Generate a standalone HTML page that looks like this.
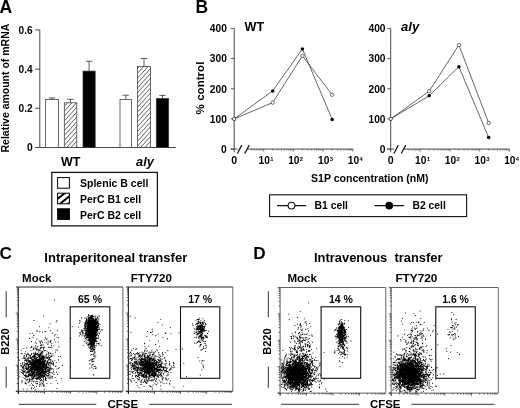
<!DOCTYPE html><html><head><meta charset="utf-8"><style>html,body{margin:0;padding:0;background:#fff}svg{display:block;will-change:transform}text{font-family:"Liberation Sans",sans-serif;font-weight:bold;fill:#000;white-space:pre}</style></head><body>
<svg width="520" height="408" viewBox="0 0 520 408">
<rect width="520" height="408" fill="#fff"/>
<defs><pattern id="h" width="1.9" height="1.9" patternUnits="userSpaceOnUse" patternTransform="rotate(33)"><rect width="1.9" height="1.9" fill="#fff"/><line x1="0.5" y1="0" x2="0.5" y2="1.9" stroke="#333" stroke-width="0.5"/></pattern><clipPath id="sw"><rect x="57.6" y="193.2" width="11.8" height="10.6"/></clipPath><pattern id="h2" width="4.2" height="4.2" patternUnits="userSpaceOnUse" patternTransform="rotate(45)"><rect width="4.2" height="4.2" fill="#fff"/><rect width="2.1" height="4.2" fill="#000"/></pattern></defs>
<text x="-0.4" y="13.3" font-size="17.5" text-anchor="start" textLength="12.7" lengthAdjust="spacingAndGlyphs">A</text>
<text transform="translate(9 88.1) rotate(-90)" font-size="10.6" text-anchor="middle" textLength="128.8" lengthAdjust="spacingAndGlyphs">Relative amount of mRNA</text>
<path d="M39.8 29.9V147.5H176" fill="none" stroke="#333" stroke-width="0.9"/>
<path d="M35.2 29.9H39.8" stroke="#333" stroke-width="0.9"/>
<text x="32.7" y="33.6" font-size="10.3" text-anchor="end" textLength="14.1" lengthAdjust="spacingAndGlyphs">0.6</text>
<path d="M35.2 69.1H39.8" stroke="#333" stroke-width="0.9"/>
<text x="32.7" y="72.8" font-size="10.3" text-anchor="end" textLength="14.1" lengthAdjust="spacingAndGlyphs">0.4</text>
<path d="M35.2 108.3H39.8" stroke="#333" stroke-width="0.9"/>
<text x="32.7" y="112.0" font-size="10.3" text-anchor="end" textLength="14.1" lengthAdjust="spacingAndGlyphs">0.2</text>
<path d="M35.2 147.5H39.8" stroke="#333" stroke-width="0.9"/>
<text x="32.7" y="151.2" font-size="10.3" text-anchor="end" textLength="5.7" lengthAdjust="spacingAndGlyphs">0</text>
<rect x="45.6" y="99.5" width="12.8" height="48.0" fill="#fff" stroke="#3a3a3a" stroke-width="0.75"/>
<path d="M52.0 99.5V97.9M48.8 97.9h6.4" stroke="#333" stroke-width="0.8" fill="none"/>
<clipPath id="cb1"><rect x="64.3" y="102.8" width="12.5" height="44.7"/></clipPath>
<rect x="64.3" y="102.8" width="12.5" height="44.7" fill="#fff"/>
<path d="M64.3 57.90l12.5 -13.75M64.3 62.75l12.5 -13.75M64.3 67.60l12.5 -13.75M64.3 72.45l12.5 -13.75M64.3 77.30l12.5 -13.75M64.3 82.15l12.5 -13.75M64.3 87.00l12.5 -13.75M64.3 91.85l12.5 -13.75M64.3 96.70l12.5 -13.75M64.3 101.55l12.5 -13.75M64.3 106.40l12.5 -13.75M64.3 111.25l12.5 -13.75M64.3 116.10l12.5 -13.75M64.3 120.95l12.5 -13.75M64.3 125.80l12.5 -13.75M64.3 130.65l12.5 -13.75M64.3 135.50l12.5 -13.75M64.3 140.35l12.5 -13.75M64.3 145.20l12.5 -13.75M64.3 150.05l12.5 -13.75M64.3 154.90l12.5 -13.75M64.3 159.75l12.5 -13.75M64.3 164.60l12.5 -13.75" clip-path="url(#cb1)" stroke="#333" stroke-width="0.8" fill="none"/>
<rect x="64.3" y="102.8" width="12.5" height="44.7" fill="none" stroke="#3a3a3a" stroke-width="0.75"/>
<path d="M70.5 102.8V99.3M67.3 99.3h6.4" stroke="#333" stroke-width="0.8" fill="none"/>
<rect x="83" y="71.1" width="12.2" height="76.4" fill="#000" stroke="#3a3a3a" stroke-width="0.75"/>
<path d="M89.1 71.1V61.3M85.9 61.3h6.4" stroke="#333" stroke-width="0.8" fill="none"/>
<rect x="120" y="99.5" width="11.5" height="48.0" fill="#fff" stroke="#3a3a3a" stroke-width="0.75"/>
<path d="M125.8 99.5V95.2M122.5 95.2h6.4" stroke="#333" stroke-width="0.8" fill="none"/>
<clipPath id="cb4"><rect x="137.4" y="66.4" width="13.2" height="81.1"/></clipPath>
<rect x="137.4" y="66.4" width="13.2" height="81.1" fill="#fff"/>
<path d="M137.4 24.90l13.2 -14.52M137.4 29.75l13.2 -14.52M137.4 34.60l13.2 -14.52M137.4 39.45l13.2 -14.52M137.4 44.30l13.2 -14.52M137.4 49.15l13.2 -14.52M137.4 54.00l13.2 -14.52M137.4 58.85l13.2 -14.52M137.4 63.70l13.2 -14.52M137.4 68.55l13.2 -14.52M137.4 73.40l13.2 -14.52M137.4 78.25l13.2 -14.52M137.4 83.10l13.2 -14.52M137.4 87.95l13.2 -14.52M137.4 92.80l13.2 -14.52M137.4 97.65l13.2 -14.52M137.4 102.50l13.2 -14.52M137.4 107.35l13.2 -14.52M137.4 112.20l13.2 -14.52M137.4 117.05l13.2 -14.52M137.4 121.90l13.2 -14.52M137.4 126.75l13.2 -14.52M137.4 131.60l13.2 -14.52M137.4 136.45l13.2 -14.52M137.4 141.30l13.2 -14.52M137.4 146.15l13.2 -14.52M137.4 151.00l13.2 -14.52M137.4 155.85l13.2 -14.52M137.4 160.70l13.2 -14.52M137.4 165.55l13.2 -14.52" clip-path="url(#cb4)" stroke="#333" stroke-width="0.8" fill="none"/>
<rect x="137.4" y="66.4" width="13.2" height="81.1" fill="none" stroke="#3a3a3a" stroke-width="0.75"/>
<path d="M144.0 66.4V58.5M140.8 58.5h6.4" stroke="#333" stroke-width="0.8" fill="none"/>
<rect x="156.3" y="98.5" width="12.4" height="49.0" fill="#000" stroke="#3a3a3a" stroke-width="0.75"/>
<path d="M162.5 98.5V95.4M159.3 95.4h6.4" stroke="#333" stroke-width="0.8" fill="none"/>
<text x="61" y="165.6" font-size="12.3" text-anchor="start" textLength="19.4" lengthAdjust="spacingAndGlyphs">WT</text>
<text x="136.1" y="165.6" font-size="12.3" text-anchor="start" textLength="17.8" lengthAdjust="spacingAndGlyphs" font-style="italic">aly</text>
<rect x="51.8" y="172.4" width="105.6" height="53.5" fill="#fff" stroke="#111" stroke-width="1.25"/>
<rect x="57.6" y="177.6" width="11.8" height="10.6" fill="#fff" stroke="#000" stroke-width="1"/>
<text x="80" y="187.3" font-size="10.5" text-anchor="start" textLength="68.4" lengthAdjust="spacingAndGlyphs">Splenic B cell</text>
<g clip-path="url(#sw)" stroke="#000" stroke-width="2"><path d="M50 198.1l30 -23.8M50 204.9l30 -23.8M50 211.7l30 -23.8M50 218.5l30 -23.8"/></g>
<rect x="57.6" y="193.2" width="11.8" height="10.6" fill="none" stroke="#000" stroke-width="1"/>
<text x="80" y="203.2" font-size="10.5" text-anchor="start" textLength="61.2" lengthAdjust="spacingAndGlyphs">PerC B1 cell</text>
<rect x="57.6" y="208.8" width="11.8" height="10.6" fill="#000" stroke="#000" stroke-width="1"/>
<text x="80" y="218.7" font-size="10.5" text-anchor="start" textLength="61.2" lengthAdjust="spacingAndGlyphs">PerC B2 cell</text>
<text x="195.5" y="12.6" font-size="17.5" text-anchor="start" textLength="12.6" lengthAdjust="spacingAndGlyphs">B</text>
<text transform="translate(203.7 88) rotate(-90)" font-size="10.5" text-anchor="middle" textLength="52.8" lengthAdjust="spacingAndGlyphs">% control</text>
<path d="M234.2 28.4V152.29999999999998M230.39999999999998 149.1H237.7M247.5 149.1H353.2" fill="none" stroke="#333" stroke-width="0.9"/>
<path d="M237.39999999999998 153.5l4.4 -8.4M244.79999999999998 153.5l4.4 -8.4" fill="none" stroke="#111" stroke-width="1.25"/>
<path d="M230.79999999999998 149.1H234.2" stroke="#444" stroke-width="0.9"/>
<text x="226.8" y="152.8" font-size="10.4" text-anchor="end" textLength="5.7" lengthAdjust="spacingAndGlyphs">0</text>
<path d="M230.79999999999998 118.9H234.2" stroke="#444" stroke-width="0.9"/>
<text x="226.8" y="122.6" font-size="10.4" text-anchor="end" textLength="17" lengthAdjust="spacingAndGlyphs">100</text>
<path d="M230.79999999999998 88.8H234.2" stroke="#444" stroke-width="0.9"/>
<text x="226.8" y="92.5" font-size="10.4" text-anchor="end" textLength="17" lengthAdjust="spacingAndGlyphs">200</text>
<path d="M230.79999999999998 58.6H234.2" stroke="#444" stroke-width="0.9"/>
<text x="226.8" y="62.3" font-size="10.4" text-anchor="end" textLength="17" lengthAdjust="spacingAndGlyphs">300</text>
<path d="M230.79999999999998 28.4H234.2" stroke="#444" stroke-width="0.9"/>
<text x="226.8" y="32.1" font-size="10.4" text-anchor="end" textLength="17" lengthAdjust="spacingAndGlyphs">400</text>
<path d="M251.9 149.1v1.4M254.7 149.1v1.4M257.1 149.1v1.4M259.1 149.1v1.4M260.8 149.1v1.4M262.3 149.1v1.4M263.7 149.1v2.6M272.7 149.1v1.4M277.9 149.1v1.4M281.6 149.1v1.4M284.5 149.1v1.4M286.8 149.1v1.4M288.8 149.1v1.4M290.6 149.1v1.4M292.1 149.1v1.4M293.4 149.1v2.6M302.4 149.1v1.4M307.6 149.1v1.4M311.4 149.1v1.4M314.2 149.1v1.4M316.6 149.1v1.4M318.6 149.1v1.4M320.3 149.1v1.4M321.8 149.1v1.4M323.2 149.1v2.6M332.2 149.1v1.4M337.4 149.1v1.4M341.1 149.1v1.4M344.0 149.1v1.4M346.3 149.1v1.4M348.3 149.1v1.4M350.1 149.1v1.4M351.6 149.1v1.4M352.9 149.1v2.6" stroke="#444" stroke-width="0.7" fill="none"/>
<text x="234.2" y="163.9" font-size="10.2" text-anchor="middle" textLength="5.9" lengthAdjust="spacingAndGlyphs">0</text>
<text x="258.5" y="163.9" font-size="10.2">10<tspan dy="-3.4" dx="0.3" font-size="5.8">1</tspan></text>
<text x="288.2" y="163.9" font-size="10.2">10<tspan dy="-3.4" dx="0.3" font-size="5.8">2</tspan></text>
<text x="318.0" y="163.9" font-size="10.2">10<tspan dy="-3.4" dx="0.3" font-size="5.8">3</tspan></text>
<text x="347.8" y="163.9" font-size="10.2">10<tspan dy="-3.4" dx="0.3" font-size="5.8">4</tspan></text>
<polyline points="234.2,118.9 272.7,102.6 302.4,55.9 332.2,94.8" fill="none" stroke="#333" stroke-width="0.75"/>
<polyline points="234.2,118.9 272.7,90.9 302.4,48.9 332.2,119.5" fill="none" stroke="#333" stroke-width="0.75"/>
<circle cx="234.2" cy="118.9" r="1.75" fill="#000"/>
<circle cx="272.7" cy="90.9" r="1.75" fill="#000"/>
<circle cx="302.4" cy="48.9" r="1.75" fill="#000"/>
<circle cx="332.2" cy="119.5" r="1.75" fill="#000"/>
<circle cx="234.2" cy="118.9" r="1.7" fill="#fff" stroke="#333" stroke-width="0.7"/>
<circle cx="272.7" cy="102.6" r="1.7" fill="#fff" stroke="#333" stroke-width="0.7"/>
<circle cx="302.4" cy="55.9" r="1.7" fill="#fff" stroke="#333" stroke-width="0.7"/>
<circle cx="332.2" cy="94.8" r="1.7" fill="#fff" stroke="#333" stroke-width="0.7"/>
<text x="244.5" y="31.2" font-size="12.3" text-anchor="start" textLength="19.6" lengthAdjust="spacingAndGlyphs">WT</text>
<path d="M390.7 28.4V152.29999999999998M386.9 149.1H394.2M404.0 149.1H509.7" fill="none" stroke="#333" stroke-width="0.9"/>
<path d="M393.9 153.5l4.4 -8.4M401.3 153.5l4.4 -8.4" fill="none" stroke="#111" stroke-width="1.25"/>
<path d="M387.3 149.1H390.7" stroke="#444" stroke-width="0.9"/>
<text x="385.5" y="152.8" font-size="10.4" text-anchor="end" textLength="5.7" lengthAdjust="spacingAndGlyphs">0</text>
<path d="M387.3 118.9H390.7" stroke="#444" stroke-width="0.9"/>
<text x="385.5" y="122.6" font-size="10.4" text-anchor="end" textLength="17" lengthAdjust="spacingAndGlyphs">100</text>
<path d="M387.3 88.8H390.7" stroke="#444" stroke-width="0.9"/>
<text x="385.5" y="92.5" font-size="10.4" text-anchor="end" textLength="17" lengthAdjust="spacingAndGlyphs">200</text>
<path d="M387.3 58.6H390.7" stroke="#444" stroke-width="0.9"/>
<text x="385.5" y="62.3" font-size="10.4" text-anchor="end" textLength="17" lengthAdjust="spacingAndGlyphs">300</text>
<path d="M387.3 28.4H390.7" stroke="#444" stroke-width="0.9"/>
<text x="385.5" y="32.1" font-size="10.4" text-anchor="end" textLength="17" lengthAdjust="spacingAndGlyphs">400</text>
<path d="M408.4 149.1v1.4M411.2 149.1v1.4M413.6 149.1v1.4M415.6 149.1v1.4M417.3 149.1v1.4M418.8 149.1v1.4M420.2 149.1v2.6M429.2 149.1v1.4M434.4 149.1v1.4M438.1 149.1v1.4M441.0 149.1v1.4M443.3 149.1v1.4M445.3 149.1v1.4M447.1 149.1v1.4M448.6 149.1v1.4M449.9 149.1v2.6M458.9 149.1v1.4M464.1 149.1v1.4M467.9 149.1v1.4M470.7 149.1v1.4M473.1 149.1v1.4M475.1 149.1v1.4M476.8 149.1v1.4M478.3 149.1v1.4M479.7 149.1v2.6M488.7 149.1v1.4M493.9 149.1v1.4M497.6 149.1v1.4M500.5 149.1v1.4M502.8 149.1v1.4M504.8 149.1v1.4M506.6 149.1v1.4M508.1 149.1v1.4M509.4 149.1v2.6" stroke="#444" stroke-width="0.7" fill="none"/>
<text x="390.7" y="163.9" font-size="10.2" text-anchor="middle" textLength="5.9" lengthAdjust="spacingAndGlyphs">0</text>
<text x="415.0" y="163.9" font-size="10.2">10<tspan dy="-3.4" dx="0.3" font-size="5.8">1</tspan></text>
<text x="444.8" y="163.9" font-size="10.2">10<tspan dy="-3.4" dx="0.3" font-size="5.8">2</tspan></text>
<text x="474.5" y="163.9" font-size="10.2">10<tspan dy="-3.4" dx="0.3" font-size="5.8">3</tspan></text>
<text x="504.2" y="163.9" font-size="10.2">10<tspan dy="-3.4" dx="0.3" font-size="5.8">4</tspan></text>
<polyline points="390.7,118.9 429.2,91.2 458.9,45.0 488.7,123.1" fill="none" stroke="#333" stroke-width="0.75"/>
<polyline points="390.7,118.9 429.2,95.7 458.9,66.7 488.7,137.6" fill="none" stroke="#333" stroke-width="0.75"/>
<circle cx="390.7" cy="118.9" r="1.75" fill="#000"/>
<circle cx="429.2" cy="95.7" r="1.75" fill="#000"/>
<circle cx="458.9" cy="66.7" r="1.75" fill="#000"/>
<circle cx="488.7" cy="137.6" r="1.75" fill="#000"/>
<circle cx="390.7" cy="118.9" r="1.7" fill="#fff" stroke="#333" stroke-width="0.7"/>
<circle cx="429.2" cy="91.2" r="1.7" fill="#fff" stroke="#333" stroke-width="0.7"/>
<circle cx="458.9" cy="45.0" r="1.7" fill="#fff" stroke="#333" stroke-width="0.7"/>
<circle cx="488.7" cy="123.1" r="1.7" fill="#fff" stroke="#333" stroke-width="0.7"/>
<text x="401" y="31.2" font-size="12.3" text-anchor="start" textLength="18.2" lengthAdjust="spacingAndGlyphs" font-style="italic">aly</text>
<text x="311" y="182.3" font-size="10.2" text-anchor="start" textLength="117.5" lengthAdjust="spacingAndGlyphs">S1P concentration (nM)</text>
<rect x="269.6" y="194.8" width="197" height="21.8" fill="#fff" stroke="#111" stroke-width="1.1"/>
<path d="M277 205.6h29.2M374.5 205.6h29.5" stroke="#111" stroke-width="1.1"/>
<circle cx="291.5" cy="205.6" r="3.4" fill="#fff" stroke="#111" stroke-width="1.1"/>
<circle cx="389.2" cy="205.6" r="3.9" fill="#000"/>
<text x="314.5" y="209" font-size="10.4" text-anchor="start" textLength="33.5" lengthAdjust="spacingAndGlyphs">B1 cell</text>
<text x="412.6" y="209" font-size="10.4" text-anchor="start" textLength="33.2" lengthAdjust="spacingAndGlyphs">B2 cell</text>
<text x="-0.6" y="258.8" font-size="17.3" text-anchor="start" textLength="12.4" lengthAdjust="spacingAndGlyphs">C</text>
<text x="253.2" y="258.8" font-size="17.3" text-anchor="start" textLength="12.4" lengthAdjust="spacingAndGlyphs">D</text>
<text x="44.3" y="262.3" font-size="12.4" text-anchor="start" textLength="143" lengthAdjust="spacingAndGlyphs">Intraperitoneal transfer</text>
<text x="314" y="262.3" font-size="12.4" text-anchor="start" textLength="128.5" lengthAdjust="spacingAndGlyphs">Intravenous  transfer</text>
<text x="22.1" y="281.7" font-size="10.9" text-anchor="start" textLength="29.4" lengthAdjust="spacingAndGlyphs">Mock</text>
<path d="M36.4 361.3h0M39.6 356.7h0M38.1 377.5h0M37.4 366.3h0M34.2 363.8h0M33.4 368.9h0M36.1 361.5h0M40.2 373.6h0M47.4 357.4h0M43.3 358.6h0M46.3 364.7h0M41.0 361.4h0M38.7 372.7h0M33.8 357.1h0M39.1 361.6h0M30.5 366.6h0M37.9 368.3h0M45.6 370.6h0M40.4 367.1h0M43.6 376.8h0M37.5 362.9h0M33.6 366.3h0M37.2 369.8h0M37.5 363.7h0M43.9 363.8h0M47.0 362.9h0M36.1 362.0h0M37.7 359.5h0M38.5 362.4h0M37.7 357.3h0M34.1 367.3h0M39.5 357.1h0M40.5 376.0h0M40.6 374.1h0M34.3 371.0h0M38.6 364.2h0M32.1 362.2h0M42.8 371.6h0M35.0 366.2h0M38.0 368.2h0M37.3 361.5h0M36.8 370.8h0M34.9 361.1h0M32.0 365.8h0M46.0 356.3h0M40.1 361.9h0M40.2 367.9h0M47.5 362.9h0M38.7 362.9h0M41.3 369.3h0M39.2 364.9h0M43.9 371.7h0M41.1 352.7h0M40.4 368.2h0M38.1 367.9h0M40.2 357.2h0M43.8 358.5h0M30.8 369.8h0M38.6 359.7h0M37.5 361.9h0M37.9 368.3h0M31.2 363.5h0M42.1 367.7h0M35.7 360.7h0M38.2 366.8h0M37.1 370.8h0M32.5 366.9h0M37.3 353.9h0M31.8 368.6h0M35.4 365.5h0M37.9 360.5h0M39.1 372.4h0M39.4 356.2h0M38.6 374.9h0M47.7 361.9h0M40.9 373.4h0M34.2 365.0h0M36.7 358.3h0M36.5 365.7h0M38.4 366.9h0M36.7 368.0h0M35.7 370.7h0M45.7 360.6h0M39.3 367.8h0M37.8 369.0h0M38.1 363.8h0M38.3 360.4h0M44.7 360.3h0M41.0 369.1h0M43.6 369.4h0M26.7 360.9h0M40.4 358.3h0M43.4 371.6h0M47.0 357.2h0M39.3 366.0h0M32.3 361.0h0M41.5 356.1h0M36.7 365.9h0M32.0 364.2h0M36.7 372.7h0M43.4 377.0h0M43.9 364.2h0M42.0 370.5h0M35.0 370.6h0M49.2 362.5h0M34.5 360.7h0M38.8 373.5h0M33.4 363.3h0M44.4 365.1h0M40.9 363.7h0M42.7 364.5h0M39.5 362.1h0M38.9 369.1h0M39.9 371.7h0M31.6 363.3h0M43.1 358.1h0M42.8 365.5h0M37.6 357.5h0M39.1 361.9h0M40.4 371.6h0M45.4 377.2h0M40.9 367.2h0M39.3 359.7h0M37.1 369.2h0M33.2 353.6h0M36.8 361.6h0M39.5 373.1h0M38.2 369.1h0M39.5 358.1h0M42.2 356.6h0M40.9 369.6h0M40.3 365.0h0M41.8 362.1h0M39.9 367.3h0M39.1 362.2h0M41.1 355.3h0M32.3 369.4h0M44.2 361.9h0M34.0 360.0h0M42.5 358.3h0M39.2 366.5h0M43.6 361.0h0M39.3 368.4h0M35.4 363.8h0M43.5 370.8h0M39.9 363.2h0M39.7 361.8h0M39.5 355.0h0M43.2 359.5h0M42.5 368.9h0M40.1 381.0h0M33.0 358.7h0M37.6 359.8h0M39.6 367.0h0M46.4 367.7h0M40.7 361.7h0M38.8 365.6h0M44.0 356.9h0M38.8 363.7h0M39.1 369.9h0M39.8 373.7h0M33.2 364.3h0M43.0 363.9h0M40.9 367.6h0M38.1 370.9h0M34.6 367.7h0M40.1 361.3h0M44.8 367.1h0M36.7 370.2h0M35.0 361.5h0M40.9 358.3h0M32.8 367.9h0M30.3 367.1h0M37.4 370.2h0M36.5 365.7h0M38.1 361.9h0M37.0 363.0h0M40.6 359.9h0M38.3 360.3h0M36.8 362.3h0M37.4 362.7h0M41.8 371.0h0M43.1 358.9h0M42.8 365.0h0M42.0 362.2h0M26.0 372.9h0M35.2 366.6h0M38.0 363.3h0M40.1 369.5h0M32.8 365.6h0M44.9 362.8h0M40.4 373.2h0M36.8 368.9h0M39.9 374.2h0M37.9 371.2h0M36.2 369.3h0M41.3 365.9h0M37.4 359.6h0M33.6 368.9h0M36.7 365.6h0M38.8 368.8h0M34.9 365.2h0M44.3 361.7h0M34.9 360.1h0M46.3 368.9h0M42.8 371.9h0M35.5 363.8h0M39.8 367.6h0M44.0 372.4h0M38.5 361.0h0M34.5 363.5h0M39.7 359.5h0M47.2 371.4h0M33.3 366.6h0M41.5 362.9h0M39.3 356.7h0M38.8 364.4h0M37.7 370.4h0M38.0 363.8h0M43.4 363.1h0M41.7 368.6h0M35.3 358.9h0M45.5 365.6h0M34.1 368.4h0M41.9 361.3h0M40.0 361.0h0M44.1 366.6h0M40.7 364.8h0M43.5 364.1h0M39.2 366.4h0M43.2 366.4h0M40.7 360.5h0M47.9 361.9h0M36.5 367.6h0M44.1 371.1h0M41.1 372.3h0M40.0 360.9h0M37.0 371.0h0M41.1 369.2h0M33.4 365.2h0M33.8 367.8h0M42.1 369.6h0M33.1 374.5h0M45.0 359.9h0M38.2 368.4h0M40.3 364.6h0M39.6 364.3h0M41.0 371.2h0M38.2 369.5h0M37.8 360.1h0M38.8 363.9h0M43.5 366.5h0M43.8 358.0h0M44.4 369.8h0M40.8 364.9h0M38.5 366.2h0M32.6 367.1h0M41.9 374.6h0M42.7 365.5h0M37.7 363.5h0M42.5 374.3h0M44.5 362.8h0M39.7 362.6h0M43.5 358.2h0M40.5 370.9h0M32.4 366.7h0M37.4 367.8h0M37.7 366.2h0M41.4 364.6h0M35.9 361.3h0M37.6 361.3h0M35.5 367.6h0M39.2 366.0h0M39.6 373.7h0M43.2 361.4h0M42.5 362.8h0M40.0 360.1h0M40.3 372.4h0M39.7 359.0h0M39.8 369.3h0M45.5 372.8h0M29.4 364.6h0M38.6 369.1h0M40.6 354.4h0M43.8 363.4h0M34.9 356.8h0M40.7 366.2h0M42.8 365.4h0M37.5 361.4h0M31.7 370.2h0M37.9 367.2h0M34.5 362.7h0M41.9 362.7h0M35.9 357.8h0M46.4 364.4h0M39.9 376.3h0M36.1 361.7h0M37.3 367.5h0M34.9 362.5h0M40.9 369.5h0M45.3 367.6h0M38.4 364.2h0M43.0 356.2h0M35.5 362.7h0M40.5 371.5h0M48.5 364.1h0M33.7 368.6h0M44.2 362.9h0M44.0 355.8h0M31.8 367.6h0M33.6 367.0h0M35.4 362.4h0M43.2 363.5h0M37.6 366.9h0M38.6 362.3h0M42.1 367.2h0M39.8 364.3h0M40.2 353.3h0M38.0 364.6h0M43.8 362.3h0M36.2 361.1h0M46.0 367.4h0M38.0 362.9h0M36.1 368.2h0M41.9 371.0h0M41.1 366.1h0M31.4 357.4h0M40.2 361.6h0M33.9 370.1h0M36.0 364.1h0M42.4 361.2h0M35.8 364.9h0M40.7 368.0h0M37.8 366.7h0M47.0 368.7h0M38.9 361.1h0M34.6 364.0h0M34.9 364.1h0M35.7 365.3h0M39.8 354.6h0M39.3 364.2h0M43.2 358.5h0M39.9 372.5h0M39.8 373.4h0M40.6 374.0h0M38.8 369.6h0M40.4 362.9h0M42.4 370.3h0M42.4 364.4h0M37.1 368.5h0M32.2 360.8h0M36.0 362.4h0M40.4 367.8h0M29.3 374.5h0M37.4 365.3h0M41.1 377.0h0M37.0 379.6h0M34.8 358.8h0M46.3 365.3h0M44.8 360.5h0M38.2 364.7h0M44.5 362.7h0M44.4 365.1h0M34.7 370.4h0M50.0 370.2h0M35.5 366.8h0M38.2 365.4h0M34.9 366.0h0M39.5 366.1h0M34.0 368.4h0M39.2 365.4h0M43.6 368.0h0M40.1 358.7h0M38.2 369.5h0M45.4 374.4h0M35.6 366.4h0M43.1 358.2h0M38.0 372.4h0M40.1 363.7h0M39.3 350.1h0M39.7 364.3h0M39.0 368.5h0M36.1 367.4h0M36.9 371.8h0M41.0 368.6h0M38.8 366.1h0M34.5 355.3h0M36.4 359.7h0M36.4 366.4h0M39.0 368.9h0M39.9 360.1h0M39.5 362.3h0M36.6 367.8h0M39.2 355.6h0M33.7 355.4h0M27.6 364.2h0M38.9 366.7h0M32.5 363.0h0M35.4 353.6h0M34.3 365.6h0M41.7 358.6h0M34.3 368.8h0M40.2 364.9h0M37.2 366.8h0M34.2 368.7h0M32.8 362.7h0M41.0 369.7h0M40.7 371.8h0M42.2 367.5h0M46.4 372.3h0M40.2 362.2h0M40.2 370.2h0M38.6 366.8h0M39.5 360.4h0M37.7 365.0h0M35.5 362.7h0M47.1 362.6h0M31.6 365.9h0M40.1 370.9h0M40.8 363.8h0M39.7 366.1h0M35.2 357.9h0M38.3 366.0h0M37.2 371.4h0M34.8 369.6h0M38.9 367.9h0M37.4 362.7h0M36.8 360.4h0M41.8 365.0h0M34.8 358.6h0M40.8 359.1h0M36.6 370.3h0M40.7 360.7h0M39.3 374.7h0M40.0 358.1h0M35.1 367.7h0M35.9 359.4h0M35.6 366.3h0M39.7 360.1h0M42.0 365.7h0M43.3 364.6h0M37.0 363.1h0M39.3 368.1h0M32.5 373.2h0M30.1 362.4h0M35.5 370.0h0M36.3 365.9h0M32.8 365.3h0M31.9 376.7h0M41.1 354.3h0M31.5 362.6h0M21.6 365.5h0M34.7 357.9h0M35.4 366.3h0M70.6 366.9h0M40.4 364.2h0M53.0 361.7h0M48.7 355.0h0M33.6 356.9h0M41.6 359.8h0M51.9 372.6h0M38.9 363.5h0M39.2 360.8h0M41.8 372.7h0M24.3 371.9h0M30.3 361.6h0M40.3 362.6h0M42.2 372.7h0M29.4 370.4h0M34.6 360.9h0M36.3 369.4h0M36.1 367.3h0M43.4 376.3h0M38.3 360.6h0M38.8 374.5h0M25.0 370.9h0M28.2 359.5h0M40.2 375.8h0M23.5 374.7h0M39.7 357.1h0M31.6 383.2h0M30.3 358.4h0M43.0 360.2h0M31.5 364.9h0M29.9 373.6h0M31.5 372.1h0M37.9 366.7h0M61.3 378.3h0M37.2 378.6h0M35.2 389.9h0M45.7 369.0h0M34.1 347.1h0M48.9 358.9h0M27.8 368.2h0M36.8 368.3h0M25.4 357.7h0M27.8 358.3h0M33.0 365.4h0M44.8 365.9h0M44.7 346.7h0M32.1 375.3h0M41.7 367.7h0M34.0 367.4h0M38.3 369.9h0M38.6 359.3h0M42.7 367.1h0M31.9 375.8h0M36.1 376.1h0M39.2 371.2h0M38.1 365.3h0M30.3 360.9h0M52.3 378.1h0M33.2 371.7h0M43.9 364.1h0M39.0 350.1h0M47.9 360.5h0M55.2 377.5h0M35.4 369.0h0M26.5 361.5h0M38.4 365.3h0M57.0 388.5h0M41.7 377.3h0M26.5 356.6h0M33.2 366.4h0M48.9 357.5h0M25.0 353.5h0M35.7 368.9h0M34.7 387.1h0M56.2 380.2h0M34.7 367.9h0M48.7 364.4h0M31.3 369.1h0M30.2 375.9h0M46.0 355.6h0M42.7 352.3h0M22.1 382.8h0M42.8 369.8h0M42.9 380.6h0M31.9 369.4h0M39.2 379.5h0M39.6 362.5h0M33.0 371.6h0M32.1 380.2h0M31.4 375.8h0M34.8 363.7h0M25.6 374.8h0M36.8 362.1h0M24.2 355.8h0M37.9 371.8h0M36.5 379.0h0M28.2 374.5h0M44.7 357.2h0M54.1 374.6h0M48.8 373.1h0M25.3 363.7h0M48.3 347.1h0M39.1 375.8h0M36.7 374.8h0M32.0 371.6h0M37.1 353.3h0M49.3 355.3h0M42.0 375.8h0M33.6 374.1h0M31.4 371.6h0M33.6 365.5h0M42.3 370.7h0M53.5 363.0h0M28.0 364.9h0M37.2 360.4h0M33.8 369.6h0M30.6 364.1h0M40.7 375.4h0M42.0 373.4h0M24.8 360.8h0M28.2 382.7h0M47.6 358.2h0M40.0 371.2h0M41.8 376.4h0M32.8 378.1h0M33.9 349.3h0M41.2 375.8h0M32.9 377.6h0M27.5 379.4h0M37.2 349.1h0M45.1 361.9h0M28.2 366.7h0M46.4 363.8h0M43.3 378.6h0M29.7 361.9h0M37.3 377.7h0M36.8 372.1h0M42.7 355.5h0M43.0 359.3h0M25.8 363.6h0M25.4 368.3h0M46.2 375.7h0M38.2 366.0h0M40.8 375.0h0M40.1 354.4h0M50.5 342.2h0M26.7 364.7h0M46.7 371.3h0M30.1 364.5h0M43.5 359.1h0M48.9 371.0h0M25.2 383.5h0M40.7 366.6h0M34.8 361.5h0M34.7 360.5h0M37.6 383.8h0M28.0 367.2h0M28.8 372.6h0M42.9 377.6h0M44.6 376.4h0M32.3 359.8h0M24.5 375.4h0M57.4 374.5h0M46.8 371.6h0M40.3 375.9h0M28.2 362.8h0M32.1 366.9h0M39.3 363.1h0M28.8 373.8h0M51.1 362.1h0M38.4 370.8h0M40.6 358.4h0M28.3 366.5h0M29.3 364.5h0M30.3 366.6h0M39.6 368.6h0M34.9 366.0h0M34.7 365.7h0M39.9 350.3h0M39.2 376.7h0M50.1 362.3h0M35.5 365.5h0M28.4 360.6h0M37.1 375.8h0M49.9 360.0h0M32.4 371.7h0M37.6 377.3h0M34.1 381.2h0M40.7 377.4h0M39.4 372.6h0M30.2 357.6h0M35.2 378.2h0M45.4 377.4h0M46.7 374.5h0M45.2 374.2h0M44.7 368.2h0M34.3 363.3h0M34.1 376.5h0M45.3 378.1h0M27.1 358.9h0M36.7 375.1h0M21.1 369.6h0M33.9 374.9h0M31.1 369.8h0M26.8 376.8h0M42.2 376.1h0M30.8 374.9h0M34.0 356.2h0M35.0 374.4h0M30.8 368.0h0M49.5 358.3h0M32.9 373.5h0M38.9 356.3h0M25.9 375.0h0M33.1 381.6h0M34.4 363.5h0M34.6 375.2h0M32.2 371.4h0M38.5 373.0h0M50.7 356.5h0M36.1 372.7h0M36.0 368.8h0M33.8 373.8h0M59.1 367.7h0M51.2 376.7h0M42.0 369.9h0M43.3 373.3h0M31.1 379.0h0M35.9 369.2h0M39.0 375.9h0M38.3 369.6h0M29.8 372.0h0M30.5 363.4h0M41.7 374.1h0M39.9 377.8h0M38.0 374.3h0M48.2 371.3h0M31.7 358.7h0M39.3 370.6h0M24.7 378.6h0M44.4 363.8h0M27.6 353.2h0M26.4 369.4h0M34.5 362.5h0M57.7 383.3h0M32.0 367.4h0M26.3 367.7h0M41.2 362.6h0M39.2 369.8h0M51.5 363.2h0M26.3 360.4h0M23.5 367.3h0M34.5 361.2h0M40.5 378.6h0M40.3 358.3h0M46.6 367.2h0M24.3 362.2h0M30.1 356.5h0M36.1 381.4h0M44.5 350.6h0M41.3 379.6h0M33.6 356.3h0M28.4 368.5h0M44.8 386.2h0M45.4 350.5h0M60.6 356.6h0M35.7 378.5h0M51.2 369.2h0M26.8 363.3h0M32.5 367.5h0M31.4 359.9h0M33.2 368.8h0M29.7 380.0h0M32.6 364.7h0M36.8 368.9h0M33.4 377.6h0M42.9 384.0h0M36.5 363.0h0M37.2 370.2h0M49.9 363.2h0M40.0 362.5h0M38.6 364.5h0M37.1 362.6h0M37.8 353.7h0M42.2 351.6h0M30.3 361.9h0M47.1 368.9h0M50.8 377.7h0M47.2 363.5h0M33.0 366.4h0M23.5 373.2h0M33.5 373.8h0M38.6 366.9h0M44.4 367.4h0M35.7 383.0h0M34.6 365.1h0M50.4 363.8h0M31.5 354.6h0M46.4 371.3h0M45.0 365.6h0M25.8 383.3h0M39.6 365.1h0M32.4 374.4h0M29.1 375.4h0M21.3 381.2h0M23.7 357.1h0M40.8 380.5h0M33.9 367.9h0M39.6 366.9h0M28.1 365.3h0M34.5 364.6h0M34.9 365.0h0M23.9 348.8h0M22.9 371.9h0M41.0 368.3h0M38.5 360.1h0M29.2 367.3h0M36.4 386.5h0M43.0 370.9h0M53.0 364.6h0M29.6 381.7h0M42.6 361.3h0M55.5 366.5h0M37.8 363.3h0M49.9 365.9h0M49.7 372.5h0M37.2 361.9h0M21.1 366.7h0M44.0 368.5h0M46.3 364.5h0M47.7 367.5h0M47.6 361.9h0M37.0 361.8h0M30.8 368.1h0M33.3 359.4h0M36.9 371.2h0M40.7 366.2h0M33.1 360.3h0M37.7 362.8h0M44.8 363.9h0M40.0 366.5h0M57.0 368.7h0M55.9 366.1h0M27.3 360.7h0M32.3 379.3h0M25.9 375.1h0M27.2 368.7h0M42.0 375.4h0M28.7 370.4h0M28.2 365.7h0M34.9 368.4h0M44.2 389.3h0M34.2 375.8h0M34.2 376.2h0M45.2 364.6h0M41.3 372.6h0M41.2 386.0h0M45.4 371.2h0M28.5 376.4h0M39.1 377.9h0M31.8 372.9h0M46.1 380.4h0M44.3 369.6h0M28.2 371.7h0M48.8 362.7h0M27.1 389.0h0M47.4 370.2h0M39.0 368.6h0M29.7 378.9h0M27.6 363.8h0M34.6 367.7h0M37.0 361.4h0M31.1 367.9h0M42.1 364.6h0M25.1 372.1h0M37.2 366.7h0M37.2 362.9h0M21.0 365.4h0M39.9 366.8h0M26.3 363.6h0M31.9 373.1h0M35.3 368.9h0M45.1 358.2h0M33.0 371.9h0M50.0 357.5h0M49.7 369.2h0M46.7 368.1h0M48.7 363.0h0M40.3 361.1h0M32.4 362.1h0M42.9 384.2h0M45.6 365.6h0M39.3 366.1h0M35.1 375.4h0M23.6 371.1h0M43.1 376.2h0M40.3 357.9h0M25.9 359.0h0M43.5 367.4h0M36.3 365.4h0M44.0 369.0h0M43.8 375.7h0M24.4 358.2h0M34.6 370.0h0M41.4 367.5h0M45.2 373.1h0M49.5 369.1h0M20.6 363.5h0M36.7 360.8h0M43.4 348.2h0M47.9 375.6h0M51.9 356.0h0M29.1 364.5h0M34.0 381.0h0M28.1 364.4h0M44.3 372.6h0M25.7 366.0h0M47.5 373.3h0M45.4 368.0h0M41.5 363.6h0M31.3 365.6h0M43.7 357.0h0M24.9 365.1h0M35.1 372.0h0M36.3 358.8h0M45.0 374.0h0M39.7 373.8h0M39.6 384.7h0M33.4 362.6h0M37.3 373.0h0M36.1 354.4h0M43.6 364.4h0M35.7 368.6h0M46.2 371.0h0M22.5 367.3h0M47.7 367.0h0M35.7 362.8h0M47.0 364.2h0M38.0 370.2h0M44.7 372.2h0M50.2 372.8h0M32.4 375.6h0M37.9 377.2h0M35.7 353.3h0M39.0 363.6h0M23.1 366.4h0M35.7 362.6h0M35.1 376.1h0M30.4 373.7h0M35.5 366.9h0M23.8 368.7h0M49.4 377.8h0M41.1 364.9h0M53.6 365.2h0M29.6 374.9h0M27.1 371.5h0M39.7 379.0h0M22.7 370.7h0M39.2 373.7h0M31.1 363.4h0M34.3 360.2h0M39.4 367.6h0M37.6 346.6h0M53.4 371.0h0M42.7 375.4h0M26.0 368.3h0M45.7 366.0h0M25.6 376.4h0M37.9 367.4h0M26.4 375.5h0M30.0 385.2h0M48.6 373.5h0M32.3 375.2h0M31.6 371.6h0M32.3 369.7h0M34.5 369.9h0M49.7 368.3h0M26.9 376.3h0M26.4 354.9h0M42.2 365.6h0M23.3 372.9h0M34.0 361.0h0M47.0 366.9h0M37.2 362.2h0M33.0 371.2h0M31.0 374.6h0M29.2 379.3h0M32.0 371.7h0M38.3 362.0h0M48.0 369.7h0M45.5 372.2h0M32.2 378.9h0M30.8 350.7h0M43.2 370.7h0M21.3 353.2h0M33.3 373.4h0M34.3 371.3h0M27.4 371.7h0M28.4 374.7h0M40.1 370.8h0M22.7 362.6h0M29.1 370.5h0M31.4 377.2h0M37.8 366.8h0M25.1 367.9h0M46.5 358.1h0M34.4 376.9h0M34.8 363.7h0M33.9 361.8h0M31.2 364.2h0M28.5 360.9h0M47.0 365.7h0M38.7 377.8h0M36.0 374.0h0M45.6 379.0h0M30.8 379.5h0M42.4 360.6h0M37.1 371.5h0M29.2 379.6h0M43.5 385.9h0M24.0 356.5h0M42.6 356.4h0M29.2 371.4h0M40.5 365.1h0M48.9 359.8h0M41.8 370.7h0M31.7 361.5h0M36.6 349.7h0M33.7 367.5h0M26.7 368.7h0M27.3 372.8h0M37.2 375.2h0M41.5 369.1h0M21.5 365.8h0M36.2 362.4h0M41.2 354.6h0M37.8 364.2h0M28.1 375.6h0M45.8 372.9h0M26.3 383.9h0M42.4 366.5h0M50.6 353.6h0M39.0 375.9h0M39.5 358.4h0M38.7 354.9h0M30.1 368.9h0M34.0 373.3h0M24.7 358.8h0M37.9 365.0h0M41.4 361.5h0M31.0 358.3h0M28.7 357.2h0M32.6 368.8h0M36.6 364.7h0M37.2 362.3h0M35.8 347.0h0M37.3 381.5h0M25.4 360.2h0M42.0 358.6h0M49.0 370.6h0M24.4 355.7h0M30.9 368.4h0M39.3 366.1h0M44.9 374.9h0M42.3 358.9h0M47.7 362.5h0M36.2 365.8h0M40.2 384.2h0M40.2 355.9h0M32.9 369.9h0M47.0 362.4h0M42.0 370.1h0M45.1 372.8h0M33.3 368.7h0M45.5 369.7h0M27.6 369.8h0M40.0 362.9h0M27.9 354.5h0M43.0 364.8h0M32.8 361.5h0M38.1 365.6h0M22.7 373.4h0M50.0 370.6h0M41.8 371.3h0M36.4 376.3h0M40.2 348.7h0M39.5 371.0h0M48.8 367.4h0M38.5 366.8h0M23.9 357.2h0M34.4 371.9h0M47.7 376.7h0M41.5 375.7h0M33.0 366.9h0M41.9 372.6h0M37.6 374.9h0M41.9 382.0h0M23.0 377.3h0M28.9 368.7h0M42.4 368.3h0M34.7 368.9h0M39.6 369.3h0M53.5 363.6h0M33.9 373.7h0M38.7 362.1h0M31.8 361.2h0M31.2 370.4h0M36.0 363.0h0M24.1 365.6h0M48.4 373.8h0M35.7 367.5h0M46.3 366.5h0M37.7 371.2h0M37.9 369.2h0M42.4 362.0h0M42.8 383.4h0M26.3 364.0h0M47.0 375.2h0M28.3 382.0h0M38.4 362.6h0M58.6 368.3h0M37.3 361.0h0M51.0 375.8h0M33.6 364.9h0M41.9 358.8h0M37.1 378.0h0M40.2 374.8h0M29.3 360.5h0M28.7 376.9h0M39.5 369.1h0M23.2 389.0h0M29.4 381.1h0M42.1 363.1h0M31.3 365.4h0M29.0 360.6h0M27.1 368.6h0M37.9 367.9h0M33.5 373.3h0M37.9 368.2h0M35.0 355.9h0M52.5 361.1h0M32.9 378.7h0M19.8 376.7h0M37.6 366.2h0M36.7 366.4h0M38.0 366.2h0M22.8 367.7h0M46.4 354.2h0M36.4 374.6h0M36.3 362.3h0M23.1 368.7h0M40.7 347.5h0M36.1 369.4h0M48.2 378.1h0M33.1 349.8h0M26.0 379.5h0M37.7 371.2h0M28.8 361.7h0M40.2 354.9h0M27.4 376.7h0M35.5 369.6h0M34.7 372.2h0M36.3 365.3h0M32.2 361.2h0M29.7 374.4h0M36.1 359.9h0M31.7 374.6h0M37.9 354.3h0M34.3 360.2h0M36.1 377.9h0M48.5 353.6h0M39.2 358.5h0M41.8 372.7h0M40.5 369.3h0M32.6 384.9h0M25.2 382.1h0M43.6 372.4h0M45.6 373.0h0M41.5 353.0h0M40.3 360.5h0M40.0 364.9h0M36.4 366.1h0M39.0 356.6h0M36.7 360.1h0M39.4 360.8h0M28.6 375.9h0M31.3 370.9h0M41.5 364.9h0M33.8 365.3h0M37.7 362.0h0M52.9 353.8h0M42.8 372.8h0M42.4 375.1h0M31.0 370.4h0M27.1 371.3h0M34.9 370.4h0M36.8 383.7h0M30.1 369.1h0M38.0 357.0h0M42.5 359.2h0M41.8 373.1h0M27.9 376.0h0M36.7 374.2h0M31.1 369.0h0M40.5 355.7h0M50.6 361.9h0M50.6 353.1h0M39.1 364.4h0M46.1 356.7h0M50.6 368.2h0M37.1 366.1h0M39.0 352.0h0M43.9 373.3h0M36.4 373.5h0M32.5 356.4h0M30.4 368.6h0M36.8 373.2h0M31.5 365.2h0M43.5 374.3h0M33.9 369.0h0M49.1 376.0h0M47.0 368.9h0M26.3 366.1h0M45.9 371.5h0M33.4 373.7h0M48.3 369.4h0M41.1 363.9h0M36.4 361.1h0M42.5 364.4h0M32.1 362.9h0M39.6 369.1h0M40.1 368.8h0M35.6 366.7h0M40.1 367.4h0M28.4 368.8h0M41.5 379.9h0M26.7 377.0h0M42.1 362.8h0M40.8 370.8h0M42.8 364.8h0M32.2 366.6h0M62.3 365.4h0M35.0 362.4h0M38.2 356.5h0M30.6 347.7h0M48.9 369.0h0M33.0 376.8h0M45.3 360.1h0M29.0 371.4h0M39.5 364.3h0M33.8 369.6h0M44.8 360.9h0M34.5 365.5h0M29.8 366.5h0M40.8 348.3h0M27.0 369.1h0M29.0 366.2h0M43.4 347.5h0M21.4 372.5h0M43.4 367.1h0M33.7 369.0h0M29.4 370.2h0M39.1 364.0h0M42.3 358.7h0M32.2 363.8h0M35.6 363.9h0M43.7 385.1h0M43.4 382.1h0M36.7 363.4h0M30.7 364.0h0M29.2 369.9h0M32.1 371.8h0M42.8 361.8h0M41.9 359.3h0M39.7 382.8h0M48.7 375.8h0M34.6 354.8h0M34.0 353.1h0M33.9 360.7h0M53.1 369.1h0M20.1 371.7h0M39.6 364.5h0M40.9 354.3h0M37.7 369.0h0M56.6 372.1h0M46.9 367.3h0M43.6 363.3h0M29.8 371.9h0M41.4 366.8h0M34.1 358.2h0M37.6 368.0h0M38.9 356.8h0M33.3 375.0h0M42.5 371.0h0M50.8 359.2h0M45.9 369.0h0M39.1 377.3h0M21.3 350.0h0M46.3 366.1h0M46.2 380.5h0M35.7 354.7h0M33.4 365.9h0M42.8 355.7h0M30.6 366.7h0M43.9 347.8h0M28.4 354.1h0M29.7 362.9h0M37.5 368.4h0M25.3 370.3h0M37.4 370.7h0M41.8 376.5h0M26.5 372.9h0M45.0 373.2h0M32.7 359.3h0M41.9 366.0h0M33.6 385.6h0M33.1 374.0h0M23.3 373.3h0M31.7 375.3h0M31.0 364.0h0M51.0 383.2h0M45.8 364.2h0M26.1 366.6h0M44.0 384.9h0M39.3 350.3h0M34.3 370.2h0M41.2 353.2h0M44.0 361.9h0M32.7 366.5h0M35.2 364.4h0M38.8 368.7h0M29.3 361.0h0M39.0 366.4h0M36.8 357.6h0M31.8 364.1h0M30.5 355.9h0M40.0 372.6h0M44.7 356.7h0M40.2 372.9h0M30.4 363.9h0M43.6 364.8h0M38.9 376.9h0M42.3 368.1h0M47.1 351.8h0M30.0 371.3h0M36.3 343.5h0M32.5 369.4h0M30.3 364.0h0M54.0 355.8h0M45.2 367.9h0M22.9 364.7h0M41.0 383.7h0M32.9 363.7h0M46.9 383.2h0M38.2 378.6h0M36.0 362.2h0M38.7 360.6h0M40.6 378.1h0M37.7 366.1h0M35.7 368.6h0M36.3 365.2h0M41.7 357.3h0M28.2 364.2h0M37.5 359.4h0M36.5 354.7h0M33.5 364.8h0M43.5 381.9h0M26.9 380.6h0M34.5 366.7h0M30.5 368.4h0M42.0 371.5h0M33.6 378.5h0M37.9 369.9h0M40.7 363.3h0M24.4 364.0h0M41.2 376.6h0M31.3 388.7h0M35.4 362.1h0M36.6 350.3h0M44.1 373.9h0M43.6 366.6h0M52.0 368.4h0M38.9 377.5h0M33.6 367.8h0M33.4 356.3h0M42.9 351.0h0M50.7 366.9h0M40.3 357.7h0M32.8 369.7h0M39.8 356.7h0M39.6 364.3h0M37.8 355.1h0M31.4 364.3h0M33.1 372.2h0M46.2 378.4h0M39.2 365.7h0M19.3 360.1h0M37.5 383.4h0M22.3 370.3h0M53.9 372.3h0M39.1 372.3h0M27.6 379.3h0M44.1 375.6h0M31.1 372.9h0M42.1 373.6h0M37.7 360.2h0M27.8 362.2h0M43.0 366.4h0M26.5 368.1h0M48.5 367.4h0M38.0 369.8h0M29.0 367.5h0M22.6 363.7h0M50.8 353.8h0M49.4 374.2h0M27.2 372.2h0M51.0 360.0h0M38.9 371.4h0M35.7 370.6h0M36.8 367.9h0M35.3 352.1h0M49.3 357.3h0M38.7 362.3h0M22.4 380.7h0M54.7 360.2h0M44.7 364.4h0M28.6 358.1h0M34.6 363.2h0M30.1 370.1h0M37.9 350.1h0M40.7 343.8h0M39.5 372.8h0M32.6 367.6h0M30.9 362.3h0M44.5 375.3h0M36.7 375.3h0M56.0 349.9h0M30.9 365.9h0M44.0 376.5h0M37.9 361.7h0M31.3 364.7h0M48.7 375.2h0M38.5 365.1h0M30.2 357.4h0M34.9 361.6h0M45.9 356.3h0M27.4 371.9h0M48.8 353.0h0M43.1 375.6h0M35.2 353.6h0M48.7 367.7h0M51.9 355.1h0M42.4 364.7h0M38.9 375.8h0M52.7 376.6h0M49.8 378.1h0M29.9 366.5h0M35.8 368.2h0M35.7 369.2h0M34.1 372.4h0M25.2 364.0h0M44.9 376.4h0M38.2 370.0h0M38.3 376.8h0M49.1 371.2h0M32.8 372.9h0M37.0 361.2h0M39.8 363.8h0M33.9 356.6h0M36.6 364.8h0M43.8 365.8h0M37.4 374.2h0M48.5 356.8h0M39.2 366.3h0M25.7 377.7h0M36.5 375.9h0M31.7 346.4h0M48.8 365.1h0M43.7 379.5h0M41.7 347.2h0M52.8 373.7h0M49.4 359.7h0M43.4 363.4h0M31.8 369.1h0M25.5 351.8h0M37.3 368.9h0M34.6 361.9h0M32.1 361.1h0M35.1 373.1h0M49.8 370.1h0M28.1 371.9h0M31.9 366.9h0M42.2 361.3h0M24.0 369.4h0M45.1 379.9h0M45.3 368.8h0M34.9 374.7h0M28.6 365.4h0M33.6 388.2h0M22.1 353.6h0M49.0 372.1h0M38.0 371.8h0M31.4 369.5h0M30.0 358.0h0M42.3 357.8h0M50.0 365.3h0M26.9 368.1h0M32.7 357.2h0M22.9 358.4h0M43.1 371.9h0M38.8 375.8h0M56.3 362.6h0M36.5 361.4h0M33.9 361.2h0M31.6 387.8h0M44.6 371.3h0M23.9 366.7h0M43.7 375.6h0M39.6 386.3h0M33.3 376.9h0M30.0 355.4h0M46.3 366.5h0M53.0 363.8h0M33.8 364.4h0M41.9 357.1h0M52.0 363.9h0M32.8 337.3h0M47.0 338.9h0M44.1 362.0h0M29.5 362.8h0M26.5 356.1h0M38.8 349.6h0M50.1 323.6h0M48.6 352.5h0M42.9 352.2h0M38.7 351.9h0M36.2 348.4h0M40.2 342.4h0M31.4 341.4h0M39.3 341.0h0M36.9 339.1h0M70.8 338.2h0M50.7 347.5h0M41.7 351.7h0M43.1 344.9h0M42.4 342.6h0M45.5 370.2h0M39.5 326.8h0M43.4 361.2h0M53.9 345.7h0M51.9 343.3h0M46.7 339.2h0M57.0 337.3h0M45.8 331.5h0M33.8 335.4h0M26.1 354.6h0M36.6 330.7h0M43.0 357.2h0M47.6 358.1h0M54.4 300.2h0M37.8 331.3h0M35.5 354.3h0M51.3 345.4h0M55.4 342.0h0M38.8 354.4h0M47.0 354.0h0M57.4 350.0h0M46.8 366.5h0M43.0 347.5h0M22.8 368.0h0M56.9 320.6h0M50.1 342.0h0M44.9 331.7h0M38.9 365.9h0M31.1 381.2h0M42.6 353.9h0M42.5 332.0h0M54.6 339.8h0M31.4 353.6h0M58.1 341.8h0M44.0 359.7h0M55.5 352.1h0M33.9 320.4h0M47.1 361.4h0M55.8 334.6h0M44.7 339.7h0M28.9 371.5h0M40.3 345.5h0M49.0 327.8h0M29.6 338.4h0M29.1 355.1h0M46.0 356.5h0M34.1 369.8h0M50.4 341.3h0M31.8 347.5h0M25.2 375.8h0M35.8 345.5h0M58.6 356.5h0M34.9 354.2h0M43.5 349.8h0M46.1 342.8h0M34.1 355.4h0M54.5 335.7h0M45.4 337.9h0M48.1 343.0h0M26.8 347.9h0M26.1 359.7h0M41.7 344.8h0M41.3 345.7h0M50.9 340.4h0M58.5 359.9h0M41.1 348.1h0M40.9 341.3h0M48.1 341.1h0M58.9 346.9h0M35.4 348.8h0M49.9 341.9h0M41.2 345.2h0M40.3 350.6h0M51.8 347.3h0M35.7 356.3h0M32.9 333.0h0M50.3 330.7h0M43.4 315.7h0M41.0 357.8h0M42.3 360.8h0M48.6 359.8h0M39.9 350.5h0M51.3 356.6h0M47.8 344.3h0M58.5 337.7h0M56.3 322.0h0M52.2 333.1h0M41.6 340.9h0M44.8 357.2h0M37.7 369.7h0M72.2 326.5h0M41.4 352.5h0M49.2 347.3h0M57.3 330.6h0M30.0 333.5h0M35.4 342.2h0M39.7 331.8h0M33.7 348.3h0M92.0 329.0h0M92.8 329.6h0M91.2 325.3h0M89.5 328.3h0M90.7 338.2h0M89.2 318.3h0M92.2 330.1h0M95.8 323.1h0M90.6 329.6h0M90.3 333.5h0M93.4 328.2h0M93.0 333.1h0M92.3 319.0h0M89.4 335.1h0M91.9 324.9h0M93.9 332.2h0M88.2 329.6h0M86.7 324.0h0M88.4 329.8h0M86.8 337.8h0M91.3 330.2h0M88.5 330.0h0M92.8 320.0h0M92.4 337.1h0M91.5 339.3h0M85.0 328.7h0M90.5 327.2h0M91.9 318.8h0M92.3 333.8h0M87.7 344.7h0M90.7 332.8h0M89.3 336.1h0M89.7 331.8h0M95.0 322.6h0M89.7 336.5h0M91.9 321.1h0M94.5 327.2h0M90.4 330.2h0M91.7 333.8h0M92.3 331.0h0M92.2 330.8h0M88.6 323.9h0M92.2 320.8h0M95.8 328.9h0M87.7 324.2h0M94.4 320.7h0M92.3 320.9h0M90.2 325.6h0M97.6 317.4h0M94.1 320.4h0M88.6 318.7h0M92.2 329.6h0M93.6 330.9h0M91.5 340.5h0M93.9 319.5h0M91.8 324.4h0M93.9 334.0h0M96.0 327.2h0M90.1 326.5h0M92.6 338.8h0M90.7 326.5h0M92.4 321.6h0M88.7 320.6h0M90.4 330.5h0M91.5 330.3h0M94.5 320.3h0M95.2 322.6h0M88.3 331.7h0M89.8 332.0h0M93.8 324.6h0M86.4 332.2h0M90.7 331.9h0M91.7 317.8h0M95.5 326.6h0M93.9 331.0h0M91.1 325.1h0M91.0 315.7h0M91.3 326.8h0M96.3 333.0h0M90.8 338.0h0M91.1 315.4h0M93.0 344.2h0M91.7 321.7h0M91.4 334.2h0M88.9 335.9h0M92.0 334.4h0M90.8 329.4h0M95.3 321.5h0M93.8 332.3h0M91.9 324.2h0M91.0 345.5h0M94.9 332.7h0M92.0 339.4h0M93.6 323.0h0M88.4 337.3h0M93.0 338.0h0M87.3 337.8h0M86.3 328.4h0M91.1 321.3h0M89.5 327.4h0M92.5 315.3h0M98.3 318.3h0M89.7 329.1h0M90.3 322.6h0M92.6 327.5h0M93.4 327.8h0M91.5 340.1h0M91.4 336.3h0M94.0 328.2h0M93.5 335.8h0M89.1 323.8h0M91.8 326.5h0M92.1 334.0h0M89.0 321.1h0M92.7 326.8h0M89.6 320.6h0M94.7 329.2h0M92.5 338.3h0M92.3 324.0h0M90.3 329.9h0M91.7 323.1h0M86.4 321.6h0M88.8 321.1h0M93.0 337.2h0M86.0 342.7h0M94.4 331.4h0M87.1 324.2h0M94.1 332.7h0M89.6 326.5h0M94.2 333.3h0M92.4 330.2h0M87.7 330.2h0M95.5 332.1h0M96.0 325.0h0M91.8 326.1h0M91.2 318.2h0M91.6 325.8h0M89.3 320.0h0M95.1 327.6h0M90.5 322.8h0M91.9 329.1h0M89.8 331.2h0M90.2 320.0h0M88.4 323.6h0M95.5 322.8h0M91.6 333.0h0M94.7 338.7h0M92.0 333.6h0M90.1 326.4h0M91.1 337.3h0M90.4 319.4h0M92.0 337.5h0M90.9 324.6h0M88.1 344.4h0M89.7 338.0h0M96.6 322.3h0M90.1 329.5h0M89.0 327.2h0M92.9 329.1h0M95.9 319.6h0M87.9 324.4h0M91.4 331.3h0M90.2 329.8h0M87.1 335.7h0M94.1 329.0h0M91.9 342.6h0M92.2 324.2h0M89.9 330.1h0M93.3 317.0h0M90.5 321.0h0M91.6 336.5h0M88.9 322.8h0M88.6 331.7h0M95.7 328.1h0M90.6 322.2h0M92.8 326.4h0M91.9 325.4h0M90.8 325.6h0M90.6 333.0h0M93.8 332.4h0M91.2 325.0h0M91.6 323.1h0M92.1 330.2h0M95.3 327.9h0M93.9 334.7h0M93.1 344.4h0M90.4 333.6h0M88.1 328.3h0M94.7 327.5h0M94.7 323.4h0M91.6 323.1h0M93.5 322.5h0M94.2 326.1h0M94.3 325.9h0M94.6 333.0h0M90.7 326.1h0M96.2 327.3h0M88.5 321.2h0M94.4 338.4h0M93.4 331.5h0M94.4 339.2h0M97.3 333.3h0M96.2 337.4h0M88.8 327.0h0M87.3 332.8h0M94.3 344.7h0M89.2 321.2h0M92.0 335.6h0M94.4 338.7h0M87.4 331.0h0M86.1 333.1h0M92.7 336.2h0M92.1 324.5h0M91.3 331.0h0M92.1 323.2h0M89.6 324.4h0M87.8 324.7h0M91.5 327.6h0M89.3 329.4h0M87.4 331.3h0M93.4 319.8h0M91.8 340.7h0M93.1 335.6h0M89.2 333.0h0M90.2 326.3h0M89.2 328.0h0M89.5 331.9h0M92.5 331.0h0M89.8 318.2h0M93.0 333.1h0M93.0 346.4h0M97.7 317.1h0M88.1 334.6h0M94.5 330.8h0M91.7 327.8h0M92.0 336.9h0M87.9 321.2h0M90.7 329.5h0M94.1 337.5h0M91.8 327.3h0M92.2 325.9h0M91.2 329.2h0M95.2 325.8h0M91.9 338.0h0M85.8 322.9h0M90.1 333.9h0M86.5 320.8h0M82.9 332.6h0M90.5 327.9h0M92.1 328.5h0M88.7 321.9h0M89.4 325.8h0M95.2 338.0h0M92.4 321.6h0M92.1 322.0h0M91.9 337.4h0M92.1 329.2h0M94.3 338.0h0M93.5 330.5h0M92.6 323.1h0M89.1 328.1h0M93.4 336.1h0M90.1 334.3h0M95.1 328.5h0M88.4 328.8h0M91.6 327.8h0M92.0 324.9h0M88.3 340.4h0M96.8 328.5h0M96.1 321.5h0M90.7 325.6h0M94.2 333.0h0M93.1 332.5h0M84.7 327.7h0M92.7 324.4h0M91.8 328.6h0M92.2 318.2h0M89.0 320.5h0M91.2 333.4h0M91.5 325.5h0M95.3 330.8h0M92.9 336.0h0M92.0 332.5h0M96.3 328.6h0M90.4 341.6h0M90.9 332.6h0M86.9 326.3h0M96.4 333.0h0M94.7 331.0h0M94.6 323.2h0M93.9 329.0h0M92.3 327.5h0M92.6 316.4h0M91.3 327.4h0M91.4 326.8h0M92.2 325.8h0M96.2 318.4h0M93.6 326.3h0M91.8 328.3h0M90.4 329.1h0M90.2 321.5h0M96.5 332.4h0M93.4 321.0h0M92.2 327.1h0M91.0 336.5h0M88.9 324.2h0M91.8 325.3h0M94.4 335.1h0M90.9 326.1h0M91.4 326.7h0M91.4 329.9h0M92.3 335.0h0M91.3 323.4h0M89.6 322.3h0M94.5 321.8h0M89.8 323.2h0M93.6 323.3h0M96.3 330.4h0M91.1 323.0h0M90.3 329.3h0M92.5 331.0h0M92.0 324.0h0M89.2 329.3h0M93.3 338.6h0M97.6 330.5h0M91.3 324.6h0M91.4 328.1h0M89.1 322.9h0M92.9 330.2h0M88.5 333.8h0M88.9 323.5h0M95.6 327.2h0M89.5 335.3h0M95.0 325.4h0M96.3 329.7h0M92.7 322.2h0M93.5 323.5h0M97.5 325.4h0M91.4 341.6h0M90.3 326.0h0M88.2 325.3h0M92.1 325.1h0M96.1 327.5h0M94.7 332.4h0M89.4 329.6h0M89.6 340.8h0M90.6 329.8h0M92.8 337.2h0M91.4 330.2h0M92.6 332.1h0M92.8 319.8h0M91.2 327.7h0M91.9 328.1h0M92.6 327.0h0M91.8 315.6h0M93.4 333.8h0M97.2 326.2h0M93.7 325.9h0M92.2 327.0h0M87.3 327.1h0M93.1 330.9h0M86.5 320.9h0M88.1 322.9h0M94.4 330.2h0M94.0 329.4h0M91.6 326.2h0M87.2 325.1h0M91.0 323.5h0M90.1 328.1h0M93.8 335.6h0M98.3 322.2h0M92.6 337.6h0M89.8 333.6h0M88.7 325.8h0M91.8 333.2h0M91.5 319.7h0M88.8 318.1h0M92.3 320.8h0M88.8 326.0h0M95.1 326.5h0M95.0 325.4h0M95.0 329.1h0M90.7 315.7h0M93.4 331.5h0M91.6 320.0h0M90.9 324.5h0M91.1 326.0h0M88.4 321.6h0M88.0 320.3h0M94.2 322.5h0M91.5 328.4h0M92.6 332.0h0M94.8 331.9h0M87.1 322.5h0M89.8 323.8h0M92.5 323.0h0M93.1 331.2h0M90.9 316.3h0M94.9 335.9h0M92.6 325.6h0M88.6 323.8h0M89.4 330.5h0M94.3 334.7h0M93.3 330.6h0M86.7 334.8h0M95.8 329.3h0M93.7 335.9h0M95.8 336.0h0M90.9 327.9h0M91.2 337.1h0M88.8 329.5h0M99.1 329.0h0M91.5 323.0h0M96.4 326.8h0M90.2 333.2h0M92.5 320.6h0M87.3 332.4h0M90.9 330.6h0M94.8 330.2h0M88.5 315.3h0M95.0 327.9h0M92.9 332.4h0M89.1 323.9h0M90.6 329.0h0M91.9 332.5h0M90.5 324.5h0M89.7 333.7h0M91.1 317.4h0M89.1 332.7h0M88.4 327.1h0M91.9 333.3h0M94.5 322.9h0M87.7 324.8h0M92.0 342.0h0M90.2 323.5h0M89.3 324.3h0M94.4 326.8h0M90.5 322.4h0M96.2 335.6h0M89.8 338.9h0M93.1 324.3h0M91.4 318.1h0M89.9 335.5h0M93.6 335.2h0M91.6 333.4h0M93.7 335.4h0M91.9 323.3h0M89.0 327.5h0M91.7 320.2h0M92.1 320.0h0M94.7 334.4h0M89.5 324.5h0M91.9 342.2h0M87.2 328.9h0M93.8 324.7h0M89.0 333.3h0M86.9 339.3h0M91.8 331.4h0M95.1 321.2h0M87.7 330.7h0M89.0 336.8h0M89.9 325.5h0M88.8 323.9h0M93.1 334.6h0M89.7 329.3h0M90.0 321.9h0M93.6 326.2h0M89.9 324.0h0M93.2 330.3h0M89.3 329.2h0M88.6 335.4h0M86.9 332.8h0M97.2 319.1h0M91.1 330.9h0M92.7 333.9h0M91.9 331.2h0M92.4 334.7h0M92.1 325.2h0M97.3 322.8h0M89.1 334.1h0M87.6 322.1h0M89.2 315.5h0M88.3 334.7h0M94.1 324.2h0M94.3 326.7h0M89.3 320.1h0M88.1 320.5h0M91.0 321.6h0M95.9 326.3h0M84.1 330.7h0M89.0 333.0h0M94.9 321.4h0M89.0 322.1h0M91.2 332.6h0M87.8 328.1h0M89.3 319.3h0M95.9 339.6h0M94.3 323.3h0M90.9 330.0h0M89.6 329.7h0M86.7 337.0h0M90.9 325.8h0M91.9 334.5h0M91.8 324.0h0M91.7 335.2h0M88.9 323.9h0M91.8 326.3h0M91.9 339.9h0M95.6 330.4h0M97.2 329.2h0M91.6 342.0h0M89.9 330.7h0M91.8 323.6h0M90.3 332.9h0M89.9 321.4h0M91.8 335.3h0M89.1 335.7h0M93.7 325.1h0M91.7 324.7h0M92.7 329.6h0M91.5 328.6h0M90.0 322.6h0M89.3 331.9h0M91.3 316.2h0M90.5 325.9h0M92.7 326.1h0M92.0 326.9h0M88.2 330.3h0M92.2 321.1h0M88.2 332.0h0M90.3 327.4h0M91.2 324.6h0M86.2 320.3h0M92.3 321.4h0M92.4 330.7h0M91.6 322.7h0M90.8 328.9h0M91.0 334.9h0M89.3 334.7h0M91.2 337.9h0M90.5 326.7h0M92.3 322.0h0M88.6 334.6h0M92.7 330.4h0M92.4 335.2h0M91.6 328.6h0M90.8 335.7h0M93.5 333.6h0M87.3 332.8h0M93.3 331.5h0M92.7 330.9h0M92.8 329.9h0M93.1 329.9h0M90.2 334.4h0M91.3 325.4h0M93.8 338.9h0M93.2 327.9h0M92.6 334.4h0M87.8 328.0h0M93.5 327.0h0M95.3 340.7h0M94.8 326.6h0M92.7 320.8h0M87.6 324.2h0M94.6 326.6h0M91.6 341.4h0M84.9 329.7h0M93.1 334.1h0M87.8 322.5h0M88.4 330.6h0M90.2 332.5h0M95.6 339.3h0M91.0 324.3h0M92.8 332.1h0M96.9 330.3h0M96.5 322.4h0M91.7 328.4h0M91.3 326.9h0M88.5 314.5h0M90.1 332.1h0M93.2 331.7h0M93.1 325.9h0M92.3 320.5h0M94.8 337.4h0M89.8 330.1h0M91.8 334.6h0M94.0 337.0h0M93.6 325.4h0M95.0 333.4h0M93.1 327.1h0M91.1 328.1h0M93.0 328.0h0M89.2 328.5h0M87.4 335.2h0M93.6 329.2h0M91.8 327.6h0M92.9 326.8h0M87.2 330.5h0M91.0 323.1h0M90.3 325.5h0M89.6 328.2h0M85.7 325.1h0M91.1 327.8h0M94.5 324.8h0M93.1 340.5h0M90.3 336.5h0M92.0 331.2h0M94.1 328.2h0M84.3 341.6h0M91.7 330.4h0M93.5 328.0h0M93.9 330.3h0M96.8 330.3h0M95.2 337.0h0M92.9 328.4h0M92.8 341.1h0M94.2 323.2h0M90.5 332.7h0M91.9 322.5h0M94.5 339.4h0M97.5 326.5h0M91.6 328.2h0M91.9 334.0h0M92.6 336.0h0M95.8 321.8h0M91.9 326.4h0M96.1 320.1h0M89.3 329.3h0M91.5 327.9h0M91.4 326.4h0M94.2 324.4h0M94.9 326.2h0M87.8 324.0h0M89.4 331.7h0M92.9 337.6h0M90.2 316.9h0M87.7 327.8h0M94.9 326.0h0M93.4 331.5h0M93.4 322.8h0M90.7 327.6h0M94.9 322.3h0M91.3 332.7h0M95.1 329.1h0M89.4 327.5h0M89.6 330.7h0M92.6 327.0h0M90.0 319.2h0M93.9 332.1h0M92.7 330.2h0M89.4 327.6h0M92.2 334.4h0M91.0 335.8h0M94.6 321.9h0M90.2 323.8h0M90.8 337.8h0M95.4 337.0h0M98.3 324.1h0M97.6 321.4h0M92.2 324.7h0M92.6 325.5h0M96.3 319.0h0M91.7 328.7h0M89.3 320.8h0M92.3 321.2h0M93.3 334.0h0M89.7 324.4h0M87.4 328.1h0M88.0 332.3h0M93.9 333.4h0M89.9 326.5h0M91.6 328.8h0M92.6 323.5h0M93.7 339.0h0M91.1 332.4h0M93.4 321.9h0M89.5 328.5h0M91.0 332.8h0M89.1 331.4h0M95.2 339.5h0M91.9 336.7h0M89.9 325.3h0M91.0 328.0h0M91.4 320.8h0M94.0 330.0h0M87.5 329.4h0M89.1 344.7h0M90.9 329.1h0M99.1 315.9h0M94.7 324.5h0M91.7 329.2h0M94.0 321.0h0M97.8 323.3h0M91.3 326.3h0M91.0 330.6h0M95.4 327.5h0M93.4 323.2h0M93.9 333.2h0M90.6 325.3h0M97.4 325.5h0M96.8 320.2h0M93.6 323.8h0M93.9 332.4h0M86.3 318.8h0M93.8 328.1h0M91.5 332.8h0M93.2 326.2h0M93.9 329.9h0M91.0 321.8h0M87.3 336.4h0M93.0 335.1h0M89.9 329.9h0M91.1 318.0h0M90.3 322.2h0M91.0 334.4h0M85.5 338.8h0M95.4 330.3h0M92.7 336.0h0M95.1 324.9h0M97.5 327.4h0M92.1 328.5h0M87.0 331.0h0M89.5 319.3h0M88.6 334.1h0M90.6 336.4h0M92.2 321.6h0M86.4 320.4h0M93.0 330.6h0M87.8 324.6h0M91.7 333.4h0M91.1 329.4h0M91.8 325.6h0M90.5 341.2h0M90.3 329.3h0M87.3 324.0h0M91.9 329.1h0M97.2 322.3h0M97.5 323.9h0M95.7 330.8h0M94.0 325.2h0M90.1 325.8h0M96.0 338.5h0M91.8 333.7h0M91.8 333.3h0M91.2 331.7h0M92.3 331.4h0M90.8 337.2h0M91.8 328.4h0M89.0 339.6h0M91.0 322.8h0M98.4 327.0h0M91.8 320.2h0M91.3 326.4h0M93.5 331.6h0M94.0 337.2h0M88.9 324.5h0M91.4 328.5h0M94.6 326.3h0M92.8 324.1h0M92.3 321.4h0M96.4 328.9h0M90.1 318.1h0M92.2 329.2h0M90.5 328.6h0M96.2 324.6h0M86.5 322.4h0M90.1 320.2h0M90.5 339.7h0M93.9 320.4h0M93.7 337.8h0M95.9 332.1h0M87.6 326.3h0M94.1 321.6h0M91.2 334.8h0M90.1 338.9h0M93.5 322.9h0M89.4 326.7h0M86.2 334.8h0M91.0 330.5h0M87.8 340.5h0M90.2 325.1h0M93.0 331.8h0M92.9 321.0h0M96.4 341.1h0M91.4 324.1h0M89.9 327.7h0M89.4 327.7h0M88.6 340.0h0M93.2 326.5h0M90.2 328.4h0M86.5 332.1h0M94.0 338.0h0M91.7 328.1h0M93.0 334.7h0M92.3 331.6h0M93.8 326.7h0M92.1 329.0h0M95.5 328.7h0M93.2 323.0h0M93.1 335.8h0M93.1 320.2h0M87.9 335.5h0M91.5 334.2h0M91.3 327.9h0M92.6 323.9h0M88.2 327.1h0M96.6 331.3h0M92.3 333.0h0M88.6 330.2h0M87.2 334.5h0M91.2 325.2h0M91.7 329.9h0M90.0 319.1h0M92.3 333.1h0M90.2 329.4h0M93.5 326.0h0M90.0 335.5h0M91.9 332.6h0M99.2 328.7h0M89.2 319.8h0M90.7 334.9h0M89.6 343.4h0M94.2 325.4h0M88.8 328.9h0M90.6 327.0h0M91.9 330.6h0M89.3 332.4h0M89.3 336.2h0M90.7 322.6h0M86.1 337.9h0M88.0 322.9h0M90.8 330.2h0M92.4 335.5h0M91.5 332.8h0M87.0 322.9h0M90.7 324.3h0M94.2 325.7h0M93.6 328.2h0M91.8 335.4h0M89.5 320.7h0M93.8 331.3h0M90.4 332.2h0M88.7 331.8h0M89.8 331.3h0M96.1 337.6h0M92.6 331.4h0M95.2 333.6h0M90.7 331.9h0M94.6 339.3h0M90.3 317.1h0M91.6 336.2h0M99.0 326.9h0M94.1 326.8h0M90.6 322.7h0M91.8 317.3h0M92.9 326.2h0M95.4 324.4h0M90.6 331.5h0M87.1 319.7h0M91.2 337.1h0M92.0 330.1h0M92.3 327.0h0M95.7 324.2h0M92.9 323.8h0M94.3 321.7h0M88.9 325.2h0M94.4 328.5h0M97.9 327.4h0M94.2 320.0h0M92.7 326.9h0M92.4 323.1h0M97.0 329.5h0M89.4 339.7h0M91.7 332.3h0M93.3 326.6h0M94.1 318.8h0M90.8 320.0h0M92.9 318.4h0M91.2 332.9h0M92.3 323.9h0M91.6 328.9h0M88.8 324.8h0M91.9 329.0h0M94.5 336.9h0M89.3 324.4h0M91.3 326.5h0M93.9 323.7h0M89.0 333.7h0M92.5 322.3h0M89.0 321.7h0M95.2 320.2h0M98.5 320.0h0M97.7 331.3h0M91.4 343.9h0M94.1 322.5h0M92.3 334.2h0M92.3 330.0h0M96.3 321.9h0M88.3 326.8h0M95.0 327.1h0M91.9 324.4h0M95.9 340.1h0M92.5 317.1h0M90.1 330.8h0M92.8 330.5h0M94.1 325.0h0M92.1 329.4h0M93.4 333.8h0M90.5 329.4h0M86.0 331.0h0M94.5 332.7h0M94.0 316.3h0M92.4 337.4h0M92.2 342.2h0M94.9 334.4h0M90.7 334.6h0M90.0 320.1h0M91.5 327.8h0M95.3 323.6h0M88.1 325.0h0M95.3 334.3h0M90.2 323.7h0M88.9 327.7h0M95.5 317.0h0M91.7 327.5h0M88.4 329.0h0M91.0 324.3h0M94.6 324.2h0M95.3 339.8h0M90.8 321.2h0M93.1 322.2h0M94.0 323.6h0M90.2 335.7h0M93.0 341.1h0M91.9 330.5h0M90.5 324.2h0M90.6 325.9h0M92.2 334.9h0M92.1 323.0h0M90.4 337.2h0M90.8 337.0h0M95.1 328.9h0M92.6 332.4h0M94.5 333.0h0M95.4 337.8h0M93.6 322.2h0M98.4 335.6h0M89.7 326.2h0M94.3 323.9h0M91.1 329.1h0M97.2 327.2h0M96.8 322.6h0M86.5 318.9h0M89.3 322.8h0M93.9 337.2h0M94.2 340.3h0M94.1 332.4h0M91.8 335.6h0M93.3 325.4h0M93.8 328.0h0M91.8 330.2h0M94.9 322.0h0M85.7 322.6h0M93.8 329.1h0M89.1 326.6h0M94.7 322.1h0M91.4 330.8h0M89.5 326.9h0M93.0 334.6h0M89.4 328.5h0M89.4 326.7h0M87.6 329.3h0M91.9 327.5h0M93.4 324.5h0M94.9 326.1h0M91.6 333.0h0M94.9 332.4h0M92.1 336.2h0M91.7 318.3h0M93.6 326.1h0M95.0 326.0h0M91.0 329.5h0M91.3 325.8h0M91.5 325.4h0M92.2 333.2h0M89.5 329.6h0M94.9 321.5h0M90.9 336.5h0M93.3 334.5h0M89.7 325.1h0M93.0 333.5h0M93.1 324.1h0M90.8 335.3h0M97.7 327.2h0M93.0 323.7h0M97.0 326.3h0M94.7 323.9h0M90.1 329.7h0M90.9 329.6h0M93.2 328.7h0M92.2 325.2h0M91.2 329.1h0M86.9 317.1h0M91.4 330.0h0M85.8 335.3h0M93.0 330.1h0M90.0 326.2h0M90.0 327.4h0M91.4 327.7h0M92.8 325.2h0M88.0 325.0h0M87.1 323.0h0M89.0 335.6h0M86.3 328.4h0M89.3 334.2h0M96.5 327.0h0M89.0 328.9h0M93.8 327.5h0M88.2 331.3h0M92.8 333.5h0M91.1 329.9h0M91.8 324.5h0M93.6 323.8h0M96.9 338.5h0M92.5 326.8h0M92.3 326.8h0M89.3 337.3h0M93.6 335.0h0M91.3 331.7h0M94.3 326.1h0M91.9 342.6h0M96.9 330.9h0M86.4 331.8h0M91.2 327.5h0M94.5 320.0h0M91.0 320.5h0M89.8 330.9h0M91.3 330.9h0M88.1 327.1h0M92.3 321.5h0M98.8 319.9h0M95.2 326.5h0M88.9 319.8h0M89.6 333.9h0M90.9 335.4h0M94.8 345.5h0M89.7 333.8h0M90.1 324.9h0M94.5 323.3h0M91.0 324.9h0M88.9 327.4h0M87.7 334.3h0M90.0 332.2h0M85.8 332.0h0M94.1 329.8h0M90.2 332.5h0M93.3 337.2h0M97.2 322.1h0M95.3 325.8h0M88.8 320.2h0M94.4 338.2h0M95.2 336.3h0M89.9 333.0h0M89.3 321.3h0M91.7 329.5h0M87.5 327.1h0M96.1 329.0h0M85.3 327.4h0M88.9 331.6h0M91.2 326.1h0M91.4 333.6h0M92.5 329.9h0M92.8 326.7h0M91.4 327.8h0M95.2 325.9h0M86.0 333.4h0M92.0 326.9h0M90.0 330.3h0M92.4 326.1h0M92.6 319.6h0M89.4 333.9h0M90.2 322.2h0M94.2 332.6h0M93.0 331.0h0M90.1 318.6h0M97.7 322.8h0M98.5 325.4h0M87.9 323.6h0M92.8 321.4h0M99.0 332.9h0M94.2 327.1h0M92.6 330.8h0M91.4 325.9h0M90.5 330.3h0M91.4 324.0h0M90.5 328.3h0M94.1 332.0h0M90.9 328.8h0M90.8 325.8h0M88.6 322.0h0M91.9 329.5h0M89.5 330.6h0M91.5 326.9h0M94.9 323.9h0M93.0 331.8h0M93.4 343.4h0M93.0 326.7h0M92.2 330.5h0M91.6 330.8h0M94.1 329.2h0M89.0 324.3h0M95.8 336.8h0M92.1 327.0h0M89.9 323.8h0M90.6 327.2h0M90.1 329.5h0M92.4 325.1h0M90.0 328.2h0M95.2 320.4h0M89.8 327.1h0M85.6 333.2h0M90.0 340.3h0M86.4 332.7h0M91.9 330.1h0M95.0 335.6h0M93.8 334.6h0M88.3 338.5h0M89.9 335.0h0M97.0 327.8h0M92.9 330.1h0M92.0 329.6h0M95.0 330.3h0M98.9 329.7h0M95.6 323.8h0M92.4 315.9h0M93.0 324.5h0M93.7 316.3h0M90.3 328.9h0M89.0 328.5h0M92.1 318.4h0M89.3 332.6h0M91.8 333.7h0M92.3 329.1h0M98.6 338.5h0M89.6 339.7h0M91.7 321.3h0M91.5 334.7h0M93.2 331.1h0M94.9 331.0h0M90.6 334.1h0M89.7 324.2h0M87.4 324.9h0M89.4 323.5h0M93.5 324.0h0M92.1 327.9h0M89.2 319.8h0M91.0 322.2h0M92.1 332.0h0M93.4 328.1h0M90.3 330.8h0M91.3 317.2h0M86.9 323.8h0M88.8 325.2h0M96.5 328.7h0M85.9 325.0h0M91.1 334.1h0M92.6 328.2h0M91.0 328.6h0M89.7 328.6h0M91.8 332.7h0M92.0 325.7h0M91.8 335.2h0M86.7 331.3h0M91.6 329.4h0M89.6 328.8h0M90.5 331.6h0M92.6 334.6h0M93.8 334.2h0M94.5 330.8h0M90.6 333.8h0M94.6 329.2h0M95.3 336.0h0M95.2 328.3h0M95.9 316.0h0M91.6 336.5h0M91.5 329.1h0M94.3 321.5h0M88.2 327.3h0M92.6 323.2h0M90.5 341.1h0M91.0 331.5h0M87.1 319.1h0M89.5 331.8h0M91.9 326.1h0M94.5 340.0h0M94.8 322.2h0M91.5 328.9h0M89.7 326.4h0M93.1 326.0h0M91.3 315.7h0M93.7 331.1h0M96.9 338.5h0M91.9 317.0h0M87.8 335.5h0M89.6 325.1h0M87.9 342.6h0M88.6 331.1h0M95.7 327.4h0M92.6 335.1h0M87.7 331.7h0M93.8 324.9h0M95.5 332.8h0M91.0 325.4h0M90.1 317.8h0M91.1 340.7h0M92.8 326.4h0M93.8 324.8h0M95.3 330.5h0M95.4 319.1h0M95.3 320.4h0M95.8 325.5h0M93.9 325.4h0M87.7 328.9h0M91.6 335.2h0M92.9 325.7h0M90.9 331.5h0M94.6 332.1h0M91.0 322.0h0M89.4 329.9h0M96.0 322.8h0M93.9 334.9h0M92.6 331.2h0M94.6 328.6h0M95.0 320.5h0M93.0 329.2h0M85.1 323.9h0M90.1 332.7h0M90.7 327.8h0M89.2 323.6h0M92.6 334.1h0M95.3 332.8h0M90.6 324.9h0M88.8 335.5h0M97.7 326.7h0M90.7 326.6h0M88.5 329.2h0M92.7 324.0h0M93.2 325.9h0M90.0 327.5h0M94.2 337.7h0M90.6 337.5h0M89.4 326.9h0M92.5 338.2h0M94.2 328.2h0M90.2 330.8h0M92.9 333.8h0M91.7 330.3h0M99.9 343.0h0M90.0 330.0h0M95.9 321.3h0M91.9 336.3h0M91.6 326.0h0M94.0 326.7h0M95.5 334.5h0M92.9 333.4h0M90.3 333.3h0M90.5 334.4h0M93.4 338.6h0M93.6 328.2h0M95.9 334.1h0M93.2 324.0h0M95.0 326.4h0M96.2 334.8h0M92.5 330.8h0M87.8 320.5h0M88.7 330.7h0M88.0 327.4h0M96.5 323.6h0M89.6 331.1h0M95.4 326.1h0M93.6 319.1h0M96.8 321.8h0M94.8 339.1h0M91.7 319.4h0M91.4 329.8h0M93.6 336.2h0M93.7 335.3h0M90.5 342.6h0M92.1 338.7h0M92.8 339.1h0M94.0 330.6h0M91.5 338.6h0M90.6 331.6h0M94.3 340.5h0M94.5 340.8h0M93.2 338.9h0M91.6 349.2h0M93.3 341.6h0M92.8 342.0h0M94.0 339.7h0M90.5 338.0h0M92.8 343.8h0M92.3 344.5h0M90.7 332.5h0M93.0 344.3h0M92.7 341.6h0M91.9 343.8h0M93.3 341.3h0M90.2 332.8h0M92.5 333.1h0M93.3 348.1h0M93.1 340.3h0M94.4 331.9h0M90.6 340.7h0M90.0 337.2h0M93.0 329.8h0M93.4 327.5h0M96.2 331.0h0M93.6 340.4h0M91.1 338.8h0M94.0 337.8h0M91.2 340.4h0M90.1 342.0h0M97.0 328.5h0M93.2 337.5h0M93.8 334.9h0M93.6 332.8h0M95.7 336.3h0M93.1 338.4h0M94.7 337.7h0M90.9 331.7h0M90.2 336.6h0M95.0 349.1h0M95.1 333.7h0M93.5 330.6h0M93.0 340.4h0M92.9 342.0h0M91.4 341.3h0M95.2 333.4h0M93.7 344.0h0M93.5 335.1h0M93.2 333.3h0M94.4 336.0h0M93.5 338.5h0M93.9 342.6h0M90.6 342.1h0M93.5 338.9h0M96.3 343.7h0M91.7 339.4h0M92.4 343.5h0M94.1 332.0h0M94.2 331.1h0M93.7 342.9h0M89.9 332.0h0M93.5 337.5h0M90.6 338.5h0M91.2 336.6h0M93.5 336.7h0M92.1 346.0h0M94.0 326.4h0M98.0 343.4h0M93.9 350.5h0M93.8 339.1h0M91.1 338.9h0M91.5 342.6h0M90.8 348.1h0M91.7 333.1h0M90.7 339.4h0M91.5 338.1h0M92.2 341.8h0M90.9 339.8h0M90.2 342.3h0M90.3 336.9h0M93.4 339.2h0M92.7 335.6h0M94.3 335.7h0M94.4 338.3h0M92.0 338.3h0M93.7 333.1h0M90.2 346.9h0M96.5 338.3h0M94.6 332.1h0M92.2 344.5h0M90.6 335.3h0M93.2 341.5h0M89.4 338.9h0M91.3 340.3h0M93.9 339.9h0M92.7 336.1h0M91.8 339.2h0M94.2 349.2h0M90.8 327.8h0M93.1 339.3h0M91.8 341.2h0M91.2 333.7h0M93.4 332.1h0M90.9 349.8h0M95.8 337.1h0M91.6 349.4h0M96.0 341.7h0M90.7 339.4h0M93.6 341.4h0M90.6 342.2h0M90.3 344.9h0M92.9 341.2h0M93.8 339.7h0M90.4 339.9h0M94.6 345.8h0M91.2 343.1h0M92.8 334.0h0M93.2 335.8h0M93.6 340.7h0M89.5 335.9h0M95.4 337.1h0M93.6 334.2h0M91.9 337.7h0M90.9 341.1h0M89.7 344.0h0M90.3 339.0h0M93.5 349.4h0M92.0 338.6h0M90.7 355.0h0M91.7 344.0h0M95.3 341.5h0M92.0 336.5h0M91.6 324.9h0M94.9 338.2h0M93.4 339.9h0M92.7 348.6h0M91.6 332.1h0M90.0 348.5h0M90.6 337.7h0M91.8 342.6h0M92.2 326.3h0M93.2 339.7h0M93.5 337.3h0M93.0 342.4h0M93.0 339.5h0M90.9 333.3h0M88.9 343.7h0M91.7 342.5h0M91.0 342.0h0M91.5 344.0h0M92.1 344.5h0M90.5 338.9h0M90.7 332.2h0M92.4 332.1h0M92.8 345.7h0M91.5 342.6h0M93.4 339.5h0M92.2 336.8h0M90.9 339.2h0M92.7 339.1h0M95.8 337.3h0M91.5 335.5h0M94.6 349.8h0M94.9 340.1h0M95.1 336.0h0M91.2 332.5h0M96.0 335.4h0M92.8 342.6h0M92.2 342.8h0M92.2 337.9h0M93.6 339.3h0M92.7 337.5h0M92.3 333.5h0M94.8 345.5h0M91.4 340.9h0M90.8 351.4h0M93.9 335.2h0M93.8 338.3h0M94.5 343.4h0M90.8 337.8h0M94.4 332.1h0M93.4 334.3h0M95.6 339.5h0M90.5 340.7h0M93.0 338.5h0M92.1 344.0h0M89.9 344.0h0M91.4 340.6h0M94.5 339.1h0M91.8 337.7h0M91.4 341.8h0M94.1 343.6h0M94.3 339.3h0M94.3 341.2h0M91.3 337.4h0M92.5 331.9h0M94.4 334.0h0M91.5 342.8h0M91.3 341.2h0M94.0 347.0h0M95.3 339.3h0M90.6 343.3h0M88.2 345.6h0M90.1 344.0h0M90.9 336.0h0M92.4 338.1h0M93.6 339.6h0M92.4 334.1h0M91.4 341.4h0M92.9 344.1h0M91.0 336.6h0M92.5 348.9h0M91.5 337.5h0M97.2 338.0h0M94.0 337.8h0M91.2 335.5h0M90.9 341.1h0M91.9 339.1h0M89.8 347.3h0M91.4 342.0h0M91.3 341.7h0M94.1 337.9h0M91.9 331.9h0M91.3 338.6h0M90.3 334.7h0M90.6 343.8h0M92.5 338.8h0M92.2 347.3h0M94.5 342.7h0M91.5 343.2h0M94.4 340.2h0M93.0 340.0h0M92.6 342.3h0M89.2 343.6h0M90.4 335.4h0M93.9 341.5h0M95.0 352.1h0M93.0 338.6h0M93.9 337.7h0M91.9 335.5h0M92.0 331.8h0M91.5 344.9h0M94.3 339.3h0M93.2 340.5h0M92.2 348.2h0M92.0 351.5h0M93.5 334.6h0M93.1 344.3h0M91.2 342.1h0M95.5 341.0h0M93.0 341.4h0M92.6 338.9h0M95.1 347.0h0M94.3 342.1h0M92.5 340.7h0M93.5 345.2h0M90.8 343.5h0M91.5 341.3h0M88.8 340.6h0M94.7 347.8h0M89.4 341.6h0M93.8 338.6h0M91.2 334.7h0M90.9 337.3h0M92.3 333.8h0M93.1 339.6h0M93.6 340.3h0M95.6 328.8h0M93.2 339.1h0M94.1 342.3h0M91.6 339.8h0M93.8 334.2h0M92.9 345.4h0M91.8 335.5h0M92.4 332.9h0M92.5 333.6h0M92.9 338.9h0M93.3 343.9h0M91.7 344.8h0M91.3 340.1h0M93.9 333.0h0M89.7 335.7h0M91.5 334.5h0M95.2 338.1h0M88.0 330.1h0M91.4 339.6h0M93.8 342.2h0M89.8 338.3h0M97.0 341.3h0M88.2 334.3h0M95.0 331.7h0M95.2 335.8h0M94.2 344.8h0M92.2 344.2h0M93.2 336.7h0M91.1 345.0h0M94.0 337.4h0M90.7 346.6h0M92.1 341.4h0M94.3 336.7h0M90.7 343.0h0M92.0 335.1h0M92.9 334.3h0M90.3 331.7h0M94.6 340.3h0M93.2 338.7h0M90.0 338.6h0M92.5 337.0h0M91.3 346.2h0M91.5 336.9h0M92.7 335.4h0M91.4 345.2h0M94.2 346.1h0M91.4 340.7h0M94.3 330.3h0M92.5 336.0h0M94.1 342.1h0M91.7 339.1h0M91.7 346.8h0M90.6 332.2h0M93.6 342.4h0M94.2 335.9h0M96.2 345.6h0M94.8 338.6h0M93.0 344.2h0M92.2 335.8h0M93.3 332.0h0M92.6 333.4h0M95.1 336.0h0M94.2 333.9h0M91.2 345.0h0M91.4 345.7h0M94.9 340.4h0M93.1 333.8h0M92.2 338.4h0M94.6 335.6h0M91.9 346.3h0M92.1 340.6h0M91.8 341.4h0M89.3 337.0h0M94.1 328.9h0M90.5 335.1h0M84.9 323.0h0M92.4 330.0h0M91.0 333.5h0M86.5 330.6h0M88.6 321.7h0M85.7 327.2h0M85.9 330.2h0M89.4 327.2h0M87.0 326.0h0M88.4 324.2h0M93.2 334.0h0M99.2 328.6h0M81.6 329.9h0M90.4 322.2h0M90.7 324.7h0M90.1 330.1h0M89.6 322.0h0M88.8 320.2h0M95.5 326.7h0M88.2 337.4h0M89.9 330.3h0M90.5 339.2h0M91.0 328.1h0M89.6 326.8h0M95.5 319.3h0M90.5 325.0h0M91.4 339.0h0M90.2 331.3h0M85.5 334.1h0M86.4 333.9h0M85.2 328.9h0M91.5 327.6h0M86.9 329.8h0M85.2 333.7h0M91.7 332.2h0M93.1 332.4h0M81.7 330.1h0M98.9 323.6h0M90.7 327.2h0M90.0 322.4h0M95.8 336.0h0M87.5 327.5h0M101.5 345.7h0M85.1 326.6h0M90.0 321.1h0M94.7 328.9h0M85.2 338.0h0M90.0 327.9h0M92.4 333.3h0M102.5 329.7h0M86.0 326.4h0M90.3 351.1h0M93.8 329.5h0M90.9 325.2h0M84.5 325.6h0M92.5 331.7h0M91.0 331.9h0M92.7 334.4h0M96.2 330.0h0M95.6 319.0h0M92.5 332.7h0M92.1 326.8h0M85.0 327.0h0M89.8 318.6h0M91.6 325.0h0M88.5 323.9h0M91.0 328.7h0M86.4 318.8h0M98.2 329.4h0M101.3 329.9h0M88.6 321.2h0M92.5 324.6h0M89.3 323.0h0M96.8 335.4h0M90.9 326.6h0M89.4 317.4h0M91.1 326.0h0M85.5 334.9h0M93.9 324.6h0M86.9 330.0h0M93.2 323.1h0M91.1 342.6h0M96.0 335.4h0M90.4 336.9h0M95.6 319.7h0M85.9 321.3h0M93.5 336.6h0M89.4 327.6h0M91.5 327.2h0M90.9 331.3h0M95.2 320.2h0M80.4 334.4h0M92.1 329.1h0M83.0 332.4h0M96.5 324.3h0M80.6 332.6h0M85.5 324.1h0M82.1 335.7h0M98.7 336.9h0M84.1 335.4h0M91.1 332.6h0M87.8 333.4h0M88.8 334.8h0M93.8 327.1h0M89.6 329.7h0M95.2 327.0h0M88.7 319.3h0M90.5 325.2h0M88.6 333.6h0M92.2 338.9h0M100.0 324.6h0M92.3 322.7h0M91.5 339.2h0M87.4 322.8h0M86.7 343.5h0M97.8 329.4h0M84.9 322.8h0M85.9 335.9h0M90.0 340.9h0M88.4 319.0h0M100.3 339.9h0M78.7 327.0h0M92.3 339.4h0M94.1 326.3h0M84.9 318.0h0M87.3 332.5h0M92.7 335.5h0M98.6 343.7h0M85.9 341.1h0M82.6 333.9h0M95.4 327.3h0M98.1 325.4h0M88.8 326.9h0M79.4 323.2h0M97.8 327.1h0M96.1 330.3h0M90.3 328.8h0M88.6 347.0h0M88.2 334.3h0M97.9 325.6h0M97.7 333.0h0M79.8 320.4h0M85.8 324.8h0M99.4 315.9h0M88.7 339.1h0M83.7 333.2h0M90.5 320.8h0M90.0 328.6h0M90.0 335.6h0M88.1 332.5h0M88.9 331.7h0M88.2 323.0h0M92.2 324.5h0M86.4 329.7h0M89.1 335.4h0M89.8 323.2h0M97.0 321.2h0M92.4 337.0h0M90.0 322.5h0M93.2 336.5h0M92.5 330.7h0M95.9 335.2h0M93.0 341.2h0M99.5 333.8h0M97.2 334.4h0M90.3 322.6h0M88.4 324.1h0M94.9 333.5h0M93.1 339.7h0M90.0 338.7h0M83.1 345.2h0M81.3 331.2h0M92.2 330.4h0M94.4 336.0h0M94.5 329.1h0M84.1 328.6h0M95.7 321.7h0M87.8 335.9h0M92.4 321.5h0M92.6 332.6h0M86.5 319.1h0M87.5 336.7h0M80.1 321.8h0M85.9 334.9h0M81.5 317.9h0M92.7 325.9h0M90.8 337.2h0M95.1 323.4h0M92.3 329.5h0M87.3 325.7h0M88.5 331.2h0M93.5 332.0h0M92.1 321.2h0M85.6 333.0h0M90.5 323.4h0M90.8 322.0h0M89.0 329.0h0M95.0 324.2h0M99.1 345.0h0M88.7 318.1h0M88.7 334.2h0M79.3 335.9h0M88.3 316.9h0M79.7 332.9h0M91.9 325.6h0M93.5 331.7h0M86.8 337.0h0M88.6 326.4h0M85.7 321.6h0M82.9 330.4h0M88.9 322.5h0M100.3 331.2h0M90.8 330.6h0M92.8 319.3h0M89.8 341.1h0M84.6 336.6h0M90.3 334.9h0M92.5 320.7h0M85.4 326.1h0M92.2 325.2h0M96.7 326.1h0M95.8 321.1h0M82.6 332.0h0M85.6 330.6h0M82.4 331.6h0M95.9 325.5h0M93.6 338.0h0M94.0 330.3h0M84.7 324.5h0M90.9 328.6h0M91.0 335.8h0M92.5 359.4h0M92.5 351.3h0M91.8 354.5h0M94.2 351.2h0M92.2 361.5h0M91.9 365.7h0M91.7 367.2h0M94.0 354.9h0M92.0 361.6h0M90.0 363.9h0M94.1 356.4h0M91.7 359.0h0M93.6 374.9h0M93.7 361.4h0M95.2 366.2h0M94.9 357.0h0M92.0 360.3h0M92.7 348.0h0M90.7 359.8h0M96.0 368.3h0M93.8 374.7h0M95.5 368.4h0M92.4 364.8h0M89.3 360.4h0M95.8 355.8h0M93.2 358.9h0M93.2 364.3h0M93.1 354.5h0M94.2 366.5h0M94.0 353.1h0M90.1 347.5h0M95.0 352.9h0M92.0 348.3h0M92.2 350.4h0M96.1 367.9h0M94.7 358.6h0M92.4 361.5h0M89.7 368.1h0M93.3 368.8h0M94.0 356.5h0" stroke="#000" stroke-width="1.12" stroke-linecap="round" fill="none"/>
<path d="M122.9 287V391.3" fill="none" stroke="#555" stroke-width="0.9"/>
<path d="M122.9 287H15.9M122.9 391.3H15.9M18.3 287V393.90000000000003" fill="none" stroke="#2a2a2a" stroke-width="1.1"/>
<path d="M18.3 391.3v2.6M18.3 391.3h-2.6M26.2 391.3v1.5M18.3 383.5h-1.5M30.8 391.3v1.5M18.3 378.9h-1.5M34.0 391.3v1.5M18.3 375.6h-1.5M36.6 391.3v1.5M18.3 373.1h-1.5M38.6 391.3v1.5M18.3 371.0h-1.5M40.4 391.3v1.5M18.3 369.3h-1.5M41.9 391.3v1.5M18.3 367.8h-1.5M43.3 391.3v1.5M18.3 366.4h-1.5M44.5 391.3v2.6M18.3 365.2h-2.6M52.3 391.3v1.5M18.3 357.4h-1.5M56.9 391.3v1.5M18.3 352.8h-1.5M60.2 391.3v1.5M18.3 349.5h-1.5M62.7 391.3v1.5M18.3 347.0h-1.5M64.8 391.3v1.5M18.3 344.9h-1.5M66.5 391.3v1.5M18.3 343.2h-1.5M68.1 391.3v1.5M18.3 341.7h-1.5M69.4 391.3v1.5M18.3 340.3h-1.5M70.6 391.3v2.6M18.3 339.1h-2.6M78.5 391.3v1.5M18.3 331.3h-1.5M83.1 391.3v1.5M18.3 326.7h-1.5M86.3 391.3v1.5M18.3 323.5h-1.5M88.9 391.3v1.5M18.3 320.9h-1.5M90.9 391.3v1.5M18.3 318.9h-1.5M92.7 391.3v1.5M18.3 317.1h-1.5M94.2 391.3v1.5M18.3 315.6h-1.5M95.6 391.3v1.5M18.3 314.3h-1.5M96.8 391.3v2.6M18.3 313.1h-2.6M104.6 391.3v1.5M18.3 305.2h-1.5M109.2 391.3v1.5M18.3 300.6h-1.5M112.5 391.3v1.5M18.3 297.4h-1.5M115.0 391.3v1.5M18.3 294.8h-1.5M117.1 391.3v1.5M18.3 292.8h-1.5M118.8 391.3v1.5M18.3 291.0h-1.5M120.4 391.3v1.5M18.3 289.5h-1.5M121.7 391.3v1.5M18.3 288.2h-1.5" stroke="#222" stroke-width="0.7" fill="none"/>
<rect x="70.2" y="306.8" width="39.6" height="71.5" fill="none" stroke="#111" stroke-width="1.1"/>
<text x="90.0" y="303.1" font-size="10.4" text-anchor="middle" textLength="24" lengthAdjust="spacingAndGlyphs">65 %</text>
<text x="130.8" y="281.7" font-size="10.9" text-anchor="start" textLength="41.1" lengthAdjust="spacingAndGlyphs">FTY720</text>
<path d="M147.8 369.6h0M147.6 366.1h0M147.7 360.9h0M150.4 365.6h0M144.5 365.5h0M152.1 363.8h0M141.4 370.6h0M148.7 368.3h0M150.0 370.4h0M145.1 362.9h0M141.7 363.7h0M151.1 371.3h0M145.6 360.3h0M151.7 368.8h0M151.6 367.7h0M148.4 364.6h0M148.4 367.0h0M152.5 363.1h0M150.0 367.9h0M144.5 361.0h0M149.1 361.7h0M150.7 372.8h0M149.2 364.0h0M149.2 358.3h0M147.8 370.5h0M147.9 363.4h0M144.5 351.7h0M142.4 365.2h0M153.1 371.4h0M145.7 367.6h0M149.3 373.8h0M142.1 364.9h0M149.0 369.2h0M144.9 361.9h0M160.8 369.8h0M144.1 372.0h0M144.3 367.9h0M152.3 368.1h0M153.1 359.6h0M139.6 363.4h0M149.4 361.7h0M152.1 370.5h0M143.3 362.7h0M151.2 368.7h0M146.2 362.2h0M144.2 373.5h0M146.9 361.6h0M146.5 366.8h0M142.6 376.1h0M157.7 369.4h0M146.5 362.8h0M145.3 368.5h0M151.9 371.4h0M148.1 370.1h0M153.9 359.8h0M147.3 367.3h0M149.8 358.3h0M148.8 374.4h0M149.1 367.1h0M147.5 364.6h0M147.9 369.3h0M155.4 370.0h0M145.5 361.3h0M146.1 372.8h0M146.9 365.4h0M150.8 360.0h0M150.1 372.7h0M152.3 373.7h0M142.8 370.7h0M149.5 369.1h0M147.6 362.9h0M147.2 370.2h0M149.1 374.4h0M140.2 368.3h0M149.5 373.4h0M149.0 363.6h0M142.4 369.6h0M148.0 370.4h0M154.8 361.9h0M146.8 359.7h0M150.8 364.2h0M147.4 366.8h0M145.0 367.9h0M144.5 365.0h0M146.7 366.1h0M153.8 367.3h0M151.8 367.7h0M145.4 368.5h0M152.5 369.5h0M147.8 366.4h0M145.5 367.2h0M150.2 365.2h0M144.6 369.2h0M141.8 363.3h0M153.8 374.5h0M140.8 365.1h0M150.6 368.3h0M142.0 362.3h0M148.3 365.3h0M147.6 367.2h0M146.6 366.4h0M139.3 362.3h0M147.9 361.9h0M148.2 366.8h0M144.7 366.6h0M148.1 368.9h0M152.5 372.6h0M145.4 364.8h0M149.5 358.8h0M143.6 365.2h0M150.0 359.5h0M151.0 362.0h0M158.7 373.0h0M152.1 369.8h0M150.2 364.4h0M154.2 365.3h0M144.3 365.5h0M152.8 360.4h0M146.1 368.2h0M145.8 364.8h0M152.9 375.1h0M149.4 362.6h0M153.9 371.9h0M142.4 362.7h0M149.5 371.1h0M146.2 362.3h0M147.3 369.5h0M140.5 363.3h0M152.3 364.1h0M149.3 366.3h0M144.3 367.8h0M142.8 367.3h0M144.8 372.5h0M154.2 371.2h0M148.0 355.8h0M147.0 364.8h0M150.5 359.0h0M148.5 365.2h0M149.4 369.5h0M151.5 361.9h0M149.8 362.2h0M152.1 368.0h0M143.5 364.6h0M148.7 373.3h0M147.0 367.7h0M148.9 369.0h0M148.3 373.9h0M145.8 364.1h0M147.0 366.4h0M152.4 363.4h0M146.2 367.3h0M143.3 369.9h0M150.9 372.8h0M152.5 367.4h0M147.3 363.6h0M149.0 363.7h0M145.0 360.3h0M147.6 367.1h0M153.0 373.2h0M151.8 357.7h0M149.1 357.9h0M147.3 372.3h0M141.8 358.8h0M149.8 368.4h0M150.4 362.0h0M152.8 370.8h0M156.8 371.6h0M150.0 367.8h0M152.4 370.9h0M143.9 366.0h0M153.4 370.1h0M152.1 375.0h0M154.1 372.4h0M151.3 364.6h0M150.4 363.8h0M154.6 367.0h0M145.8 365.3h0M151.2 367.6h0M153.0 365.2h0M145.3 368.8h0M143.8 366.0h0M150.3 368.6h0M149.0 366.9h0M151.0 369.8h0M151.2 362.4h0M145.4 372.7h0M149.9 368.5h0M153.2 369.6h0M147.1 369.0h0M147.4 371.0h0M143.9 368.9h0M151.9 368.4h0M156.5 367.7h0M142.9 358.9h0M151.7 368.3h0M152.2 366.3h0M146.3 365.1h0M147.0 376.4h0M144.3 358.3h0M145.3 366.4h0M149.2 371.9h0M151.2 371.3h0M149.0 372.0h0M152.1 362.3h0M149.4 363.0h0M143.8 368.4h0M154.5 366.8h0M153.4 374.8h0M145.7 367.2h0M155.8 369.1h0M150.5 369.0h0M149.1 365.8h0M156.4 368.9h0M138.4 362.0h0M142.0 365.4h0M151.5 365.4h0M147.6 367.7h0M144.7 360.2h0M154.8 362.0h0M150.6 369.1h0M143.4 366.7h0M145.9 362.4h0M152.1 366.6h0M155.9 364.0h0M140.4 373.6h0M149.6 360.6h0M147.0 373.6h0M141.5 362.1h0M147.9 368.5h0M142.0 364.5h0M146.4 364.9h0M155.2 372.1h0M150.7 370.7h0M151.8 366.3h0M151.1 363.6h0M150.1 375.7h0M152.6 373.5h0M143.9 366.5h0M147.2 365.4h0M152.1 368.8h0M145.6 366.6h0M146.8 371.5h0M153.6 363.9h0M154.9 368.2h0M146.2 363.2h0M145.3 371.6h0M151.0 374.8h0M149.8 366.7h0M145.9 368.6h0M151.1 373.2h0M150.9 366.1h0M149.0 363.1h0M160.7 373.6h0M154.2 370.1h0M152.0 366.7h0M152.9 373.8h0M160.8 370.3h0M153.2 360.5h0M145.7 367.7h0M150.0 366.9h0M149.0 374.7h0M146.3 366.4h0M149.7 366.3h0M149.7 368.9h0M148.4 367.9h0M146.7 360.7h0M152.1 368.1h0M142.1 364.3h0M152.1 373.4h0M148.7 376.8h0M149.8 362.5h0M138.9 361.0h0M155.6 364.8h0M141.6 362.8h0M145.1 363.4h0M151.3 367.7h0M146.2 370.9h0M147.0 361.2h0M139.5 358.8h0M146.9 359.0h0M149.6 371.6h0M151.5 372.9h0M147.5 360.4h0M149.6 360.4h0M150.5 367.8h0M145.9 370.9h0M145.6 370.5h0M156.7 369.3h0M145.2 369.0h0M153.8 369.3h0M149.0 364.7h0M154.7 376.0h0M146.1 366.4h0M150.8 362.8h0M150.0 365.3h0M147.8 360.4h0M150.0 367.2h0M145.5 370.8h0M148.4 361.7h0M147.0 371.2h0M169.4 361.6h0M152.2 368.7h0M136.9 353.5h0M139.9 352.3h0M145.1 361.4h0M135.6 355.0h0M135.9 370.3h0M145.8 375.0h0M146.6 365.4h0M154.5 367.5h0M136.4 364.8h0M167.2 368.0h0M159.1 370.1h0M157.4 371.5h0M141.9 363.7h0M165.9 364.0h0M145.0 363.6h0M166.6 375.8h0M159.2 366.0h0M139.5 377.6h0M143.9 365.6h0M167.2 380.1h0M158.5 360.2h0M146.9 362.6h0M150.5 371.6h0M150.4 371.7h0M140.7 365.8h0M146.4 382.7h0M141.8 367.7h0M144.2 369.5h0M153.1 364.2h0M138.9 379.0h0M155.7 375.0h0M149.6 371.0h0M156.1 356.6h0M157.4 371.5h0M160.9 365.8h0M154.7 371.5h0M155.5 375.4h0M146.7 362.1h0M154.2 370.1h0M139.4 373.3h0M146.0 368.8h0M156.0 366.3h0M147.9 360.0h0M152.9 363.4h0M137.9 357.3h0M162.2 376.6h0M142.7 368.0h0M152.4 359.4h0M148.2 367.8h0M157.8 359.4h0M144.6 343.3h0M138.4 375.6h0M129.4 374.3h0M145.4 356.7h0M136.5 361.2h0M153.8 369.9h0M162.9 366.6h0M135.5 362.6h0M151.5 366.4h0M160.8 365.1h0M151.5 369.7h0M151.7 366.5h0M153.5 362.8h0M154.2 368.6h0M164.9 357.5h0M154.6 379.1h0M136.0 353.7h0M143.7 366.7h0M150.6 370.6h0M140.3 370.0h0M145.8 369.4h0M143.2 376.5h0M141.4 358.8h0M155.4 368.1h0M144.5 368.5h0M137.5 363.0h0M141.3 362.7h0M148.8 377.3h0M169.7 364.9h0M151.0 364.6h0M163.4 367.4h0M153.4 366.8h0M152.3 366.7h0M139.9 369.6h0M134.8 367.3h0M137.6 370.1h0M166.4 379.8h0M132.6 359.9h0M142.2 379.2h0M160.1 365.8h0M155.1 373.4h0M131.2 367.1h0M147.3 365.5h0M143.2 352.9h0M146.5 379.3h0M156.0 363.1h0M142.6 361.4h0M145.2 375.2h0M163.1 370.0h0M129.9 379.6h0M144.7 379.6h0M153.2 373.5h0M135.9 368.2h0M142.1 372.6h0M135.2 356.7h0M150.0 369.2h0M142.1 368.2h0M156.3 365.2h0M158.7 370.8h0M148.9 357.2h0M144.6 373.9h0M151.0 377.4h0M149.0 358.4h0M136.2 367.5h0M159.2 380.2h0M150.7 371.1h0M156.4 361.1h0M134.7 359.0h0M157.2 375.0h0M169.6 383.5h0M154.6 360.5h0M133.8 366.4h0M148.8 362.1h0M147.8 365.6h0M150.6 370.2h0M146.0 367.2h0M153.4 363.3h0M143.7 382.5h0M150.7 366.9h0M141.4 365.7h0M149.4 375.9h0M158.4 369.0h0M143.4 365.7h0M155.1 375.4h0M139.4 359.2h0M144.6 372.8h0M146.0 375.0h0M161.0 374.0h0M140.6 365.6h0M160.7 369.0h0M133.6 353.6h0M146.8 366.6h0M157.6 370.9h0M155.4 374.8h0M138.2 367.6h0M136.0 363.5h0M157.2 362.6h0M135.6 366.0h0M154.2 369.4h0M143.1 375.9h0M148.2 367.8h0M171.7 366.7h0M164.0 368.7h0M156.8 365.2h0M134.4 364.5h0M151.6 352.1h0M148.9 356.3h0M147.3 359.0h0M161.9 372.6h0M131.0 365.2h0M151.6 369.2h0M149.6 376.3h0M140.7 359.3h0M165.8 377.9h0M135.5 369.1h0M148.6 362.6h0M149.1 378.6h0M133.9 358.0h0M138.5 365.1h0M156.3 371.5h0M157.9 367.4h0M154.3 352.9h0M150.7 365.8h0M150.5 386.4h0M143.1 377.1h0M160.2 369.9h0M161.9 361.3h0M170.9 372.7h0M155.5 360.1h0M156.6 370.1h0M137.9 369.2h0M149.1 364.9h0M135.8 368.1h0M157.4 366.3h0M136.2 362.2h0M146.1 378.6h0M140.0 371.0h0M143.5 365.0h0M152.9 362.7h0M142.6 368.4h0M150.5 372.0h0M138.1 372.7h0M162.4 379.9h0M141.7 370.3h0M158.5 360.8h0M169.9 384.8h0M138.2 372.6h0M146.2 377.1h0M160.1 358.3h0M143.3 364.5h0M152.1 364.4h0M140.9 375.5h0M154.0 359.8h0M135.9 364.0h0M156.7 379.6h0M166.7 383.3h0M150.0 358.3h0M139.1 369.9h0M170.6 368.5h0M158.9 372.6h0M159.7 367.0h0M143.9 361.2h0M154.6 369.9h0M153.4 358.7h0M131.4 369.6h0M154.3 366.0h0M146.3 374.1h0M161.3 365.9h0M161.5 364.3h0M141.7 369.8h0M142.1 375.9h0M150.2 352.9h0M154.9 369.3h0M144.0 371.7h0M147.0 357.3h0M154.4 362.0h0M152.5 372.8h0M160.1 363.0h0M150.6 363.3h0M139.2 379.0h0M130.2 358.9h0M156.5 362.4h0M144.8 350.6h0M144.6 359.4h0M145.2 358.5h0M132.1 378.2h0M144.2 376.0h0M144.1 381.4h0M139.0 372.2h0M167.0 368.4h0M152.8 374.0h0M146.0 370.2h0M149.8 362.3h0M155.6 355.8h0M140.4 360.2h0M145.8 367.3h0M144.5 364.7h0M173.6 365.1h0M148.9 374.8h0M156.3 375.0h0M174.7 367.1h0M138.4 367.3h0M183.8 363.5h0M147.5 367.5h0M158.4 363.1h0M142.4 354.4h0M145.4 367.2h0M135.5 365.9h0M137.3 372.4h0M159.9 361.6h0M136.3 361.9h0M151.9 350.1h0M151.5 359.9h0M141.5 376.2h0M148.6 378.6h0M147.2 373.0h0M143.0 369.2h0M148.6 371.9h0M148.7 371.2h0M137.6 353.9h0M134.8 359.8h0M139.4 375.2h0M149.4 376.3h0M162.4 370.9h0M163.3 367.1h0M151.3 365.2h0M157.9 364.8h0M149.4 361.1h0M159.5 355.0h0M149.4 368.8h0M152.2 364.8h0M145.2 365.7h0M148.0 380.0h0M167.7 374.1h0M135.7 361.2h0M148.1 371.8h0M142.0 356.1h0M158.0 376.3h0M166.8 371.6h0M144.9 365.8h0M154.4 378.8h0M154.4 365.0h0M130.7 358.5h0M145.6 382.6h0M147.4 367.6h0M155.0 363.5h0M152.6 370.8h0M150.5 363.2h0M137.1 371.0h0M140.7 364.8h0M141.5 362.0h0M153.0 379.4h0M137.9 368.9h0M163.2 354.6h0M152.0 366.3h0M165.5 360.7h0M149.7 363.5h0M142.3 363.5h0M149.1 367.9h0M150.0 354.3h0M137.4 372.8h0M162.1 359.2h0M161.1 373.5h0M144.5 370.5h0M138.0 363.2h0M157.7 370.9h0M147.5 362.1h0M150.2 364.9h0M154.5 360.9h0M136.8 369.7h0M156.2 378.4h0M163.2 377.9h0M131.6 350.3h0M141.4 360.4h0M141.0 359.4h0M155.5 380.9h0M155.7 364.1h0M151.7 373.6h0M153.6 353.3h0M152.8 368.9h0M147.2 371.6h0M147.4 373.4h0M145.5 376.9h0M146.5 370.3h0M150.2 355.5h0M145.5 365.8h0M137.5 373.0h0M132.2 359.9h0M160.6 365.5h0M157.3 369.3h0M133.8 371.5h0M145.0 362.1h0M152.5 388.9h0M164.5 370.5h0M141.6 369.3h0M149.7 362.3h0M159.9 369.3h0M129.7 363.6h0M140.2 356.0h0M147.4 356.3h0M140.3 368.8h0M169.9 369.3h0M156.9 349.3h0M149.9 352.1h0M137.8 364.2h0M156.9 368.0h0M154.4 372.7h0M142.4 357.9h0M143.3 371.4h0M132.5 363.6h0M147.0 363.7h0M156.9 367.5h0M158.3 375.9h0M153.9 372.3h0M156.4 375.0h0M141.7 361.8h0M142.9 364.9h0M160.4 360.4h0M152.5 364.0h0M139.5 363.7h0M153.0 364.7h0M156.5 373.7h0M155.2 371.5h0M148.9 373.2h0M142.4 367.9h0M152.0 375.8h0M165.5 370.3h0M149.3 374.8h0M140.8 370.4h0M151.3 373.3h0M134.9 365.6h0M150.2 358.7h0M144.6 356.6h0M157.8 383.0h0M148.8 370.5h0M158.7 372.0h0M171.7 369.0h0M145.5 363.9h0M139.1 387.6h0M152.5 359.9h0M146.8 367.0h0M149.2 367.3h0M141.5 358.6h0M153.5 358.9h0M148.5 362.5h0M145.3 363.7h0M151.2 373.9h0M160.0 360.3h0M141.7 369.8h0M139.4 377.3h0M159.7 375.4h0M141.4 358.5h0M148.8 346.0h0M152.6 374.3h0M155.4 372.0h0M147.8 363.2h0M136.2 375.6h0M158.2 365.7h0M143.2 367.8h0M142.3 359.3h0M168.6 372.2h0M156.9 365.4h0M136.7 362.6h0M142.7 374.9h0M145.2 368.8h0M139.9 355.7h0M156.0 374.6h0M155.8 362.3h0M150.2 364.9h0M143.5 367.5h0M149.9 365.9h0M154.3 369.2h0M136.9 371.1h0M144.3 363.5h0M141.9 382.1h0M154.9 363.1h0M150.4 363.9h0M134.2 380.4h0M141.3 384.3h0M166.0 369.8h0M137.6 365.0h0M149.3 359.8h0M141.2 375.2h0M160.6 370.2h0M147.0 361.3h0M143.2 370.0h0M135.5 376.2h0M145.1 372.3h0M156.3 384.6h0M154.6 376.8h0M134.0 369.2h0M163.8 369.1h0M145.1 371.3h0M136.7 375.2h0M149.0 373.9h0M141.2 374.5h0M141.7 368.5h0M141.1 372.4h0M146.7 376.3h0M142.5 365.7h0M129.9 356.1h0M153.0 380.7h0M142.2 371.2h0M160.0 365.7h0M153.2 369.8h0M154.0 366.4h0M149.5 355.2h0M161.0 367.7h0M144.2 356.7h0M137.3 367.9h0M151.2 367.1h0M143.8 366.2h0M149.8 370.5h0M143.3 364.8h0M160.6 366.2h0M154.9 358.1h0M148.8 374.9h0M143.5 368.3h0M158.9 364.5h0M140.6 368.3h0M143.3 364.0h0M155.3 363.1h0M153.8 370.0h0M168.6 378.7h0M145.4 365.3h0M154.4 363.8h0M160.6 382.1h0M145.9 361.4h0M163.7 378.0h0M166.0 367.8h0M140.7 372.2h0M142.6 366.2h0M134.6 354.5h0M153.2 365.1h0M155.0 383.8h0M153.8 367.2h0M134.8 370.2h0M139.7 364.2h0M132.8 364.9h0M130.9 368.0h0M133.7 369.4h0M131.2 381.9h0M145.7 367.2h0M151.9 366.7h0M154.0 363.4h0M147.3 357.9h0M140.6 355.0h0M147.4 372.4h0M153.4 354.5h0M144.5 377.5h0M148.1 373.9h0M144.4 365.0h0M142.1 358.5h0M147.9 367.8h0M136.0 366.4h0M158.4 377.0h0M131.4 360.3h0M152.3 365.3h0M133.5 365.6h0M163.1 367.2h0M156.5 363.9h0M139.1 354.0h0M142.9 355.0h0M135.9 361.3h0M146.9 365.8h0M151.7 375.3h0M173.8 387.3h0M133.4 378.5h0M160.3 371.8h0M141.5 380.6h0M150.3 367.0h0M156.6 364.7h0M153.1 385.1h0M151.9 360.2h0M145.5 364.3h0M147.4 365.6h0M149.1 378.4h0M159.8 364.5h0M132.4 371.6h0M142.4 364.0h0M134.7 357.2h0M137.6 368.2h0M139.3 367.8h0M158.8 360.3h0M169.6 363.6h0M161.4 363.3h0M135.3 373.2h0M148.3 371.0h0M135.8 368.0h0M152.1 371.6h0M160.6 365.5h0M153.5 371.7h0M156.5 364.1h0M146.0 357.6h0M146.5 368.1h0M153.4 375.9h0M160.6 356.6h0M143.9 365.5h0M148.3 370.5h0M150.1 360.8h0M158.4 370.6h0M146.8 364.5h0M136.2 358.0h0M158.6 377.0h0M151.7 357.9h0M151.4 375.3h0M134.4 363.1h0M147.4 360.7h0M129.8 359.1h0M145.1 361.1h0M143.0 369.0h0M153.3 354.5h0M162.3 378.3h0M147.1 373.6h0M165.9 379.7h0M141.5 359.7h0M155.3 351.5h0M134.5 361.5h0M148.8 366.5h0M144.2 369.4h0M145.3 363.5h0M153.5 367.6h0M148.7 356.4h0M139.2 379.8h0M148.7 359.5h0M151.5 369.9h0M143.7 375.0h0M143.7 361.4h0M135.7 366.3h0M153.1 380.1h0M140.6 364.7h0M152.1 375.7h0M132.9 368.1h0M161.5 370.8h0M137.0 371.7h0M159.4 367.2h0M142.9 365.5h0M153.1 375.2h0M146.0 369.3h0M154.5 372.0h0M147.5 358.8h0M160.5 369.2h0M154.4 377.2h0M154.5 374.9h0M164.6 372.0h0M140.3 363.0h0M160.8 364.6h0M148.2 370.9h0M132.3 376.3h0M152.4 368.5h0M145.4 376.9h0M164.8 367.3h0M142.5 375.8h0M148.0 360.4h0M149.9 369.2h0M152.7 373.0h0M137.3 370.7h0M161.9 362.3h0M164.6 364.1h0M147.4 364.4h0M131.2 354.9h0M149.4 361.0h0M149.3 361.5h0M154.9 374.1h0M144.5 377.4h0M135.3 363.0h0M146.0 365.3h0M138.0 368.1h0M165.7 365.8h0M140.2 364.8h0M140.8 373.0h0M147.0 369.2h0M134.8 365.6h0M142.9 362.9h0M146.1 378.2h0M142.5 362.6h0M144.9 368.2h0M160.2 361.5h0M151.9 363.8h0M133.8 366.8h0M143.1 364.2h0M155.2 372.4h0M140.8 367.4h0M148.3 357.6h0M147.2 350.7h0M152.9 375.5h0M145.7 363.1h0M146.1 378.3h0M138.7 366.7h0M151.2 362.4h0M138.0 370.6h0M165.3 367.6h0M147.3 367.7h0M145.2 360.6h0M155.6 373.2h0M146.6 375.5h0M148.4 363.9h0M147.0 380.6h0M140.1 362.6h0M138.1 368.4h0M140.3 354.9h0M159.1 354.8h0M141.1 382.2h0M143.3 377.5h0M142.9 375.5h0M154.6 356.0h0M167.8 371.5h0M138.0 369.6h0M153.1 368.8h0M148.7 369.9h0M144.4 360.5h0M152.7 367.0h0M134.5 357.8h0M156.0 366.0h0M149.8 370.6h0M137.3 360.7h0M163.8 367.4h0M156.2 365.4h0M159.4 369.0h0M132.6 372.7h0M144.7 369.0h0M142.1 369.9h0M153.9 357.8h0M161.4 366.5h0M147.7 361.3h0M146.2 364.3h0M157.7 361.6h0M147.1 377.3h0M134.5 362.8h0M145.5 362.0h0M136.9 370.9h0M139.5 374.7h0M147.9 371.2h0M142.6 374.2h0M150.4 369.4h0M132.0 364.9h0M171.2 367.0h0M160.4 365.3h0M154.8 364.0h0M134.3 368.8h0M138.7 367.2h0M145.1 371.7h0M170.3 369.7h0M160.9 359.0h0M142.1 361.2h0M159.9 360.8h0M160.0 355.0h0M147.7 368.3h0M159.9 360.2h0M150.9 358.6h0M140.8 358.9h0M135.5 372.6h0M146.2 365.1h0M157.7 376.0h0M133.6 365.4h0M131.0 362.5h0M153.1 372.3h0M166.1 370.5h0M143.0 359.5h0M155.0 365.0h0M166.5 361.0h0M132.7 364.0h0M136.8 367.0h0M170.4 380.9h0M144.6 377.5h0M146.2 372.3h0M149.8 374.8h0M158.3 370.4h0M161.1 389.3h0M148.6 378.8h0M144.1 386.5h0M147.1 370.3h0M150.6 370.9h0M160.9 376.7h0M148.9 369.1h0M166.1 371.9h0M138.7 359.3h0M152.9 375.0h0M165.5 370.5h0M160.7 374.9h0M150.9 366.3h0M138.5 353.5h0M140.2 370.4h0M145.9 375.9h0M150.7 358.5h0M145.0 360.1h0M132.6 363.7h0M140.0 364.9h0M152.8 355.7h0M156.0 381.3h0M133.2 373.3h0M143.8 362.6h0M130.4 352.4h0M141.7 369.5h0M183.7 386.0h0M148.2 373.6h0M144.0 375.6h0M141.5 359.9h0M135.1 367.8h0M147.1 381.9h0M144.7 371.4h0M162.6 353.8h0M130.8 352.1h0M152.0 371.5h0M161.2 370.0h0M154.2 372.7h0M131.0 380.4h0M152.8 370.8h0M162.6 356.0h0M147.5 366.3h0M150.4 358.2h0M140.4 360.8h0M150.5 370.2h0M159.1 367.5h0M145.6 359.5h0M146.1 367.1h0M151.5 361.9h0M155.9 372.3h0M130.8 363.8h0M148.1 370.4h0M140.5 364.7h0M152.6 373.5h0M158.1 367.6h0M150.7 367.7h0M160.7 364.8h0M137.4 367.4h0M143.3 354.0h0M137.4 385.8h0M148.1 362.5h0M148.5 368.3h0M145.5 363.7h0M135.1 362.5h0M146.7 370.3h0M143.0 363.2h0M153.7 365.0h0M144.7 357.0h0M159.4 362.0h0M149.9 359.1h0M145.7 357.5h0M132.9 357.9h0M157.4 369.9h0M162.2 379.5h0M147.2 355.0h0M152.0 356.6h0M132.7 366.7h0M141.8 356.4h0M144.9 353.9h0M132.0 358.6h0M148.4 373.0h0M150.7 367.4h0M154.1 373.6h0M163.4 368.4h0M155.8 368.1h0M143.8 371.5h0M148.6 366.6h0M153.7 369.8h0M136.8 359.5h0M161.1 364.5h0M156.7 371.8h0M145.2 365.4h0M141.0 361.2h0M186.5 376.5h0M156.1 372.3h0M157.1 368.4h0M165.9 363.8h0M157.6 375.0h0M149.7 385.9h0M154.7 362.1h0M138.2 355.0h0M154.9 362.5h0M131.8 358.8h0M151.9 358.6h0M153.3 359.3h0M131.6 371.8h0M167.2 375.8h0M135.8 376.9h0M158.3 374.0h0M142.2 363.2h0M150.8 375.6h0M140.8 362.1h0M173.1 367.6h0M158.2 359.9h0M166.1 378.4h0M155.6 375.6h0M154.8 364.7h0M149.2 365.2h0M145.2 367.3h0M153.9 369.5h0M149.3 373.7h0M146.1 367.6h0M133.6 368.7h0M144.5 356.0h0M153.9 365.8h0M142.9 353.7h0M151.3 380.8h0M146.2 377.4h0M137.1 371.4h0M138.4 374.4h0M140.1 381.1h0M144.7 373.9h0M145.0 355.4h0M159.2 367.1h0M136.6 348.9h0M154.8 359.0h0M143.1 366.7h0M146.5 370.0h0M173.9 363.4h0M162.8 366.9h0M153.8 370.0h0M157.5 367.2h0M149.0 366.1h0M157.6 350.8h0M141.5 363.4h0M140.5 372.3h0M143.0 368.6h0M164.0 358.2h0M163.7 367.1h0M141.6 368.5h0M159.7 361.5h0M146.2 372.0h0M158.8 362.6h0M144.5 364.5h0M157.6 367.6h0M146.7 383.4h0M144.9 364.6h0M147.6 363.1h0M149.4 372.7h0M141.9 363.2h0M133.8 367.1h0M165.2 352.7h0M143.8 369.0h0M141.6 364.8h0M161.8 367.4h0M131.1 355.8h0M144.6 355.0h0M159.2 357.4h0M151.6 371.3h0M151.2 374.0h0M161.7 364.2h0M164.8 357.4h0M158.5 365.6h0M141.9 358.8h0M134.3 367.0h0M137.2 367.4h0M129.9 362.1h0M166.4 369.9h0M145.9 374.7h0M149.2 379.9h0M149.9 363.7h0M168.7 374.8h0M142.1 364.9h0M160.1 360.9h0M151.0 377.0h0M146.3 369.9h0M157.4 370.9h0M140.3 365.2h0M143.2 359.0h0M150.2 380.5h0M148.9 373.9h0M159.5 370.5h0M141.0 373.5h0M149.6 376.8h0M150.8 366.1h0M148.2 371.6h0M154.9 365.6h0M145.3 371.7h0M160.3 366.8h0M140.6 384.2h0M133.1 363.0h0M147.5 371.0h0M160.1 372.0h0M142.6 364.2h0M141.5 373.4h0M144.4 366.2h0M149.6 364.4h0M146.1 367.1h0M151.1 362.1h0M130.2 374.0h0M163.4 373.5h0M153.9 375.1h0M139.1 356.4h0M162.1 370.8h0M152.6 362.1h0M163.1 369.6h0M135.8 375.2h0M165.0 371.0h0M148.4 366.0h0M155.7 375.5h0M144.8 380.4h0M137.5 352.5h0M145.7 369.4h0M153.9 361.5h0M145.7 367.8h0M145.1 358.4h0M162.5 352.5h0M148.3 360.7h0M141.1 364.6h0M138.1 379.8h0M147.3 361.9h0M158.9 359.9h0M141.9 352.1h0M137.2 363.5h0M157.4 366.5h0M148.5 368.4h0M147.7 356.6h0M169.4 364.1h0M135.4 349.3h0M150.0 368.7h0M129.6 353.7h0M144.8 346.8h0M154.0 376.4h0M159.5 372.2h0M134.8 368.4h0M156.5 370.8h0M156.0 360.6h0M146.7 375.0h0M173.3 362.4h0M147.9 381.2h0M138.9 367.9h0M152.3 354.2h0M164.0 383.5h0M158.1 366.5h0M143.8 374.6h0M154.2 366.4h0M153.4 363.3h0M167.8 350.6h0M141.6 375.6h0M134.6 362.5h0M144.9 358.6h0M131.8 358.8h0M146.1 375.2h0M152.1 364.9h0M143.4 363.8h0M138.2 357.0h0M160.2 370.2h0M145.9 372.7h0M150.3 364.2h0M157.7 367.0h0M134.5 356.8h0M138.4 376.5h0M173.6 365.6h0M146.3 365.9h0M137.2 378.4h0M145.3 365.3h0M142.0 355.2h0M135.3 359.1h0M143.7 364.2h0M147.7 380.3h0M147.8 368.9h0M153.5 366.3h0M130.1 371.4h0M132.5 375.2h0M156.0 362.6h0M143.4 377.3h0M160.4 375.0h0M151.0 370.9h0M133.4 348.3h0M153.4 369.4h0M137.5 376.4h0M150.6 365.6h0M160.6 385.7h0M169.7 370.3h0M147.2 359.8h0M155.1 372.5h0M151.0 369.8h0M156.1 374.4h0M143.9 376.5h0M150.9 363.6h0M152.7 368.8h0M140.2 357.3h0M156.4 362.4h0M159.3 370.1h0M148.6 362.6h0M145.6 363.8h0M144.2 365.4h0M149.3 369.4h0M160.0 374.4h0M163.3 374.7h0M143.1 374.4h0M138.4 367.8h0M139.8 362.4h0M158.0 356.8h0M150.2 365.1h0M151.0 361.8h0M152.9 354.5h0M151.8 380.0h0M146.7 353.6h0M137.2 368.8h0M141.6 370.8h0M149.2 365.8h0M151.9 386.9h0M144.1 367.1h0M143.7 361.2h0M162.0 382.0h0M143.1 360.9h0M150.2 357.0h0M144.7 359.6h0M139.1 361.7h0M132.4 366.0h0M142.4 369.3h0M139.5 355.2h0M156.6 370.9h0M136.1 382.6h0M143.7 361.6h0M154.6 367.2h0M146.8 372.4h0M153.0 376.9h0M156.5 363.4h0M130.9 358.4h0M143.7 359.4h0M138.1 374.4h0M161.7 375.6h0M146.7 351.2h0M153.0 352.1h0M165.3 360.1h0M144.3 355.8h0M148.7 370.5h0M152.1 369.5h0M145.2 381.6h0M160.7 374.7h0M156.3 369.2h0M158.1 377.3h0M148.4 360.8h0M144.4 356.6h0M144.3 367.2h0M144.2 373.9h0M131.2 353.5h0M151.6 374.4h0M156.2 374.7h0M147.8 363.7h0M142.9 368.1h0M148.3 365.4h0M150.2 368.2h0M151.2 373.8h0M166.2 363.4h0M139.2 374.1h0M151.6 374.3h0M154.9 374.9h0M148.7 352.8h0M145.5 353.3h0M137.5 371.4h0M141.9 362.4h0M155.1 363.0h0M162.7 363.3h0M141.2 356.7h0M152.7 365.8h0M153.2 362.6h0M158.1 363.6h0M150.4 371.2h0M152.4 359.1h0M157.0 376.7h0M182.3 348.9h0M135.1 318.0h0M158.8 352.6h0M162.9 337.5h0M151.7 332.3h0M160.8 319.2h0M150.4 332.4h0M130.2 316.1h0M155.9 335.6h0M165.7 333.5h0M145.0 349.8h0M131.0 332.2h0M144.4 343.7h0M155.7 344.4h0M155.4 351.8h0M165.2 332.9h0M158.5 341.1h0M157.9 322.5h0M178.9 332.7h0M152.3 334.7h0M162.3 325.0h0M147.5 331.5h0M149.9 340.7h0M152.5 331.2h0M171.0 333.7h0M170.3 327.6h0M159.3 346.2h0M176.0 349.5h0M146.9 336.6h0M158.1 334.0h0M146.2 348.6h0M167.6 338.9h0M152.2 329.4h0M196.7 331.2h0M198.8 327.7h0M206.6 336.9h0M198.8 331.0h0M208.5 331.3h0M200.5 322.2h0M199.9 331.7h0M204.1 326.2h0M199.8 327.2h0M201.5 335.8h0M197.6 323.9h0M197.0 328.9h0M198.4 333.5h0M201.1 336.5h0M198.6 327.1h0M195.0 331.8h0M201.8 331.6h0M200.0 323.7h0M199.7 318.0h0M198.8 319.2h0M194.3 333.4h0M204.9 330.6h0M199.2 322.5h0M202.0 326.4h0M204.3 327.7h0M203.6 328.0h0M201.1 329.8h0M200.5 342.4h0M201.3 325.6h0M203.0 330.8h0M202.1 325.7h0M199.3 326.5h0M201.7 325.0h0M201.5 328.7h0M202.4 326.9h0M201.1 332.0h0M204.3 331.2h0M201.1 325.0h0M203.0 340.8h0M200.6 323.4h0M198.9 332.0h0M197.9 342.2h0M200.1 326.0h0M202.0 337.4h0M204.0 338.0h0M200.2 331.9h0M199.1 319.6h0M199.1 338.0h0M204.1 330.5h0M200.8 326.9h0M199.1 337.2h0M202.5 325.9h0M196.8 336.0h0M200.8 326.9h0M200.4 333.0h0M200.1 323.9h0M197.3 327.8h0M203.2 324.8h0M205.2 326.0h0M196.8 331.0h0M200.8 329.0h0M202.3 331.1h0M206.8 337.2h0M199.3 329.4h0M197.9 319.5h0M200.5 328.4h0M206.1 330.4h0M200.7 335.7h0M201.2 335.8h0M205.4 335.3h0M194.6 328.7h0M194.5 333.6h0M203.0 321.9h0M202.6 337.3h0M196.7 332.5h0M201.9 332.8h0M200.6 327.9h0M201.1 330.3h0M198.3 326.2h0M199.2 333.2h0M198.1 322.5h0M200.6 335.5h0M199.9 333.1h0M205.2 341.4h0M202.2 329.8h0M196.1 329.5h0M201.7 331.1h0M204.5 330.2h0M201.3 329.4h0M203.5 323.8h0M200.4 323.8h0M202.5 326.8h0M197.9 328.4h0M202.7 323.3h0M196.7 323.5h0M204.1 328.4h0M196.3 334.2h0M194.6 328.9h0M202.0 333.8h0M200.0 335.5h0M200.8 334.3h0M201.7 327.6h0M200.4 327.7h0M198.0 319.5h0M201.1 326.2h0M201.5 332.6h0M201.9 323.9h0M206.0 337.6h0M198.5 338.1h0M200.7 327.9h0M202.0 335.2h0M199.3 322.0h0M197.2 324.1h0M198.9 327.9h0M203.4 330.0h0M199.8 329.0h0M202.2 325.2h0M198.5 341.0h0M201.7 331.6h0M198.6 331.6h0M198.2 333.8h0M200.8 331.0h0M200.6 328.7h0M204.6 326.9h0M196.0 320.8h0M201.9 338.4h0M205.0 324.8h0M204.3 320.7h0M199.4 325.5h0M198.6 321.0h0M199.1 341.2h0M201.3 332.1h0M201.0 337.9h0M201.5 338.2h0M202.2 333.2h0M197.5 333.2h0M197.4 325.9h0M197.1 329.5h0M196.8 326.6h0M200.2 330.2h0M201.4 326.1h0M207.5 337.1h0M202.0 334.3h0M200.5 329.4h0M204.4 320.6h0M198.5 333.8h0M201.4 335.0h0M203.2 329.6h0M202.7 322.9h0M201.6 332.4h0M199.5 335.9h0M197.1 319.2h0M200.1 333.2h0M198.9 319.8h0M202.4 330.4h0M200.1 339.8h0M202.1 330.5h0M196.0 332.7h0M203.2 328.2h0M198.1 330.0h0M196.2 343.2h0M196.7 337.5h0M198.8 328.2h0M203.6 327.9h0M202.5 330.1h0M197.3 342.3h0M200.7 331.2h0M200.2 336.2h0M196.2 328.0h0M197.8 322.9h0M194.9 337.4h0M198.1 329.6h0M193.2 325.6h0M198.3 326.1h0M197.9 326.2h0M198.3 326.6h0M198.2 321.4h0M203.7 336.7h0M199.5 332.1h0M201.2 335.5h0M202.6 328.1h0M203.0 331.9h0M202.4 330.9h0M199.0 336.6h0M197.5 334.6h0M198.3 332.0h0M199.2 326.4h0M200.5 323.3h0M200.3 325.5h0M203.5 326.5h0M200.2 327.0h0M205.5 323.1h0M203.3 339.3h0M199.2 331.5h0M202.9 318.7h0M192.6 323.9h0M204.3 322.5h0M201.6 331.3h0M201.6 336.0h0M195.8 324.5h0M207.5 333.5h0M199.8 328.5h0M200.1 336.4h0M203.6 337.6h0M200.0 331.7h0M198.1 334.0h0M202.3 330.0h0M197.7 327.9h0M202.6 323.5h0M200.9 331.8h0M203.6 329.6h0M197.2 327.9h0M203.9 329.6h0M201.3 329.0h0M206.0 324.2h0M198.7 327.1h0M205.6 336.4h0M202.4 328.7h0M202.7 337.8h0M198.5 323.6h0M202.0 322.4h0M202.3 330.7h0M198.2 334.3h0M197.3 326.3h0M198.4 333.5h0M204.5 335.2h0M200.9 336.0h0M203.1 329.4h0M201.3 329.7h0M200.8 320.8h0M201.6 350.0h0M202.2 340.2h0M205.2 348.5h0M198.2 341.3h0M199.3 331.6h0M198.9 337.1h0M203.9 341.5h0M194.8 343.1h0M198.7 329.5h0M206.9 335.8h0M203.2 338.6h0M198.0 341.7h0M201.3 344.3h0M203.7 338.0h0M202.9 333.8h0M200.9 344.8h0M199.4 341.0h0M203.7 348.4h0M201.5 339.8h0M203.6 346.9h0M202.5 337.6h0M200.3 344.6h0M205.3 343.5h0M200.2 345.7h0M202.6 337.4h0M199.8 342.3h0M200.9 337.9h0M200.8 342.0h0M199.8 346.8h0M202.1 361.0h0M204.9 343.2h0M206.4 347.3h0M205.3 343.7h0M201.0 349.9h0M205.3 345.8h0M202.6 349.3h0M206.2 345.2h0M198.2 357.5h0M205.4 351.3h0M199.9 332.7h0M203.5 367.7h0M203.1 365.1h0M199.7 361.0h0M201.7 363.1h0M202.3 360.2h0M201.9 369.9h0M203.2 366.1h0M200.3 375.0h0M204.1 360.8h0" stroke="#000" stroke-width="1.12" stroke-linecap="round" fill="none"/>
<path d="M232.8 287V391.3" fill="none" stroke="#555" stroke-width="0.9"/>
<path d="M232.8 287H126.0M232.8 391.3H126.0M128.4 287V393.90000000000003" fill="none" stroke="#2a2a2a" stroke-width="1.1"/>
<path d="M128.4 391.3v2.6M128.4 391.3h-2.6M136.3 391.3v1.5M128.4 383.5h-1.5M140.9 391.3v1.5M128.4 378.9h-1.5M144.1 391.3v1.5M128.4 375.6h-1.5M146.6 391.3v1.5M128.4 373.1h-1.5M148.7 391.3v1.5M128.4 371.0h-1.5M150.5 391.3v1.5M128.4 369.3h-1.5M152.0 391.3v1.5M128.4 367.8h-1.5M153.3 391.3v1.5M128.4 366.4h-1.5M154.5 391.3v2.6M128.4 365.2h-2.6M162.4 391.3v1.5M128.4 357.4h-1.5M167.0 391.3v1.5M128.4 352.8h-1.5M170.2 391.3v1.5M128.4 349.5h-1.5M172.7 391.3v1.5M128.4 347.0h-1.5M174.8 391.3v1.5M128.4 344.9h-1.5M176.6 391.3v1.5M128.4 343.2h-1.5M178.1 391.3v1.5M128.4 341.7h-1.5M179.4 391.3v1.5M128.4 340.3h-1.5M180.6 391.3v2.6M128.4 339.1h-2.6M188.5 391.3v1.5M128.4 331.3h-1.5M193.1 391.3v1.5M128.4 326.7h-1.5M196.3 391.3v1.5M128.4 323.5h-1.5M198.8 391.3v1.5M128.4 320.9h-1.5M200.9 391.3v1.5M128.4 318.9h-1.5M202.7 391.3v1.5M128.4 317.1h-1.5M204.2 391.3v1.5M128.4 315.6h-1.5M205.5 391.3v1.5M128.4 314.3h-1.5M206.7 391.3v2.6M128.4 313.1h-2.6M214.6 391.3v1.5M128.4 305.2h-1.5M219.2 391.3v1.5M128.4 300.6h-1.5M222.4 391.3v1.5M128.4 297.4h-1.5M224.9 391.3v1.5M128.4 294.8h-1.5M227.0 391.3v1.5M128.4 292.8h-1.5M228.8 391.3v1.5M128.4 291.0h-1.5M230.3 391.3v1.5M128.4 289.5h-1.5M231.6 391.3v1.5M128.4 288.2h-1.5" stroke="#222" stroke-width="0.7" fill="none"/>
<rect x="180.5" y="306.8" width="39.3" height="71.5" fill="none" stroke="#111" stroke-width="1.1"/>
<text x="200.2" y="303.1" font-size="10.4" text-anchor="middle" textLength="24" lengthAdjust="spacingAndGlyphs">17 %</text>
<text x="287.4" y="281.7" font-size="10.9" text-anchor="start" textLength="29.6" lengthAdjust="spacingAndGlyphs">Mock</text>
<path d="M303.8 372.2h0M293.6 379.8h0M295.7 371.3h0M291.3 375.8h0M299.2 365.2h0M296.2 371.0h0M299.6 374.8h0M304.0 373.0h0M296.2 363.5h0M298.4 376.3h0M301.0 368.4h0M296.2 384.0h0M293.8 372.6h0M298.3 385.8h0M299.1 377.2h0M300.4 376.1h0M300.7 371.0h0M293.2 373.0h0M298.8 376.0h0M302.7 363.1h0M294.2 379.0h0M298.4 367.3h0M293.4 372.2h0M297.4 358.9h0M305.2 376.1h0M297.4 377.6h0M291.7 375.1h0M298.3 375.3h0M297.6 371.6h0M302.1 374.4h0M289.7 380.1h0M291.9 371.3h0M296.1 376.3h0M288.7 377.5h0M302.2 372.3h0M286.4 374.9h0M292.4 374.8h0M289.1 370.9h0M293.2 386.8h0M300.6 371.3h0M299.6 382.9h0M301.2 379.4h0M299.6 362.6h0M286.3 375.0h0M298.0 379.2h0M287.3 378.0h0M294.0 368.7h0M294.6 375.0h0M293.8 367.1h0M299.0 368.0h0M292.5 372.3h0M305.2 374.6h0M299.5 382.3h0M302.5 375.5h0M300.3 379.3h0M301.0 367.1h0M296.3 367.3h0M306.4 371.0h0M291.3 383.1h0M298.9 366.3h0M296.6 365.0h0M295.4 373.2h0M298.1 380.1h0M292.8 364.7h0M300.9 372.2h0M300.5 366.2h0M297.0 381.5h0M300.2 377.3h0M291.3 375.1h0M287.5 373.3h0M293.6 372.3h0M295.4 374.3h0M309.0 370.1h0M295.4 368.8h0M301.7 367.5h0M300.8 373.6h0M307.1 369.3h0M297.1 378.3h0M299.8 362.1h0M295.6 376.7h0M292.2 376.5h0M291.5 380.2h0M292.6 372.2h0M303.7 365.4h0M298.0 368.5h0M295.8 379.7h0M296.6 371.9h0M293.7 371.3h0M296.4 370.4h0M296.3 373.2h0M299.8 372.3h0M301.1 365.1h0M288.4 370.3h0M297.7 379.1h0M303.4 381.5h0M291.4 372.9h0M295.3 370.7h0M297.4 381.0h0M302.1 372.6h0M299.5 367.1h0M295.5 372.9h0M299.1 377.3h0M301.7 382.1h0M298.5 370.9h0M305.9 376.5h0M298.7 371.8h0M291.3 379.8h0M292.6 375.0h0M295.9 375.0h0M295.5 368.2h0M299.7 371.8h0M298.3 371.8h0M305.1 353.9h0M300.6 378.2h0M304.0 373.5h0M292.7 372.4h0M294.4 371.6h0M300.0 373.7h0M297.0 374.9h0M299.7 366.4h0M297.8 374.2h0M293.5 374.2h0M305.1 373.7h0M302.3 365.5h0M288.8 372.8h0M293.5 366.6h0M296.7 375.4h0M300.0 380.7h0M296.2 378.3h0M289.8 371.7h0M300.7 370.6h0M295.5 370.5h0M302.6 375.4h0M298.1 369.9h0M301.6 370.6h0M300.8 359.9h0M301.0 368.9h0M294.0 369.3h0M301.7 370.6h0M297.6 380.2h0M290.4 366.2h0M294.6 366.3h0M294.9 376.8h0M298.9 368.2h0M300.0 372.6h0M291.0 374.5h0M300.2 373.6h0M296.3 369.3h0M291.3 378.5h0M300.8 381.7h0M292.8 368.1h0M290.6 372.1h0M300.4 378.7h0M301.1 372.4h0M293.3 368.1h0M301.9 371.2h0M301.6 378.1h0M294.0 368.1h0M306.6 374.9h0M296.3 375.6h0M297.7 370.0h0M284.7 376.6h0M299.8 377.2h0M293.5 379.0h0M298.8 378.6h0M288.1 365.4h0M302.4 378.4h0M303.9 376.7h0M306.1 378.9h0M281.9 368.9h0M299.6 378.5h0M298.4 375.6h0M281.6 367.2h0M293.0 380.5h0M296.2 369.3h0M303.8 368.0h0M292.5 375.7h0M297.7 370.3h0M296.4 375.5h0M298.5 372.2h0M294.7 375.1h0M301.1 378.0h0M301.5 373.4h0M289.9 378.3h0M302.3 378.1h0M293.0 369.0h0M295.3 378.2h0M302.3 376.9h0M297.2 374.3h0M299.6 379.6h0M300.6 382.5h0M299.7 377.7h0M294.0 365.6h0M292.0 376.0h0M300.1 372.8h0M300.5 372.1h0M298.5 375.4h0M295.8 371.8h0M301.0 382.4h0M296.6 375.1h0M289.9 373.7h0M298.1 377.8h0M299.3 377.9h0M300.6 380.0h0M292.3 377.0h0M293.0 373.4h0M298.4 374.3h0M294.5 361.9h0M296.4 365.6h0M301.4 379.2h0M298.7 371.8h0M305.9 383.4h0M298.2 383.4h0M305.3 366.8h0M302.1 375.3h0M309.5 389.3h0M296.9 369.3h0M296.4 375.7h0M303.3 372.3h0M294.3 372.3h0M294.5 372.1h0M298.1 373.5h0M298.7 377.7h0M289.9 369.2h0M298.1 376.3h0M295.3 369.8h0M296.7 376.4h0M297.8 375.3h0M295.9 369.4h0M302.2 374.4h0M299.3 369.6h0M296.0 369.0h0M297.3 379.9h0M302.1 363.7h0M300.8 376.6h0M303.2 377.4h0M296.3 370.4h0M297.6 379.5h0M307.0 378.5h0M296.8 366.6h0M305.3 376.4h0M301.2 376.1h0M294.8 369.6h0M290.0 376.7h0M300.1 377.7h0M293.5 369.7h0M293.5 362.8h0M288.4 375.8h0M302.9 369.6h0M297.5 364.3h0M297.1 371.5h0M299.0 360.7h0M298.2 371.8h0M297.5 381.8h0M299.6 358.1h0M295.6 376.1h0M284.2 368.6h0M300.7 371.4h0M299.1 368.6h0M297.1 377.1h0M304.9 373.5h0M290.1 369.3h0M282.6 366.5h0M304.4 371.3h0M299.1 379.9h0M288.9 367.0h0M295.0 375.9h0M300.1 375.4h0M291.0 362.7h0M299.8 379.6h0M307.5 373.4h0M303.9 385.7h0M296.9 383.1h0M298.6 372.2h0M292.3 372.8h0M297.7 368.1h0M295.4 366.1h0M292.1 377.9h0M290.4 372.2h0M306.6 371.4h0M297.5 372.7h0M291.9 377.3h0M294.9 378.7h0M304.4 373.6h0M305.1 372.5h0M294.0 374.2h0M298.0 384.9h0M301.4 362.3h0M295.3 367.3h0M291.2 376.2h0M292.2 374.4h0M297.1 380.3h0M293.2 380.8h0M290.6 384.4h0M295.8 369.2h0M301.6 377.0h0M300.4 372.3h0M295.9 378.9h0M306.5 374.6h0M293.1 378.5h0M296.6 369.6h0M290.2 374.5h0M300.9 370.8h0M296.4 372.2h0M288.7 371.1h0M292.9 368.0h0M305.9 379.7h0M300.6 375.2h0M297.6 379.6h0M301.3 368.2h0M289.1 362.9h0M292.9 370.1h0M290.4 372.8h0M292.9 378.0h0M295.1 379.4h0M299.6 380.3h0M302.0 382.1h0M301.8 377.6h0M310.3 374.2h0M294.5 369.4h0M296.9 377.4h0M299.5 370.9h0M292.9 369.2h0M295.6 376.9h0M299.0 374.8h0M292.6 378.3h0M299.3 369.7h0M303.1 380.1h0M291.4 375.6h0M285.6 372.7h0M297.4 369.5h0M291.8 367.7h0M297.8 366.1h0M294.7 381.3h0M298.5 365.8h0M302.6 377.1h0M301.0 372.3h0M295.2 370.5h0M291.1 371.0h0M284.6 373.1h0M286.2 378.6h0M293.0 376.7h0M297.4 373.6h0M293.6 366.1h0M293.9 363.9h0M289.0 383.9h0M288.7 368.1h0M288.3 365.0h0M299.9 379.8h0M287.0 365.4h0M300.2 377.7h0M292.3 378.8h0M299.4 375.0h0M297.9 378.9h0M300.5 366.0h0M302.6 366.9h0M292.8 372.6h0M291.9 373.6h0M294.5 373.2h0M292.8 376.2h0M299.9 369.6h0M296.1 361.9h0M296.6 375.9h0M298.7 372.4h0M294.2 378.1h0M302.0 385.1h0M287.4 374.1h0M297.7 376.8h0M299.0 368.7h0M292.7 378.6h0M293.1 375.5h0M301.0 375.0h0M295.0 378.7h0M287.0 367.4h0M289.8 376.7h0M301.5 376.1h0M292.1 382.4h0M303.0 363.7h0M303.3 373.1h0M295.5 385.7h0M299.2 371.4h0M292.4 371.2h0M294.5 383.4h0M293.0 387.4h0M299.4 374.3h0M290.1 369.7h0M295.8 370.4h0M296.7 371.4h0M299.1 369.0h0M285.9 369.2h0M287.6 374.6h0M292.1 373.8h0M295.4 376.2h0M297.2 373.8h0M297.4 367.0h0M306.5 377.7h0M299.7 375.0h0M299.4 370.4h0M294.0 372.1h0M300.4 375.4h0M299.9 374.0h0M299.8 372.9h0M295.9 377.8h0M299.5 379.5h0M304.0 371.9h0M292.5 373.5h0M285.7 367.5h0M300.5 372.7h0M300.1 376.2h0M295.3 378.4h0M294.2 374.5h0M310.1 373.1h0M294.1 369.7h0M290.4 374.8h0M294.1 367.6h0M298.9 374.3h0M293.4 373.7h0M294.5 368.6h0M297.9 375.4h0M294.3 372.4h0M297.1 376.9h0M296.2 370.9h0M291.1 376.3h0M296.8 382.2h0M290.7 374.6h0M301.0 377.9h0M291.8 370.1h0M295.2 371.7h0M287.4 363.2h0M294.2 372.8h0M290.2 367.4h0M303.8 374.2h0M295.8 362.3h0M299.0 368.9h0M287.7 374.0h0M290.3 375.7h0M295.6 364.5h0M289.7 371.3h0M302.1 387.7h0M294.4 377.9h0M297.1 374.5h0M297.9 358.5h0M295.6 368.5h0M300.2 376.4h0M293.1 374.9h0M298.2 376.1h0M302.3 378.8h0M297.4 374.1h0M297.0 378.3h0M294.7 363.8h0M296.7 387.3h0M299.7 371.9h0M295.2 370.0h0M288.1 381.8h0M297.2 376.9h0M295.6 378.9h0M298.7 370.2h0M296.6 375.1h0M304.1 377.5h0M290.4 367.3h0M291.6 372.4h0M299.6 372.2h0M291.3 372.0h0M298.0 369.7h0M296.3 366.7h0M286.7 375.9h0M299.7 374.9h0M303.1 379.9h0M297.4 373.2h0M289.5 369.9h0M300.2 365.6h0M291.2 374.0h0M295.8 371.9h0M298.4 384.6h0M292.5 386.1h0M288.0 382.2h0M295.7 368.6h0M296.1 365.9h0M292.2 372.3h0M292.5 368.7h0M300.0 381.3h0M295.9 374.2h0M294.0 371.3h0M293.4 373.5h0M297.2 380.4h0M296.8 368.4h0M295.5 376.2h0M289.5 366.3h0M294.5 372.4h0M293.3 369.9h0M296.7 375.3h0M302.0 374.4h0M301.0 380.1h0M299.5 377.3h0M296.9 370.2h0M294.8 366.3h0M298.0 369.1h0M294.0 371.2h0M294.7 372.3h0M292.2 369.4h0M296.1 379.5h0M296.0 378.7h0M305.3 372.1h0M299.0 370.8h0M294.5 372.2h0M300.1 373.3h0M294.0 373.4h0M301.2 364.7h0M300.1 371.2h0M310.4 363.3h0M291.1 373.7h0M296.0 377.2h0M295.8 367.7h0M297.8 374.4h0M299.8 370.2h0M291.6 369.7h0M292.8 384.3h0M297.8 378.4h0M301.0 376.2h0M290.9 371.2h0M288.8 375.8h0M301.9 372.5h0M300.4 376.0h0M301.6 368.6h0M291.6 373.1h0M295.4 371.4h0M297.4 365.8h0M298.5 382.8h0M295.8 378.0h0M296.1 369.2h0M301.2 365.5h0M294.2 369.5h0M293.7 368.9h0M294.2 370.2h0M293.9 365.2h0M297.0 369.0h0M295.3 373.9h0M294.2 375.8h0M303.2 362.7h0M297.8 373.5h0M294.7 368.1h0M302.4 367.8h0M293.7 371.8h0M296.3 369.8h0M295.9 377.4h0M293.6 377.4h0M294.5 371.8h0M296.7 370.0h0M289.4 383.4h0M294.5 383.8h0M297.5 375.6h0M297.7 372.7h0M297.8 379.1h0M307.6 381.5h0M299.5 370.6h0M295.6 383.5h0M295.7 372.6h0M296.3 379.5h0M298.4 370.7h0M294.9 373.9h0M303.5 371.0h0M291.0 373.7h0M299.3 379.1h0M298.7 368.6h0M290.9 371.9h0M299.3 376.5h0M299.0 370.9h0M293.3 384.7h0M307.4 365.4h0M299.7 387.5h0M294.8 369.9h0M294.0 378.9h0M292.8 382.4h0M297.6 376.5h0M296.6 365.7h0M289.6 371.7h0M291.4 373.9h0M292.9 376.6h0M294.4 379.0h0M294.6 379.7h0M293.1 381.7h0M299.4 368.2h0M300.8 379.0h0M296.7 363.9h0M285.9 374.3h0M295.6 367.6h0M299.0 363.6h0M295.9 378.6h0M297.6 373.3h0M296.8 379.0h0M289.2 364.7h0M284.3 366.8h0M299.3 373.0h0M293.8 369.8h0M298.3 373.9h0M294.9 370.1h0M295.5 371.6h0M302.8 367.2h0M290.6 380.6h0M296.3 371.7h0M291.1 367.0h0M296.6 377.3h0M298.6 376.2h0M299.4 374.7h0M297.0 374.7h0M289.8 371.3h0M297.5 372.8h0M300.5 361.2h0M301.0 364.9h0M306.5 366.7h0M299.0 375.1h0M291.5 380.3h0M293.8 372.6h0M296.7 372.0h0M301.3 379.8h0M290.9 371.5h0M300.6 377.2h0M299.4 375.9h0M292.2 366.1h0M299.2 375.3h0M292.7 374.6h0M296.3 367.1h0M294.9 367.8h0M297.4 366.4h0M290.7 381.1h0M298.8 385.3h0M286.0 377.4h0M294.4 382.2h0M293.6 366.0h0M303.8 381.3h0M298.9 384.5h0M294.0 382.5h0M292.1 368.3h0M296.5 379.6h0M293.3 372.9h0M306.9 379.5h0M283.1 369.9h0M296.6 373.6h0M284.6 370.3h0M301.2 376.2h0M292.5 372.9h0M303.9 379.7h0M293.7 378.1h0M301.4 375.8h0M297.3 373.3h0M301.9 371.8h0M296.4 373.5h0M282.2 377.7h0M292.9 374.2h0M288.9 375.1h0M300.8 373.3h0M298.9 373.1h0M296.3 369.8h0M298.5 363.0h0M297.2 376.7h0M293.6 376.6h0M305.6 368.1h0M297.4 384.2h0M295.4 367.0h0M289.4 379.1h0M293.4 374.9h0M296.4 375.3h0M295.5 379.9h0M294.0 378.7h0M296.1 373.7h0M291.0 367.6h0M296.4 366.7h0M289.0 374.6h0M292.2 382.3h0M292.8 378.4h0M300.4 373.3h0M298.6 375.4h0M296.7 377.3h0M290.9 383.1h0M294.4 369.3h0M300.1 377.6h0M302.3 375.1h0M289.3 369.3h0M294.3 367.8h0M296.8 380.6h0M298.0 375.4h0M296.4 372.4h0M299.5 374.1h0M289.5 379.0h0M303.7 374.1h0M290.9 382.5h0M296.6 372.1h0M298.8 369.1h0M301.9 372.9h0M300.6 368.3h0M300.5 371.6h0M302.4 380.4h0M295.6 383.1h0M299.9 377.1h0M303.7 374.6h0M292.7 368.4h0M289.7 367.9h0M291.6 375.6h0M303.1 374.5h0M302.3 370.3h0M294.7 371.0h0M297.5 382.2h0M298.6 379.1h0M301.4 373.8h0M287.4 374.8h0M293.7 380.7h0M295.1 375.5h0M297.9 374.9h0M296.7 364.7h0M294.9 364.1h0M297.8 362.9h0M284.1 360.9h0M311.0 373.5h0M300.3 375.4h0M300.6 368.7h0M293.3 376.0h0M298.4 376.0h0M306.2 373.1h0M305.1 365.3h0M296.8 381.6h0M290.5 381.2h0M297.2 370.3h0M295.0 384.4h0M300.5 373.8h0M290.3 369.1h0M295.5 371.2h0M297.7 363.2h0M294.2 371.6h0M301.4 364.6h0M291.0 379.9h0M290.5 375.3h0M294.7 365.8h0M300.4 376.7h0M295.0 363.9h0M293.6 374.4h0M300.3 376.2h0M297.5 373.9h0M293.9 367.2h0M297.0 372.9h0M295.3 372.5h0M299.3 373.9h0M297.1 381.8h0M292.6 383.0h0M294.1 382.4h0M294.4 370.0h0M298.2 369.3h0M298.2 373.6h0M292.4 376.0h0M295.5 362.0h0M297.9 370.1h0M301.7 383.5h0M297.6 366.6h0M305.7 369.4h0M296.5 369.6h0M299.9 376.3h0M294.8 373.2h0M291.7 371.7h0M296.9 365.0h0M298.7 376.9h0M298.0 373.5h0M297.1 369.8h0M294.8 373.7h0M292.5 377.9h0M295.0 365.2h0M298.7 364.8h0M301.0 367.8h0M299.3 356.4h0M301.6 370.1h0M302.5 379.7h0M298.2 371.7h0M299.6 379.2h0M294.3 357.4h0M296.0 372.9h0M298.9 381.3h0M291.2 382.3h0M292.6 370.7h0M297.4 368.9h0M290.0 375.7h0M296.7 366.7h0M289.3 371.5h0M297.3 364.1h0M296.5 374.0h0M293.7 373.5h0M291.9 382.6h0M294.0 375.5h0M285.7 369.8h0M294.5 373.0h0M297.0 366.3h0M302.2 373.7h0M294.0 372.3h0M295.6 375.9h0M303.1 378.7h0M304.7 362.3h0M294.1 375.3h0M301.4 377.6h0M302.0 366.8h0M298.9 384.2h0M291.7 369.5h0M291.9 387.3h0M299.2 377.9h0M307.6 378.9h0M295.5 375.0h0M303.9 379.2h0M305.5 367.7h0M290.4 369.0h0M293.5 362.5h0M303.6 376.5h0M301.1 369.5h0M299.0 377.7h0M296.4 376.9h0M299.4 366.0h0M293.4 377.4h0M308.4 375.0h0M290.9 374.6h0M287.8 376.1h0M297.1 373.4h0M303.3 373.6h0M294.0 379.4h0M296.1 367.9h0M291.5 366.8h0M296.1 369.2h0M291.5 379.3h0M291.6 371.7h0M289.3 384.2h0M293.8 356.2h0M305.3 369.5h0M296.1 371.0h0M297.3 375.0h0M307.1 381.0h0M293.4 372.5h0M291.6 367.8h0M298.9 378.2h0M290.5 382.2h0M298.0 359.2h0M302.0 376.8h0M291.2 375.2h0M293.9 368.8h0M304.6 370.8h0M291.3 375.1h0M293.1 373.7h0M297.5 372.1h0M294.9 366.9h0M292.3 375.1h0M304.1 369.8h0M293.6 374.0h0M298.0 370.2h0M294.4 374.6h0M295.3 377.7h0M289.8 374.8h0M300.9 377.2h0M294.3 365.7h0M302.5 376.1h0M290.8 375.1h0M294.1 370.0h0M298.7 372.6h0M296.9 357.8h0M293.2 373.9h0M295.7 371.2h0M290.2 360.8h0M296.7 376.3h0M283.7 369.9h0M297.2 375.0h0M302.9 372.1h0M300.7 376.2h0M300.5 374.0h0M294.4 371.9h0M298.8 376.2h0M294.5 378.2h0M296.0 360.8h0M295.9 373.6h0M300.8 367.3h0M298.6 380.8h0M300.5 378.9h0M291.8 367.7h0M299.7 367.2h0M298.7 378.1h0M285.7 370.0h0M287.9 371.6h0M296.7 362.4h0M293.2 372.7h0M296.3 379.8h0M293.3 370.9h0M303.6 372.8h0M287.3 383.2h0M289.8 378.4h0M291.7 381.4h0M289.8 377.0h0M293.6 380.2h0M296.3 364.1h0M289.9 368.9h0M298.2 364.2h0M302.7 385.9h0M301.7 374.5h0M306.1 372.8h0M301.9 369.2h0M296.3 367.8h0M305.0 357.7h0M299.8 386.0h0M305.4 373.0h0M295.5 373.8h0M286.3 365.6h0M290.8 373.1h0M297.3 375.6h0M299.1 373.0h0M295.4 376.9h0M301.3 368.7h0M290.9 375.3h0M293.1 378.5h0M301.2 376.6h0M296.7 375.6h0M296.9 372.9h0M303.2 367.9h0M301.7 376.6h0M292.6 371.3h0M297.4 368.2h0M288.3 377.7h0M296.4 364.4h0M298.3 370.3h0M288.1 377.8h0M304.0 378.8h0M306.1 371.4h0M298.9 373.8h0M300.9 376.5h0M303.7 373.1h0M295.6 369.1h0M301.5 375.9h0M298.3 374.4h0M289.1 374.0h0M292.1 379.7h0M293.8 375.2h0M301.6 370.9h0M297.0 374.4h0M301.2 384.3h0M294.2 369.4h0M290.3 372.0h0M306.4 369.0h0M309.6 375.4h0M298.3 366.4h0M295.6 376.0h0M302.2 377.7h0M291.2 369.1h0M295.5 368.7h0M289.6 365.1h0M298.8 373.7h0M297.7 367.2h0M294.6 370.0h0M293.4 371.1h0M289.2 369.6h0M292.5 378.1h0M302.4 382.4h0M294.8 361.5h0M302.6 368.9h0M292.3 374.9h0M296.1 367.6h0M294.3 370.5h0M295.3 374.6h0M300.2 381.3h0M286.6 380.0h0M300.1 371.8h0M299.9 374.2h0M296.5 371.4h0M296.9 372.5h0M295.4 366.9h0M299.8 363.5h0M296.8 371.4h0M292.4 378.9h0M297.2 377.7h0M301.1 363.0h0M298.3 372.4h0M296.7 369.9h0M297.5 375.1h0M294.1 367.3h0M294.3 378.6h0M287.5 372.3h0M295.6 376.7h0M301.2 378.4h0M294.6 362.6h0M292.2 372.3h0M300.8 381.9h0M297.3 373.6h0M297.2 379.3h0M298.8 375.8h0M299.9 370.7h0M296.3 375.0h0M292.5 379.4h0M304.9 380.7h0M296.8 381.6h0M292.8 367.3h0M297.4 378.1h0M302.2 365.8h0M289.7 372.7h0M302.8 372.3h0M295.9 377.0h0M306.1 375.2h0M299.7 380.5h0M296.0 370.0h0M302.5 378.2h0M302.6 375.7h0M294.8 373.5h0M297.6 366.8h0M294.1 376.7h0M300.9 375.2h0M289.8 377.9h0M295.7 373.3h0M286.3 372.0h0M299.3 375.7h0M285.9 376.1h0M291.5 377.3h0M297.8 384.1h0M294.8 370.0h0M294.4 384.7h0M291.9 356.9h0M294.3 378.8h0M288.1 368.9h0M298.1 384.7h0M300.4 368.5h0M300.2 379.4h0M296.3 368.0h0M302.4 367.2h0M298.7 378.0h0M301.1 378.3h0M298.4 369.6h0M296.7 386.9h0M292.9 371.7h0M284.0 382.2h0M299.6 367.8h0M296.0 368.1h0M306.0 374.0h0M287.1 367.8h0M300.5 376.0h0M292.0 361.5h0M296.5 374.5h0M292.3 370.3h0M298.2 368.1h0M296.4 374.7h0M300.7 372.2h0M297.2 371.0h0M298.8 378.0h0M302.6 375.1h0M299.0 375.6h0M295.9 380.9h0M302.4 373.1h0M296.0 378.2h0M298.5 371.2h0M295.0 376.9h0M293.4 376.4h0M282.2 370.4h0M299.8 365.0h0M291.0 366.3h0M300.0 368.2h0M305.1 376.6h0M290.3 372.7h0M300.7 371.8h0M296.1 376.1h0M298.7 377.6h0M290.8 381.3h0M296.7 370.2h0M297.3 376.6h0M303.3 377.4h0M306.7 368.2h0M298.0 374.2h0M294.8 368.4h0M307.1 372.2h0M296.0 375.8h0M296.3 364.0h0M297.0 368.6h0M298.8 369.0h0M299.9 374.0h0M293.8 369.4h0M296.0 375.6h0M305.5 368.7h0M304.2 370.6h0M298.7 376.9h0M297.9 375.3h0M295.5 374.3h0M301.4 373.3h0M294.1 379.1h0M297.2 381.1h0M294.4 371.4h0M293.6 369.4h0M296.8 367.7h0M296.6 383.1h0M293.8 368.5h0M296.3 366.1h0M296.9 375.0h0M294.3 379.3h0M293.5 366.6h0M295.9 372.8h0M299.9 365.5h0M301.8 369.6h0M297.5 382.5h0M295.3 374.4h0M296.4 372.0h0M305.7 373.9h0M300.9 375.1h0M292.1 372.9h0M296.3 366.9h0M294.1 366.9h0M294.8 384.7h0M288.6 369.2h0M296.7 380.2h0M290.1 369.5h0M293.8 380.7h0M303.8 377.4h0M301.3 372.3h0M292.5 384.7h0M291.7 368.3h0M292.3 372.2h0M287.6 368.7h0M291.9 369.2h0M295.3 371.5h0M291.6 368.2h0M300.2 371.7h0M296.3 382.3h0M294.1 363.8h0M304.9 366.5h0M300.0 368.2h0M296.9 370.9h0M305.4 379.1h0M302.8 377.5h0M293.2 376.2h0M298.1 374.6h0M294.5 386.8h0M289.8 367.2h0M305.6 367.1h0M303.7 373.4h0M290.5 374.6h0M298.9 372.2h0M288.8 368.8h0M301.7 366.2h0M296.3 372.0h0M295.2 369.6h0M302.6 370.8h0M296.6 367.5h0M295.4 380.9h0M300.9 376.0h0M295.1 383.8h0M300.8 370.6h0M296.6 373.8h0M300.5 372.1h0M299.6 373.6h0M300.4 372.1h0M291.8 372.6h0M305.6 362.5h0M295.8 372.0h0M305.0 377.3h0M293.7 362.7h0M295.3 371.6h0M302.1 385.5h0M308.3 365.1h0M296.2 387.6h0M301.1 382.3h0M312.7 358.4h0M293.0 388.5h0M291.6 364.9h0M306.1 376.8h0M299.0 362.3h0M292.1 372.7h0M294.9 375.5h0M299.8 379.3h0M295.2 366.7h0M294.7 373.7h0M294.9 365.8h0M283.7 377.2h0M312.5 379.7h0M307.9 374.5h0M310.5 383.9h0M295.8 380.5h0M298.1 377.1h0M302.1 384.0h0M304.3 363.1h0M300.2 358.5h0M288.1 373.7h0M296.3 369.8h0M291.1 381.1h0M312.2 370.0h0M301.8 368.3h0M296.7 373.1h0M309.4 372.7h0M296.4 378.4h0M290.5 366.3h0M295.3 360.9h0M293.7 360.1h0M297.4 383.9h0M304.5 362.9h0M295.9 369.9h0M296.4 364.3h0M306.0 381.6h0M299.6 369.0h0M305.5 384.6h0M298.2 367.8h0M285.4 376.5h0M287.0 380.5h0M282.2 382.3h0M307.2 363.5h0M300.7 370.7h0M292.8 373.2h0M288.2 358.0h0M300.2 380.1h0M295.8 377.3h0M299.9 378.4h0M289.5 361.8h0M287.1 375.5h0M311.0 377.7h0M288.5 382.9h0M296.8 369.4h0M308.9 379.8h0M303.2 370.2h0M297.6 370.4h0M295.7 371.1h0M299.4 361.0h0M286.4 370.8h0M313.8 365.9h0M294.4 372.3h0M304.9 384.4h0M306.9 378.9h0M299.6 375.9h0M301.1 371.1h0M303.4 373.0h0M311.1 374.1h0M301.4 380.0h0M308.2 374.7h0M294.4 382.2h0M293.2 357.7h0M297.8 381.1h0M300.6 369.4h0M301.8 374.1h0M314.4 370.3h0M304.5 379.6h0M297.6 373.0h0M314.7 379.4h0M299.9 367.0h0M300.2 375.6h0M301.4 384.7h0M294.1 383.7h0M287.3 370.9h0M298.2 375.2h0M294.3 370.8h0M289.3 373.0h0M298.1 374.2h0M295.2 384.5h0M291.7 379.1h0M281.2 386.7h0M295.5 387.4h0M312.7 363.0h0M304.9 376.7h0M306.6 370.1h0M296.8 360.0h0M306.4 364.6h0M291.0 369.7h0M293.0 388.5h0M301.6 374.8h0M284.3 372.4h0M297.5 373.8h0M299.7 367.5h0M312.0 375.5h0M290.8 373.2h0M300.8 359.9h0M291.2 369.4h0M288.7 373.2h0M307.3 379.8h0M301.6 365.6h0M298.4 374.8h0M319.0 381.6h0M301.8 360.1h0M286.0 367.7h0M295.2 370.6h0M296.5 371.6h0M311.3 369.6h0M289.0 376.4h0M300.8 382.9h0M305.7 377.0h0M289.8 382.9h0M297.8 383.1h0M297.9 376.4h0M293.6 379.7h0M312.3 371.0h0M300.7 372.5h0M297.5 388.7h0M298.4 372.5h0M316.2 360.6h0M302.0 375.1h0M306.3 376.6h0M293.2 369.7h0M293.2 374.7h0M287.8 382.9h0M295.5 369.6h0M290.8 372.5h0M305.8 368.0h0M302.8 376.9h0M296.0 373.0h0M292.2 366.1h0M291.8 389.8h0M299.8 359.4h0M302.9 362.2h0M298.5 390.9h0M287.9 361.3h0M295.1 362.9h0M292.8 369.7h0M302.3 383.4h0M292.0 379.0h0M305.4 376.7h0M298.9 385.3h0M289.7 358.5h0M301.1 376.5h0M299.6 386.4h0M289.1 364.9h0M303.2 376.9h0M303.1 384.6h0M295.9 384.9h0M305.4 373.0h0M286.6 390.1h0M303.9 378.5h0M295.3 383.3h0M288.7 364.9h0M291.7 367.6h0M307.4 367.6h0M292.1 389.3h0M294.0 354.1h0M291.2 358.4h0M290.0 381.0h0M305.6 375.4h0M316.7 348.7h0M309.0 370.7h0M301.6 371.5h0M303.8 384.5h0M294.0 357.7h0M292.6 369.6h0M286.6 383.3h0M309.9 380.7h0M294.0 366.2h0M290.7 371.7h0M291.4 361.5h0M298.8 385.8h0M292.2 370.5h0M297.2 385.0h0M298.5 381.0h0M309.0 366.6h0M286.0 372.9h0M299.7 379.7h0M290.9 377.9h0M293.2 387.2h0M311.5 383.7h0M302.6 377.0h0M293.6 380.1h0M301.4 368.1h0M296.9 369.1h0M306.9 379.3h0M292.7 377.1h0M301.4 364.7h0M295.2 373.5h0M297.2 367.4h0M295.7 369.5h0M291.6 385.3h0M298.0 366.1h0M305.8 368.6h0M291.7 379.1h0M293.6 374.9h0M300.4 375.7h0M290.4 361.9h0M304.8 374.0h0M303.4 371.1h0M291.3 369.5h0M287.5 371.7h0M304.4 381.4h0M305.4 390.3h0M286.4 375.2h0M291.0 386.9h0M296.4 375.2h0M293.8 361.6h0M303.5 374.8h0M305.8 385.2h0M302.3 386.2h0M306.8 366.8h0M296.5 368.0h0M293.2 368.1h0M290.5 369.8h0M304.4 386.7h0M305.0 377.7h0M306.1 382.1h0M294.2 355.4h0M293.6 373.9h0M299.5 373.4h0M308.2 380.3h0M300.3 370.3h0M299.1 384.5h0M289.8 368.5h0M301.0 362.5h0M301.9 360.4h0M288.7 385.1h0M312.7 380.8h0M289.0 367.7h0M305.4 383.8h0M295.3 372.9h0M298.5 373.3h0M290.1 361.9h0M292.1 369.7h0M303.3 375.3h0M295.4 376.1h0M294.1 369.6h0M305.0 382.8h0M303.4 386.6h0M298.6 367.5h0M299.2 377.8h0M312.4 361.4h0M295.6 377.9h0M300.6 366.2h0M300.9 373.1h0M284.7 375.9h0M298.3 383.3h0M304.8 367.8h0M298.9 370.4h0M292.4 377.2h0M291.3 374.1h0M304.3 376.6h0M294.5 372.6h0M282.9 367.6h0M303.2 380.1h0M299.2 375.1h0M300.5 382.1h0M306.4 385.8h0M308.9 371.4h0M302.1 368.2h0M295.6 370.6h0M299.7 357.6h0M295.8 388.4h0M308.8 377.9h0M301.3 369.7h0M309.3 379.5h0M296.5 376.8h0M296.7 373.9h0M289.6 382.8h0M294.4 374.5h0M299.0 373.8h0M306.5 375.9h0M290.6 355.5h0M304.2 368.4h0M317.9 368.2h0M285.2 388.5h0M294.8 379.5h0M297.3 381.1h0M306.0 379.8h0M314.7 372.9h0M308.1 388.5h0M296.8 372.7h0M289.6 362.5h0M296.6 379.8h0M296.8 384.5h0M299.3 375.4h0M289.2 377.6h0M310.6 382.6h0M290.7 387.5h0M303.2 379.5h0M299.0 388.8h0M287.4 377.0h0M297.7 392.3h0M297.3 362.9h0M295.4 382.5h0M304.3 377.0h0M292.9 375.5h0M319.7 363.7h0M307.1 383.6h0M289.0 372.9h0M308.2 369.2h0M299.3 372.6h0M297.8 375.4h0M288.4 366.9h0M284.3 366.7h0M319.9 373.9h0M311.3 391.2h0M292.2 371.0h0M313.8 380.8h0M303.3 372.9h0M303.4 382.9h0M289.4 377.1h0M293.0 375.0h0M287.8 388.1h0M297.4 366.1h0M308.8 369.4h0M305.9 359.6h0M300.8 373.5h0M307.0 382.9h0M281.2 372.4h0M315.1 381.5h0M296.6 368.1h0M285.3 384.2h0M293.6 373.6h0M291.3 370.5h0M297.9 388.4h0M299.8 374.4h0M308.3 375.6h0M312.5 380.5h0M287.8 375.6h0M310.2 364.4h0M308.3 376.9h0M306.1 378.6h0M311.6 377.8h0M284.6 372.6h0M303.5 389.9h0M288.0 368.4h0M318.2 375.6h0M288.4 376.3h0M286.1 365.4h0M307.1 364.5h0M302.6 380.1h0M297.3 380.2h0M298.3 375.7h0M302.5 361.0h0M312.5 372.1h0M290.6 376.6h0M292.0 379.8h0M291.9 384.6h0M296.4 378.4h0M297.1 382.7h0M285.5 388.6h0M299.7 354.8h0M285.7 382.9h0M294.2 370.8h0M294.8 378.6h0M294.8 376.3h0M310.3 365.9h0M311.7 366.9h0M306.7 378.2h0M311.2 373.0h0M294.5 380.7h0M309.7 371.3h0M299.1 372.3h0M299.5 392.0h0M285.0 368.1h0M291.5 379.2h0M295.6 384.0h0M300.3 363.4h0M295.9 366.3h0M289.4 377.9h0M286.6 384.2h0M297.1 386.0h0M286.4 379.2h0M286.4 383.3h0M296.1 364.7h0M298.6 370.9h0M289.5 386.7h0M299.6 372.4h0M304.4 359.8h0M293.3 372.9h0M293.6 361.1h0M305.1 386.9h0M287.2 377.1h0M303.5 375.9h0M291.7 371.1h0M295.7 379.1h0M295.3 365.1h0M282.9 363.4h0M298.0 369.7h0M289.7 362.7h0M294.9 384.8h0M309.4 372.4h0M295.7 363.8h0M301.4 383.8h0M298.1 380.1h0M300.6 381.1h0M290.3 373.9h0M282.2 382.0h0M285.2 385.5h0M293.3 380.0h0M303.7 360.9h0M297.7 357.8h0M311.4 362.0h0M297.9 376.6h0M298.7 361.7h0M298.8 365.2h0M281.4 374.6h0M302.2 366.9h0M287.0 363.5h0M293.6 382.4h0M318.1 378.4h0M285.9 380.9h0M298.1 382.0h0M299.6 386.4h0M298.2 373.9h0M297.0 372.6h0M292.0 359.4h0M314.9 372.1h0M287.8 383.0h0M310.4 379.8h0M301.9 386.6h0M290.1 383.3h0M288.9 384.1h0M294.8 378.6h0M320.8 375.3h0M301.4 370.9h0M287.7 373.9h0M299.1 366.0h0M291.4 377.4h0M310.5 373.4h0M299.6 356.9h0M308.3 351.2h0M298.5 367.9h0M315.3 370.1h0M300.7 371.5h0M299.5 385.0h0M287.8 368.7h0M293.2 363.3h0M300.5 377.2h0M292.5 382.5h0M319.4 387.9h0M296.9 365.4h0M290.1 371.9h0M305.9 370.4h0M292.2 386.7h0M300.7 379.9h0M296.2 374.2h0M290.5 380.1h0M309.5 371.0h0M297.8 372.3h0M306.8 373.7h0M293.9 369.7h0M284.2 371.8h0M285.8 376.9h0M292.3 376.0h0M295.3 386.4h0M297.5 381.2h0M301.6 373.3h0M285.8 355.4h0M299.1 361.4h0M286.0 369.7h0M290.8 370.7h0M320.1 362.9h0M308.5 370.7h0M293.7 374.8h0M313.1 368.5h0M309.8 372.7h0M305.0 373.1h0M310.2 367.9h0M294.8 366.6h0M295.9 372.7h0M289.3 376.1h0M302.3 365.1h0M285.7 356.6h0M292.5 365.8h0M301.1 378.0h0M292.5 360.2h0M300.1 381.6h0M313.4 368.9h0M288.1 374.8h0M309.6 367.3h0M290.9 378.6h0M288.6 374.2h0M299.0 376.9h0M306.3 357.4h0M290.6 379.8h0M290.4 359.6h0M293.0 370.9h0M290.5 378.1h0M298.7 372.1h0M290.6 377.9h0M294.7 375.1h0M300.2 374.5h0M293.2 366.9h0M307.4 382.1h0M290.9 383.1h0M290.1 369.2h0M315.3 366.2h0M310.6 375.4h0M297.6 367.4h0M304.5 374.9h0M300.1 380.5h0M292.4 379.3h0M303.1 386.1h0M299.7 377.6h0M308.5 365.0h0M304.3 378.2h0M298.5 389.6h0M290.8 370.7h0M293.1 366.1h0M293.4 385.3h0M285.1 372.7h0M291.8 379.5h0M304.0 382.7h0M283.3 365.5h0M293.6 370.7h0M291.8 378.1h0M300.5 379.1h0M296.5 369.6h0M297.4 378.3h0M286.9 358.8h0M302.1 376.6h0M288.9 376.5h0M305.2 373.7h0M298.9 361.6h0M293.5 372.8h0M310.4 364.8h0M293.4 385.7h0M306.2 371.3h0M297.9 371.9h0M297.0 372.7h0M306.0 378.1h0M300.9 374.3h0M296.9 378.1h0M295.9 366.0h0M298.9 382.8h0M297.8 369.6h0M294.1 379.9h0M287.7 375.6h0M296.0 373.1h0M294.8 361.5h0M307.9 364.1h0M301.0 371.8h0M307.3 385.1h0M312.6 370.2h0M296.0 374.1h0M289.4 384.0h0M304.4 369.0h0M291.6 376.2h0M294.7 376.0h0M310.0 368.7h0M302.0 375.6h0M306.9 382.3h0M284.9 382.3h0M297.3 370.9h0M285.5 376.6h0M298.8 371.4h0M300.7 367.7h0M311.4 380.4h0M290.6 349.8h0M295.8 372.4h0M312.1 362.3h0M301.2 373.4h0M293.0 362.9h0M297.4 365.5h0M289.7 384.1h0M309.3 369.1h0M286.9 373.6h0M300.3 371.1h0M301.9 380.5h0M296.2 383.7h0M294.6 381.2h0M294.6 378.2h0M306.2 378.3h0M301.1 363.9h0M296.3 384.5h0M287.2 369.0h0M298.5 366.3h0M301.8 370.6h0M296.7 367.1h0M310.0 377.1h0M319.5 384.2h0M295.4 372.9h0M286.8 368.7h0M281.3 371.4h0M304.8 364.0h0M302.2 367.6h0M295.1 390.2h0M296.6 367.3h0M298.6 369.9h0M293.2 378.9h0M307.4 375.8h0M302.7 380.0h0M296.0 366.5h0M282.3 364.8h0M309.4 384.6h0M292.7 368.1h0M287.7 372.9h0M308.7 375.4h0M301.5 358.4h0M282.1 368.3h0M293.5 378.0h0M285.7 371.1h0M295.7 355.1h0M320.6 380.2h0M323.9 352.5h0M296.7 370.3h0M304.3 367.9h0M305.1 368.6h0M296.0 373.6h0M283.8 381.5h0M306.7 366.5h0M295.5 368.6h0M301.2 379.8h0M303.4 377.8h0M289.8 379.6h0M312.3 376.4h0M297.8 371.6h0M299.1 369.6h0M293.2 369.7h0M303.5 381.1h0M306.2 386.0h0M292.1 390.0h0M302.3 365.1h0M293.2 371.7h0M286.0 373.7h0M294.1 372.3h0M302.6 364.3h0M302.1 391.7h0M306.8 386.2h0M291.0 372.3h0M294.4 369.9h0M297.7 373.6h0M302.7 363.7h0M296.0 370.9h0M288.5 380.1h0M283.1 387.4h0M307.7 381.0h0M306.7 384.4h0M291.1 364.9h0M310.4 346.8h0M296.5 385.1h0M301.2 375.2h0M308.5 373.0h0M292.8 387.5h0M290.1 365.7h0M281.4 365.7h0M299.9 367.5h0M301.2 387.1h0M304.9 381.5h0M302.6 358.9h0M298.1 387.5h0M307.5 373.8h0M287.9 377.2h0M300.7 367.3h0M301.8 389.3h0M296.0 377.3h0M312.7 384.6h0M301.1 365.4h0M309.3 379.5h0M305.2 374.4h0M295.5 371.8h0M314.6 366.9h0M307.2 367.8h0M297.3 363.9h0M296.1 368.1h0M287.8 373.5h0M295.8 378.5h0M295.0 360.7h0M299.0 365.0h0M293.3 368.6h0M302.3 360.0h0M296.4 371.3h0M282.9 371.5h0M292.6 372.1h0M289.0 377.1h0M285.6 381.5h0M294.9 380.4h0M305.4 376.0h0M287.0 378.6h0M295.7 365.8h0M324.2 379.1h0M291.8 378.4h0M299.6 392.0h0M293.4 371.8h0M304.9 365.4h0M310.2 376.1h0M295.7 369.9h0M307.9 366.2h0M287.4 385.1h0M299.1 389.8h0M285.7 376.8h0M298.9 368.2h0M291.6 375.8h0M299.3 373.2h0M287.1 362.0h0M299.3 380.7h0M298.2 376.6h0M292.0 384.2h0M289.9 369.0h0M286.5 373.5h0M293.6 372.7h0M300.8 359.3h0M298.6 356.2h0M308.7 364.1h0M294.3 370.7h0M299.9 360.6h0M304.7 377.2h0M301.9 369.8h0M300.7 374.3h0M297.9 375.7h0M314.6 374.4h0M296.5 374.6h0M293.7 372.5h0M302.6 377.3h0M312.0 380.6h0M310.0 371.6h0M297.5 370.0h0M304.7 370.4h0M301.7 376.4h0M297.9 370.7h0M303.1 370.6h0M302.8 361.1h0M298.5 390.0h0M312.8 363.4h0M293.8 388.0h0M309.8 380.5h0M316.2 382.5h0M316.3 376.0h0M299.7 378.0h0M295.6 376.3h0M282.8 378.9h0M296.7 380.9h0M319.3 386.7h0M283.1 365.5h0M283.3 378.0h0M304.8 387.5h0M302.8 385.7h0M296.7 376.6h0M300.3 376.3h0M283.5 376.0h0M305.9 354.9h0M285.3 381.3h0M307.5 360.4h0M290.9 379.6h0M282.7 373.2h0M294.1 379.4h0M296.4 375.2h0M296.1 369.5h0M291.9 373.3h0M295.3 377.0h0M305.1 367.2h0M289.0 380.1h0M295.3 383.5h0M301.4 383.2h0M297.0 384.1h0M305.0 385.1h0M311.3 380.1h0M294.0 385.2h0M299.2 374.6h0M294.1 386.2h0M303.3 390.6h0M287.1 371.1h0M309.2 361.8h0M309.4 384.0h0M292.5 389.7h0M288.0 381.8h0M292.8 376.2h0M294.8 368.7h0M288.0 366.0h0M284.7 386.5h0M292.5 382.6h0M305.7 376.9h0M300.8 364.7h0M309.3 369.7h0M291.7 368.9h0M294.0 371.6h0M294.2 349.6h0M298.5 376.1h0M301.3 387.5h0M313.0 369.5h0M303.5 374.4h0M298.6 376.5h0M309.4 365.6h0M290.1 377.9h0M285.3 367.2h0M303.2 370.4h0M298.7 376.3h0M298.2 373.7h0M305.6 375.0h0M294.1 366.3h0M296.1 380.4h0M300.6 364.9h0M303.0 381.4h0M306.0 370.1h0M298.2 364.0h0M299.5 373.4h0M308.2 369.6h0M283.0 372.9h0M296.7 380.9h0M320.0 381.0h0M294.2 378.3h0M282.8 371.8h0M311.7 361.1h0M292.1 372.3h0M295.6 371.4h0M295.6 373.1h0M303.7 369.7h0M304.1 369.7h0M296.0 381.1h0M307.1 362.7h0M289.0 374.3h0M303.2 385.0h0M291.5 367.6h0M303.4 365.7h0M291.1 372.3h0M293.1 371.2h0M310.4 376.4h0M287.0 385.8h0M286.5 373.1h0M302.3 379.0h0M294.7 369.2h0M293.2 370.0h0M295.8 376.7h0M316.2 368.4h0M287.7 384.5h0M294.6 370.7h0M298.6 372.8h0M288.6 365.2h0M296.7 370.4h0M301.4 365.6h0M288.9 370.0h0M307.1 358.9h0M286.8 374.1h0M295.8 389.2h0M300.1 358.0h0M325.7 389.1h0M281.3 373.1h0M299.6 381.8h0M319.8 365.5h0M291.7 391.6h0M306.9 364.9h0M299.0 373.5h0M284.2 387.6h0M300.6 363.1h0M289.0 354.0h0M297.8 373.5h0M283.5 367.5h0M303.6 365.7h0M295.5 361.5h0M308.6 386.3h0M301.7 384.7h0M293.9 362.3h0M294.9 373.2h0M293.2 370.2h0M321.5 383.7h0M296.5 366.9h0M296.9 388.2h0M290.4 374.2h0M292.7 367.3h0M302.5 373.3h0M291.5 369.1h0M292.1 375.4h0M293.8 369.9h0M298.6 374.9h0M292.6 386.9h0M295.3 365.7h0M290.3 359.5h0M308.1 385.5h0M297.8 379.4h0M294.2 370.2h0M299.6 373.4h0M296.6 383.7h0M282.9 350.4h0M295.4 385.2h0M311.9 372.6h0M301.5 380.0h0M307.6 373.6h0M283.6 368.7h0M290.7 383.7h0M309.2 351.3h0M288.0 374.4h0M289.9 381.0h0M306.9 360.6h0M294.7 356.3h0M295.2 374.9h0M300.4 382.9h0M297.8 384.4h0M294.3 368.1h0M299.3 377.1h0M290.6 361.7h0M296.6 389.3h0M302.9 369.0h0M287.5 385.2h0M295.1 371.7h0M286.7 371.2h0M303.7 388.3h0M302.5 366.4h0M305.5 385.4h0M306.3 370.9h0M306.2 366.3h0M303.5 366.7h0M290.0 383.9h0M305.4 373.3h0M288.8 370.9h0M318.0 360.8h0M299.6 384.3h0M302.3 383.2h0M285.9 376.9h0M306.7 380.9h0M307.6 345.5h0M282.9 369.3h0M292.0 375.4h0M292.8 374.9h0M291.2 369.0h0M309.4 376.1h0M316.5 367.6h0M287.4 368.2h0M306.4 363.1h0M294.6 375.2h0M309.3 367.7h0M293.1 386.2h0M307.9 373.6h0M290.1 373.7h0M307.7 360.5h0M292.4 369.4h0M307.2 382.6h0M302.2 378.9h0M293.2 374.5h0M290.1 372.5h0M295.5 374.6h0M307.4 377.5h0M296.9 371.1h0M291.0 352.1h0M326.9 391.3h0M282.8 384.0h0M294.9 372.6h0M301.8 386.4h0M287.6 362.5h0M296.9 385.3h0M293.2 375.7h0M283.6 381.8h0M301.1 371.0h0M286.7 375.3h0M290.2 379.1h0M308.1 383.2h0M286.9 378.5h0M302.4 377.9h0M307.6 368.8h0M305.9 389.1h0M301.2 375.8h0M294.8 372.0h0M284.3 371.1h0M298.3 363.4h0M301.0 367.5h0M292.4 360.6h0M288.1 375.8h0M304.8 373.3h0M287.4 375.9h0M300.9 363.0h0M292.6 370.3h0M281.7 368.3h0M311.5 382.7h0M302.4 360.9h0M301.8 360.6h0M284.2 385.3h0M295.7 377.2h0M299.4 360.2h0M290.2 385.9h0M311.7 387.1h0M303.2 355.8h0M282.7 366.4h0M285.3 371.6h0M302.0 360.1h0M290.4 389.2h0M290.7 367.9h0M288.6 376.4h0M283.4 381.1h0M288.6 379.4h0M287.8 377.6h0M293.8 370.5h0M293.2 375.9h0M290.8 354.0h0M307.5 382.8h0M292.3 368.5h0M295.9 369.4h0M290.0 370.3h0M290.3 361.8h0M295.8 363.3h0M284.3 358.1h0M294.9 378.1h0M281.4 384.4h0M299.4 374.6h0M282.2 363.9h0M302.2 385.5h0M305.4 371.2h0M281.7 359.9h0M302.4 357.4h0M292.6 375.6h0M306.7 386.7h0M291.4 370.6h0M293.7 368.4h0M293.6 371.6h0M307.5 366.5h0M303.1 376.2h0M297.0 367.6h0M291.7 382.2h0M294.0 365.4h0M304.5 380.2h0M303.5 377.0h0M311.4 370.6h0M290.3 371.3h0M291.1 388.7h0M294.3 366.8h0M292.1 384.4h0M307.1 382.8h0M316.6 371.0h0M299.5 388.2h0M305.4 376.1h0M290.3 375.1h0M296.5 374.1h0M303.6 381.3h0M299.4 370.4h0M295.4 372.3h0M298.6 384.1h0M302.9 372.9h0M301.7 364.8h0M314.7 379.0h0M289.0 369.0h0M290.8 378.8h0M303.5 367.2h0M298.0 365.3h0M303.7 371.6h0M283.2 372.3h0M294.1 374.4h0M301.8 363.3h0M295.6 389.1h0M292.4 379.9h0M298.5 375.2h0M310.9 376.0h0M310.3 382.1h0M298.5 364.9h0M288.3 378.4h0M302.0 363.4h0M296.4 382.6h0M306.9 369.2h0M288.8 372.1h0M304.7 387.4h0M287.9 382.6h0M298.9 361.8h0M302.3 367.8h0M295.3 375.6h0M301.8 371.9h0M290.7 381.0h0M305.6 367.9h0M291.5 357.4h0M289.7 365.9h0M295.0 372.3h0M295.6 378.8h0M288.5 380.5h0M303.2 384.9h0M294.9 376.0h0M301.5 372.2h0M282.6 380.4h0M284.2 373.1h0M293.6 369.8h0M287.1 369.8h0M294.8 382.1h0M301.1 387.0h0M306.1 385.5h0M309.3 359.9h0M303.1 383.6h0M289.7 364.1h0M301.0 370.9h0M291.3 379.1h0M300.9 362.2h0M286.6 363.1h0M308.2 367.3h0M299.8 388.8h0M293.5 383.4h0M283.8 366.0h0M298.6 375.2h0M291.3 375.1h0M298.3 376.7h0M289.6 367.7h0M291.2 386.6h0M301.7 370.6h0M309.4 381.2h0M284.7 359.1h0M294.3 377.4h0M299.6 375.2h0M294.7 385.9h0M292.1 351.1h0M315.6 378.8h0M288.5 381.1h0M299.3 371.6h0M291.7 385.5h0M304.1 381.1h0M294.2 385.8h0M287.4 377.8h0M311.0 384.8h0M293.6 379.2h0M290.6 367.9h0M288.5 364.7h0M305.7 384.3h0M296.3 379.2h0M293.3 368.1h0M284.2 374.2h0M288.0 386.9h0M299.2 358.9h0M295.9 366.0h0M288.2 381.2h0M298.1 363.6h0M320.2 365.2h0M289.3 375.4h0M303.0 374.1h0M291.8 353.5h0M284.2 383.0h0M301.2 373.8h0M294.0 369.9h0M287.4 363.7h0M284.3 384.5h0M295.0 376.3h0M296.9 377.5h0M305.0 377.8h0M284.7 381.3h0M308.7 389.1h0M299.1 364.6h0M294.4 373.3h0M299.1 370.0h0M290.8 388.8h0M295.5 371.4h0M310.9 359.8h0M290.9 373.7h0M303.4 367.5h0M288.0 367.4h0M295.9 370.0h0M304.8 362.4h0M285.3 356.9h0M299.1 391.1h0M285.8 365.7h0M292.3 379.4h0M304.0 385.7h0M302.5 358.6h0M287.9 370.0h0M294.9 376.4h0M297.8 366.5h0M282.0 377.9h0M299.9 363.1h0M308.3 368.1h0M307.3 372.9h0M290.8 377.7h0M292.4 374.3h0M287.7 368.0h0M291.6 370.7h0M293.8 355.3h0M296.8 370.3h0M287.7 371.4h0M303.5 376.3h0M304.0 379.0h0M290.6 377.0h0M293.9 368.0h0M295.2 359.3h0M281.3 372.4h0M297.3 366.9h0M302.2 369.1h0M313.6 373.9h0M297.8 376.1h0M293.5 385.3h0M294.8 372.6h0M301.6 358.7h0M303.3 379.1h0M288.4 382.1h0M297.8 359.4h0M302.0 379.3h0M308.5 369.1h0M294.2 375.4h0M304.0 377.4h0M295.7 379.1h0M293.9 384.0h0M295.5 373.8h0M298.7 373.9h0M293.8 364.5h0M286.1 371.5h0M289.9 370.8h0M287.4 380.7h0M303.0 383.7h0M287.5 362.3h0M309.8 384.8h0M297.3 363.4h0M307.9 368.0h0M292.9 383.7h0M293.5 371.6h0M303.2 380.2h0M302.8 367.3h0M287.2 375.1h0M318.3 374.1h0M301.3 374.7h0M284.9 380.9h0M294.6 370.0h0M304.5 371.1h0M298.2 362.3h0M303.9 372.7h0M317.5 369.6h0M304.6 381.7h0M314.3 379.8h0M302.4 367.6h0M290.3 377.8h0M309.9 385.5h0M290.0 372.1h0M304.9 363.6h0M288.7 378.8h0M290.0 380.1h0M300.0 366.9h0M308.4 376.6h0M297.1 357.2h0M313.5 378.3h0M304.3 377.4h0M290.7 367.0h0M290.9 366.4h0M297.2 372.4h0M291.8 371.9h0M295.7 387.9h0M303.5 371.8h0M298.9 372.5h0M305.3 372.4h0M290.4 359.8h0M288.8 369.6h0M284.0 362.0h0M292.6 354.6h0M297.2 364.0h0M294.8 376.2h0M296.7 355.4h0M315.0 360.2h0M286.8 382.7h0M294.2 362.2h0M292.3 373.8h0M288.5 376.6h0M308.9 364.6h0M296.4 359.0h0M308.0 387.4h0M286.6 369.0h0M313.6 378.5h0M317.1 367.2h0M288.9 377.1h0M296.6 362.4h0M295.6 361.8h0M301.8 364.7h0M285.0 368.4h0M301.0 368.4h0M303.3 371.0h0M291.4 377.7h0M290.6 382.2h0M293.2 368.1h0M303.7 379.8h0M291.2 385.5h0M286.4 389.3h0M302.3 356.4h0M300.1 389.1h0M303.4 358.4h0M297.2 386.4h0M306.3 373.8h0M301.4 377.0h0M298.6 382.2h0M303.8 380.0h0M297.1 369.1h0M310.0 368.5h0M292.7 381.5h0M303.1 383.0h0M285.8 380.7h0M296.8 370.6h0M291.9 374.0h0M287.8 382.2h0M285.1 381.3h0M298.8 383.9h0M300.7 375.2h0M291.1 367.7h0M285.7 376.5h0M288.9 377.9h0M303.7 369.3h0M286.0 377.9h0M307.1 366.6h0M281.8 376.2h0M299.4 368.6h0M307.8 384.4h0M293.0 376.3h0M290.0 362.4h0M284.1 363.1h0M305.0 380.1h0M295.7 372.6h0M292.7 376.7h0M293.1 360.1h0M299.1 360.7h0M297.2 375.0h0M307.5 372.1h0M304.5 366.9h0M292.1 380.9h0M296.2 370.1h0M294.1 379.0h0M296.1 388.5h0M303.7 376.9h0M298.9 375.1h0M283.9 368.7h0M296.3 384.7h0M296.0 361.2h0M300.2 364.3h0M297.3 373.8h0M296.2 361.0h0M306.1 382.6h0M287.1 368.4h0M316.5 378.6h0M291.8 371.2h0M287.6 371.7h0M304.0 374.1h0M306.6 356.7h0M308.2 364.4h0M310.1 369.8h0M297.5 381.1h0M300.3 380.3h0M296.9 364.8h0M292.1 381.8h0M311.4 384.9h0M313.3 380.6h0M294.9 362.1h0M292.6 364.5h0M281.8 371.6h0M290.9 365.3h0M292.3 374.4h0M296.8 378.5h0M288.0 373.8h0M302.9 377.5h0M312.5 380.7h0M295.8 368.0h0M304.7 384.4h0M286.5 370.9h0M284.1 366.6h0M297.3 376.4h0M294.9 370.8h0M291.3 375.0h0M311.8 373.4h0M310.5 379.5h0M302.9 382.0h0M296.4 366.6h0M294.1 363.2h0M305.0 388.0h0M295.0 367.9h0M310.5 360.3h0M308.3 357.2h0M291.7 373.6h0M304.0 368.2h0M311.3 357.8h0M303.1 365.6h0M288.7 364.6h0M294.8 382.7h0M294.1 376.0h0M298.3 373.8h0M297.5 362.7h0M294.1 372.3h0M305.0 379.7h0M309.5 375.3h0M292.2 383.2h0M284.0 374.6h0M300.7 380.0h0M297.4 377.9h0M301.2 368.9h0M291.2 385.6h0M300.0 377.1h0M289.2 381.1h0M307.2 364.5h0M312.6 364.3h0M289.1 372.3h0M293.1 379.3h0M292.8 377.5h0M299.3 384.7h0M297.7 379.0h0M302.0 363.9h0M322.0 382.2h0M292.5 368.1h0M294.2 367.4h0M301.5 374.4h0M304.7 383.0h0M284.7 377.6h0M290.0 386.7h0M302.2 372.0h0M305.2 376.8h0M308.9 369.3h0M301.6 370.1h0M291.2 385.7h0M302.7 377.8h0M297.0 377.8h0M318.8 366.8h0M312.2 372.3h0M304.7 368.1h0M301.4 373.7h0M296.9 379.8h0M292.7 380.4h0M289.1 386.8h0M283.8 364.5h0M316.1 370.1h0M306.2 387.6h0M301.1 368.4h0M295.3 360.3h0M298.9 366.6h0M308.3 366.1h0M288.8 373.0h0M300.3 363.4h0M295.7 382.1h0M298.2 373.4h0M290.9 371.7h0M301.2 382.0h0M298.6 371.5h0M281.1 363.0h0M308.8 374.1h0M290.0 374.8h0M308.3 378.5h0M289.1 372.2h0M293.2 372.0h0M313.8 378.3h0M299.8 350.7h0M311.6 363.0h0M300.6 368.7h0M307.1 371.5h0M296.5 386.6h0M314.1 379.4h0M304.2 377.4h0M293.0 379.9h0M294.8 387.1h0M289.6 365.3h0M303.5 369.6h0M302.8 375.3h0M291.8 376.5h0M306.4 357.2h0M292.9 377.7h0M314.5 359.9h0M305.6 380.6h0M312.5 381.3h0M291.7 354.0h0M289.2 378.3h0M281.7 375.6h0M304.0 368.5h0M288.1 382.2h0M310.3 391.5h0M299.5 378.2h0M305.1 364.3h0M286.7 361.2h0M292.9 363.6h0M299.9 364.9h0M304.9 383.7h0M286.7 376.4h0M301.3 373.6h0M290.8 381.5h0M305.5 374.0h0M296.2 374.2h0M295.6 366.5h0M302.2 368.4h0M308.7 374.1h0M296.1 363.6h0M309.3 388.4h0M289.3 375.0h0M300.8 369.1h0M288.2 382.4h0M300.2 364.6h0M290.1 383.1h0M298.6 374.6h0M303.8 390.4h0M289.6 369.0h0M282.5 370.4h0M296.7 366.5h0M302.9 362.9h0M300.3 376.1h0M290.1 364.6h0M305.7 376.7h0M295.6 368.2h0M305.1 383.1h0M290.3 351.5h0M302.2 377.5h0M308.8 374.3h0M292.3 373.9h0M295.6 368.3h0M303.8 389.2h0M302.9 370.2h0M301.4 377.6h0M297.1 371.5h0M284.2 370.7h0M298.1 374.6h0M286.6 379.8h0M298.9 364.0h0M311.0 361.5h0M315.2 377.3h0M302.1 366.3h0M290.6 367.3h0M295.4 379.5h0M306.1 373.7h0M304.0 377.4h0M291.9 372.6h0M308.9 377.4h0M304.6 374.6h0M302.9 364.0h0M295.0 375.7h0M298.1 370.8h0M291.8 371.7h0M299.8 376.3h0M292.2 369.0h0M308.6 364.5h0M298.4 384.2h0M300.0 390.0h0M301.0 370.8h0M301.0 383.9h0M285.4 377.2h0M309.5 368.2h0M299.0 366.5h0M293.2 371.4h0M289.4 370.1h0M292.0 370.9h0M292.6 372.7h0M298.2 363.9h0M290.4 381.4h0M299.0 363.9h0M299.4 364.4h0M291.9 381.9h0M317.8 380.5h0M297.0 386.6h0M301.0 375.0h0M299.0 368.2h0M296.6 383.9h0M304.0 373.0h0M310.3 372.7h0M297.4 366.4h0M290.3 377.4h0M302.9 353.1h0M299.4 356.2h0M296.3 381.5h0M300.8 360.2h0M284.5 379.8h0M288.8 371.4h0M293.1 363.6h0M303.1 390.9h0M296.1 369.9h0M292.5 364.0h0M308.4 384.8h0M297.9 348.8h0M288.5 362.3h0M301.4 367.7h0M301.6 356.0h0M299.7 381.1h0M300.0 382.8h0M289.7 373.3h0M296.8 370.2h0M287.1 360.1h0M290.2 377.9h0M289.5 367.7h0M290.1 379.2h0M294.5 382.8h0M295.5 374.2h0M290.4 355.2h0M307.1 365.6h0M293.4 385.8h0M311.1 376.2h0M306.3 386.3h0M286.6 354.2h0M305.3 372.8h0M285.0 372.3h0M310.2 359.5h0M300.2 368.2h0M288.5 382.4h0M293.7 369.1h0M285.2 376.7h0M306.9 384.3h0M286.1 364.3h0M295.1 376.4h0M301.5 383.0h0M297.2 367.8h0M299.4 385.3h0M294.9 373.0h0M303.5 383.6h0M288.8 382.0h0M302.1 376.2h0M286.4 371.3h0M298.6 368.1h0M286.9 375.3h0M295.2 375.7h0M302.2 386.2h0M308.0 373.1h0M281.0 377.0h0M290.2 388.7h0M288.3 376.7h0M307.7 377.9h0M289.3 388.0h0M303.2 374.7h0M292.4 377.4h0M284.2 380.5h0M297.9 372.8h0M286.8 364.1h0M303.4 361.0h0M304.3 372.1h0M308.7 330.9h0M307.9 328.5h0M311.7 356.1h0M307.3 333.8h0M298.0 329.1h0M293.2 338.5h0M298.8 343.8h0M300.3 323.6h0M297.5 352.8h0M307.4 354.3h0M297.2 337.4h0M305.4 355.4h0M306.6 325.0h0M291.5 337.9h0M299.4 342.9h0M309.4 345.9h0M307.0 359.7h0M302.6 340.8h0M295.3 332.0h0M297.7 347.8h0M302.4 347.0h0M309.5 350.7h0M304.9 340.7h0M301.4 347.2h0M303.3 337.7h0M306.6 352.2h0M291.4 336.5h0M296.0 337.0h0M302.1 359.9h0M309.2 335.2h0M308.4 345.0h0M297.2 352.3h0M302.0 340.9h0M297.5 356.6h0M299.6 337.5h0M302.8 358.1h0M299.7 325.0h0M298.5 327.7h0M294.9 345.8h0M292.4 363.3h0M300.7 365.6h0M303.0 334.0h0M305.6 344.6h0M297.0 338.7h0M297.6 317.6h0M309.5 354.2h0M304.4 340.2h0M307.2 362.5h0M298.5 348.5h0M297.6 338.2h0M295.0 336.1h0M307.8 342.6h0M295.1 350.8h0M291.5 338.7h0M297.4 380.8h0M309.5 347.6h0M302.0 330.4h0M303.3 346.0h0M302.6 359.6h0M301.6 350.5h0M300.9 340.7h0M293.5 336.5h0M311.8 334.9h0M301.0 329.8h0M309.1 338.4h0M292.5 348.3h0M305.1 337.7h0M294.8 365.8h0M294.1 349.8h0M303.5 339.3h0M308.0 344.6h0M310.1 363.7h0M309.8 323.2h0M300.3 348.0h0M306.6 379.2h0M298.3 357.8h0M298.6 333.4h0M303.3 346.6h0M301.2 342.0h0M307.0 380.6h0M290.9 336.4h0M308.7 341.5h0M298.4 340.7h0M310.7 326.8h0M308.7 302.8h0M295.0 341.9h0M301.6 351.6h0M305.9 339.4h0M297.1 351.3h0M297.5 354.6h0M300.1 353.9h0M306.3 323.3h0M307.3 364.3h0M299.4 356.0h0M306.8 355.2h0M310.7 345.1h0M307.4 344.9h0M297.5 338.0h0M296.9 350.3h0M303.6 356.8h0M306.8 337.7h0M304.5 355.4h0M299.6 339.0h0M296.4 352.6h0M309.5 343.1h0M301.0 356.0h0M313.1 369.6h0M295.1 347.9h0M299.9 338.7h0M298.1 339.5h0M312.9 353.0h0M309.3 338.6h0M299.0 357.5h0M290.4 348.8h0M308.8 356.6h0M302.7 337.9h0M295.2 332.7h0M293.0 335.5h0M304.3 350.1h0M300.7 334.9h0M302.8 353.9h0M304.3 318.7h0M299.7 336.5h0M300.3 342.9h0M305.9 321.6h0M301.3 337.2h0M300.3 325.8h0M305.8 344.1h0M290.2 341.9h0M309.4 354.5h0M304.6 334.2h0M297.4 324.2h0M300.9 338.1h0M309.3 346.7h0M305.3 346.2h0M291.4 347.2h0M295.9 360.7h0M303.1 340.5h0M312.6 342.3h0M306.5 334.2h0M300.8 337.4h0M305.4 358.4h0M302.1 349.7h0M300.2 311.6h0M304.3 360.5h0M289.3 319.6h0M308.0 339.8h0M305.2 357.5h0M299.4 346.7h0M296.9 352.2h0M294.8 356.2h0M303.6 348.9h0M302.9 329.0h0M303.0 349.8h0M312.2 336.1h0M288.9 314.1h0M297.7 341.3h0M297.4 352.1h0M307.6 346.6h0M300.5 345.2h0M296.4 367.3h0M303.2 348.6h0M304.4 356.8h0M311.6 349.3h0M303.5 366.2h0M299.4 340.4h0M299.0 360.2h0M297.2 368.4h0M304.9 340.3h0M306.9 358.5h0M300.7 327.8h0M301.2 349.2h0M310.2 354.6h0M302.6 334.5h0M305.0 322.2h0M295.5 345.8h0M298.4 341.0h0M289.3 347.5h0M293.9 348.9h0M304.2 355.9h0M309.4 365.2h0M300.4 350.7h0M294.9 325.6h0M302.6 353.8h0M308.8 350.2h0M301.0 347.1h0M307.5 365.5h0M301.6 348.6h0M294.7 340.7h0M296.6 351.2h0M300.5 324.8h0M315.6 357.5h0M305.5 346.1h0M300.6 366.9h0M303.7 354.1h0M303.3 350.1h0M299.4 347.7h0M301.4 330.2h0M300.5 344.3h0M306.4 349.2h0M311.3 358.0h0M309.9 350.9h0M300.1 354.3h0M305.3 354.2h0M297.7 338.6h0M295.5 349.3h0M302.5 342.6h0M305.6 329.4h0M301.6 326.1h0M306.9 356.0h0M306.9 363.8h0M306.5 363.6h0M301.1 334.6h0M293.9 364.7h0M312.7 365.4h0M299.2 335.7h0M306.4 351.7h0M304.9 367.3h0M300.0 346.7h0M312.9 360.6h0M306.0 337.5h0M301.9 341.2h0M299.5 356.7h0M296.3 343.4h0M294.5 347.1h0M305.4 346.7h0M299.4 332.4h0M299.3 364.6h0M305.0 343.8h0M299.9 341.3h0M305.9 339.8h0M298.2 346.3h0M298.9 333.6h0M307.5 356.6h0M298.0 341.1h0M305.6 355.6h0M305.0 334.3h0M302.1 332.5h0M292.2 333.7h0M294.2 348.4h0M338.6 331.2h0M343.5 343.5h0M340.8 331.1h0M343.6 333.4h0M340.7 332.1h0M343.4 335.1h0M339.3 328.5h0M339.1 334.8h0M342.9 336.0h0M340.3 339.1h0M344.0 328.7h0M340.0 338.3h0M342.7 343.8h0M339.7 337.7h0M337.6 337.2h0M344.8 320.2h0M341.1 340.7h0M343.8 343.8h0M342.0 340.1h0M337.7 336.2h0M342.5 338.0h0M344.0 349.7h0M344.5 329.6h0M345.3 331.3h0M342.5 339.4h0M341.3 334.9h0M341.7 321.8h0M338.9 334.7h0M343.2 335.4h0M343.2 328.4h0M342.4 335.5h0M339.8 334.8h0M343.0 323.7h0M340.3 336.3h0M344.4 345.2h0M340.2 343.0h0M340.4 327.3h0M340.8 326.3h0M339.2 333.8h0M339.5 335.0h0M340.9 326.2h0M336.0 329.4h0M346.1 340.9h0M342.4 334.8h0M342.2 339.1h0M339.5 333.3h0M342.0 339.1h0M341.5 330.6h0M341.8 330.6h0M338.2 328.3h0M341.3 323.0h0M337.3 331.3h0M341.1 326.1h0M339.5 330.9h0M340.2 334.2h0M340.8 334.4h0M343.4 335.6h0M344.3 331.3h0M341.6 333.1h0M339.1 339.8h0M344.9 332.6h0M338.3 333.6h0M340.3 320.1h0M341.0 327.4h0M339.9 339.4h0M344.6 328.7h0M342.4 327.6h0M344.0 338.7h0M340.9 326.7h0M343.5 338.8h0M341.2 332.9h0M341.2 330.0h0M342.2 322.2h0M342.4 340.7h0M342.8 323.5h0M341.0 326.7h0M338.1 337.7h0M340.8 326.6h0M335.4 336.2h0M340.9 333.2h0M339.7 331.9h0M343.4 327.6h0M335.3 329.8h0M346.1 334.9h0M340.7 328.0h0M337.9 336.8h0M342.5 334.7h0M342.6 336.4h0M342.5 334.7h0M346.5 336.5h0M339.6 335.5h0M342.2 337.9h0M341.8 335.5h0M340.0 335.2h0M342.2 328.4h0M344.4 323.9h0M339.6 333.7h0M342.5 338.6h0M343.8 328.3h0M343.0 324.7h0M337.9 330.4h0M342.1 335.4h0M340.6 338.1h0M344.3 331.6h0M341.2 326.9h0M346.0 333.0h0M338.7 337.1h0M342.6 333.1h0M339.5 338.9h0M345.5 330.6h0M345.1 338.1h0M339.4 342.3h0M343.2 327.9h0M341.4 328.6h0M337.8 336.9h0M339.1 350.5h0M341.7 336.2h0M342.7 333.2h0M340.6 340.5h0M342.2 332.8h0M342.2 324.5h0M342.2 328.2h0M338.8 340.8h0M341.8 324.2h0M342.7 325.6h0M338.1 337.9h0M345.0 334.2h0M344.8 340.0h0M341.9 327.6h0M346.3 329.4h0M339.7 331.5h0M339.3 326.6h0M340.1 332.1h0M339.9 332.4h0M345.7 338.1h0M341.6 332.9h0M341.4 331.2h0M342.3 336.1h0M345.1 339.4h0M341.9 339.1h0M340.6 334.9h0M342.1 331.3h0M344.4 330.8h0M341.0 326.2h0M344.7 333.8h0M342.2 333.2h0M341.1 342.4h0M342.6 334.6h0M346.0 337.5h0M341.0 340.5h0M344.6 323.1h0M342.8 329.8h0M341.9 332.1h0M341.6 334.0h0M343.4 327.2h0M342.9 338.1h0M342.4 338.3h0M343.0 336.1h0M339.6 337.1h0M340.0 327.4h0M339.2 339.6h0M340.7 330.0h0M341.0 323.0h0M340.7 334.1h0M342.7 335.7h0M339.4 329.6h0M341.0 324.3h0M343.5 327.1h0M345.3 332.6h0M341.6 319.5h0M344.2 339.0h0M344.6 338.9h0M339.2 332.4h0M342.1 339.2h0M339.1 332.5h0M340.6 327.2h0M342.4 336.8h0M338.6 336.5h0M342.7 328.3h0M341.2 325.6h0M341.0 328.0h0M342.7 339.8h0M339.6 331.7h0M337.7 348.8h0M341.6 329.8h0M339.9 336.7h0M341.1 335.1h0M339.0 332.2h0M339.4 338.0h0M339.2 328.7h0M338.6 333.1h0M339.7 326.9h0M339.7 321.4h0M341.6 333.8h0M348.7 327.1h0M340.1 326.2h0M337.9 336.6h0M342.8 332.5h0M338.7 335.5h0M339.5 342.9h0M340.7 334.4h0M341.6 335.9h0M341.6 326.8h0M342.0 338.0h0M341.2 338.1h0M344.0 327.6h0M343.4 337.0h0M340.3 335.1h0M341.0 332.2h0M338.4 333.9h0M343.0 346.7h0M341.0 329.8h0M345.8 331.6h0M339.9 333.9h0M344.9 332.4h0M339.4 323.4h0M337.7 337.0h0M339.5 338.5h0M342.2 342.9h0M343.8 330.3h0M339.5 326.5h0M343.7 337.0h0M340.3 327.8h0M340.3 333.4h0M340.8 331.2h0M345.2 334.4h0M341.9 330.9h0M342.2 337.2h0M338.1 328.3h0M341.8 346.5h0M342.1 337.7h0M345.1 330.0h0M339.5 328.1h0M339.9 332.4h0M339.4 330.8h0M340.0 328.9h0M343.0 341.1h0M339.7 338.7h0M344.3 327.5h0M341.5 336.5h0M339.4 333.5h0M340.0 337.6h0M338.4 329.8h0M338.2 345.1h0M344.0 333.8h0M343.4 344.4h0M339.2 330.8h0M340.4 340.8h0M345.1 332.8h0M339.8 342.6h0M341.9 332.4h0M342.6 327.6h0M341.0 327.5h0M341.0 329.9h0M340.7 336.8h0M341.7 335.5h0M337.9 334.1h0M341.5 339.3h0M341.8 342.4h0M338.4 327.9h0M342.4 339.0h0M339.3 346.2h0M335.5 330.0h0M337.1 330.3h0M341.6 335.7h0M342.7 334.7h0M340.5 330.5h0M338.1 333.1h0M341.1 342.3h0M343.5 338.5h0M341.3 329.0h0M338.1 324.1h0M342.5 327.4h0M341.0 334.4h0M341.0 329.1h0M341.6 328.8h0M342.7 337.4h0M341.2 331.9h0M339.2 331.4h0M341.2 334.6h0M341.7 341.4h0M344.1 335.2h0M338.7 337.3h0M341.1 333.9h0M339.4 342.0h0M342.0 326.7h0M340.2 327.3h0M334.5 330.7h0M343.6 344.6h0M339.9 342.0h0M338.9 327.4h0M338.0 331.0h0M339.0 336.5h0M338.5 333.9h0M341.1 338.4h0M341.7 330.8h0M341.2 324.4h0M342.2 336.9h0M339.5 340.4h0M342.8 325.0h0M341.2 323.2h0M342.4 331.0h0M342.8 323.2h0M340.6 335.9h0M344.2 327.1h0M343.2 337.6h0M340.5 331.6h0M345.4 334.2h0M345.2 337.1h0M338.0 332.4h0M336.4 327.9h0M340.0 338.5h0M342.5 325.4h0M343.5 341.2h0M342.9 330.1h0M341.4 330.6h0M343.6 335.7h0M343.0 335.8h0M340.4 336.3h0M341.8 325.4h0M343.8 328.7h0M340.0 335.4h0M340.0 335.5h0M339.5 333.0h0M344.7 340.6h0M342.9 332.5h0M343.3 338.7h0M340.6 339.5h0M341.4 335.4h0M344.2 332.4h0M340.8 337.6h0M344.1 336.0h0M341.4 336.9h0M341.4 328.8h0M342.7 336.1h0M343.4 342.3h0M345.4 332.0h0M340.7 334.3h0M345.2 332.2h0M339.7 338.4h0M339.5 322.2h0M336.4 342.3h0M343.3 336.3h0M344.8 332.3h0M338.8 335.0h0M340.7 339.7h0M340.9 335.6h0M338.0 337.2h0M341.6 340.1h0M342.1 334.5h0M340.3 337.6h0M339.2 341.6h0M341.8 336.6h0M342.8 330.2h0M338.3 337.8h0M341.2 344.7h0M342.7 331.8h0M335.2 336.1h0M342.2 335.9h0M345.3 338.4h0M338.6 331.3h0M344.4 333.5h0M340.8 344.3h0M342.8 337.4h0M341.1 330.2h0M338.9 337.9h0M337.6 333.9h0M346.8 342.0h0M338.5 324.8h0M340.9 334.1h0M344.7 339.0h0M342.1 326.7h0M341.9 329.5h0M336.9 336.2h0M340.1 333.8h0M338.5 331.9h0M337.4 335.3h0M342.3 326.0h0M343.3 329.0h0M339.7 343.0h0M340.0 330.1h0M342.4 336.0h0M343.4 333.3h0M339.1 338.3h0M344.1 335.4h0M343.6 335.8h0M341.5 340.0h0M339.0 335.4h0M342.7 324.3h0M343.0 330.0h0M345.4 341.4h0M340.1 339.4h0M345.0 332.3h0M340.7 324.9h0M342.7 329.7h0M341.2 344.9h0M341.7 340.1h0M344.8 340.3h0M339.9 324.8h0M343.3 326.2h0M340.9 330.4h0M341.4 326.2h0M339.9 334.2h0M341.9 327.7h0M337.0 336.2h0M340.9 332.4h0M343.7 330.5h0M343.4 337.1h0M337.8 336.0h0M338.9 334.3h0M341.0 339.8h0M341.9 333.9h0M336.3 334.4h0M336.2 337.0h0M340.0 330.9h0M342.5 348.2h0M347.3 350.9h0M343.2 351.9h0M339.1 337.2h0M340.6 337.5h0M338.3 346.3h0M341.9 340.0h0M341.8 341.3h0M341.9 341.3h0M342.8 329.9h0M345.1 355.2h0M344.1 331.4h0M338.6 330.2h0M344.5 351.1h0M339.0 334.4h0M343.2 353.5h0M342.3 347.0h0M347.0 347.2h0M341.7 340.7h0M341.8 331.6h0M341.2 333.6h0M344.6 344.9h0M343.0 343.1h0M341.3 333.4h0M344.5 334.0h0M348.3 336.4h0M346.9 343.5h0M346.5 347.9h0M340.5 351.9h0M341.8 340.8h0M342.5 356.6h0M337.0 350.3h0M347.1 357.0h0M337.8 336.3h0M343.2 349.1h0M338.4 353.5h0M342.4 328.5h0M344.5 352.1h0M343.6 347.6h0M339.5 352.1h0M340.1 345.5h0M344.8 354.0h0M341.9 340.3h0M342.4 339.5h0M344.8 350.3h0M334.6 350.3h0M342.8 332.3h0M345.8 354.5h0M347.3 354.3h0M344.1 353.0h0M339.9 337.6h0M344.9 355.0h0M347.6 348.5h0M340.2 352.1h0M339.9 343.6h0M341.6 340.3h0M340.9 337.9h0M336.1 338.7h0M335.1 351.9h0M338.2 337.3h0M340.2 338.6h0M343.4 346.9h0M340.5 341.7h0M342.6 326.1h0M346.1 338.3h0M350.9 340.9h0M344.7 358.1h0M339.2 349.8h0M345.0 335.3h0M342.1 334.4h0M343.1 340.0h0M344.9 346.0h0M344.4 337.2h0M338.2 347.8h0M338.7 331.8h0M342.9 346.9h0M344.1 354.4h0M348.3 320.8h0M343.8 343.8h0M341.0 346.2h0M340.6 347.9h0M340.0 344.9h0M338.2 343.4h0M338.2 346.5h0M340.4 345.0h0M342.3 344.8h0M339.8 357.7h0M342.1 352.9h0M341.2 352.1h0M341.4 338.5h0M340.8 339.8h0M342.9 353.2h0M342.1 334.9h0M334.3 352.9h0M342.8 332.3h0M342.4 362.5h0M340.3 354.8h0M342.5 339.2h0M340.0 340.0h0M342.4 326.2h0M339.5 343.6h0M344.1 354.4h0M343.1 349.3h0M337.8 341.7h0M340.0 361.8h0M344.1 348.8h0M343.2 347.6h0M342.5 341.4h0M338.7 349.1h0M340.0 366.8h0M342.5 347.9h0M342.9 329.5h0M342.0 345.9h0M339.6 360.7h0M341.4 354.4h0" stroke="#000" stroke-width="1.12" stroke-linecap="round" fill="none"/>
<path d="M385.8 287.5V393.1" fill="none" stroke="#555" stroke-width="0.9"/>
<path d="M385.8 287.5H277.70000000000005M385.8 393.1H277.70000000000005M280.1 287.5V395.70000000000005" fill="none" stroke="#5a5a5a" stroke-width="0.95"/>
<path d="M280.1 393.1v2.6M280.1 393.1h-2.6M288.1 393.1v1.5M280.1 385.2h-1.5M292.7 393.1v1.5M280.1 380.5h-1.5M296.0 393.1v1.5M280.1 377.2h-1.5M298.6 393.1v1.5M280.1 374.6h-1.5M300.7 393.1v1.5M280.1 372.6h-1.5M302.4 393.1v1.5M280.1 370.8h-1.5M304.0 393.1v1.5M280.1 369.3h-1.5M305.3 393.1v1.5M280.1 367.9h-1.5M306.5 393.1v2.6M280.1 366.7h-2.6M314.5 393.1v1.5M280.1 358.8h-1.5M319.1 393.1v1.5M280.1 354.1h-1.5M322.4 393.1v1.5M280.1 350.8h-1.5M325.0 393.1v1.5M280.1 348.2h-1.5M327.1 393.1v1.5M280.1 346.2h-1.5M328.9 393.1v1.5M280.1 344.4h-1.5M330.4 393.1v1.5M280.1 342.9h-1.5M331.7 393.1v1.5M280.1 341.5h-1.5M333.0 393.1v2.6M280.1 340.3h-2.6M340.9 393.1v1.5M280.1 332.4h-1.5M345.6 393.1v1.5M280.1 327.7h-1.5M348.9 393.1v1.5M280.1 324.4h-1.5M351.4 393.1v1.5M280.1 321.8h-1.5M353.5 393.1v1.5M280.1 319.8h-1.5M355.3 393.1v1.5M280.1 318.0h-1.5M356.8 393.1v1.5M280.1 316.5h-1.5M358.2 393.1v1.5M280.1 315.1h-1.5M359.4 393.1v2.6M280.1 313.9h-2.6M367.3 393.1v1.5M280.1 306.0h-1.5M372.0 393.1v1.5M280.1 301.3h-1.5M375.3 393.1v1.5M280.1 298.0h-1.5M377.8 393.1v1.5M280.1 295.4h-1.5M379.9 393.1v1.5M280.1 293.4h-1.5M381.7 393.1v1.5M280.1 291.6h-1.5M383.2 393.1v1.5M280.1 290.1h-1.5M384.6 393.1v1.5M280.1 288.7h-1.5" stroke="#222" stroke-width="0.7" fill="none"/>
<rect x="321.1" y="306.8" width="39.6" height="71.5" fill="none" stroke="#111" stroke-width="1.1"/>
<text x="340.9" y="303.1" font-size="10.4" text-anchor="middle" textLength="24" lengthAdjust="spacingAndGlyphs">14 %</text>
<text x="395.4" y="281.7" font-size="10.9" text-anchor="start" textLength="42" lengthAdjust="spacingAndGlyphs">FTY720</text>
<path d="M406.9 374.2h0M411.3 374.5h0M402.1 368.2h0M412.7 370.0h0M405.1 378.9h0M406.8 377.6h0M406.6 378.6h0M405.9 375.4h0M418.0 374.3h0M416.9 376.4h0M408.1 372.8h0M410.0 383.0h0M418.0 374.9h0M408.1 376.7h0M407.3 373.2h0M405.2 370.0h0M417.3 373.4h0M410.3 371.9h0M409.5 369.2h0M407.4 378.2h0M404.9 384.8h0M414.3 375.3h0M405.6 373.1h0M406.9 369.7h0M401.0 365.6h0M404.0 377.1h0M406.9 376.9h0M407.0 369.3h0M401.9 374.2h0M406.4 369.0h0M408.8 381.6h0M396.3 374.4h0M412.4 376.2h0M408.1 383.2h0M402.7 361.4h0M408.1 376.0h0M411.7 375.2h0M409.4 372.1h0M409.7 373.9h0M409.5 380.7h0M412.7 370.1h0M402.6 370.2h0M406.5 383.4h0M411.4 379.4h0M409.6 376.5h0M404.1 378.3h0M408.0 374.3h0M405.9 372.2h0M409.5 373.0h0M401.1 375.6h0M401.3 371.3h0M402.2 365.1h0M408.7 373.0h0M421.8 375.4h0M414.4 373.1h0M415.6 377.6h0M409.5 375.5h0M417.4 379.2h0M411.2 374.6h0M409.7 372.9h0M414.9 377.1h0M403.3 378.8h0M398.4 371.5h0M403.4 369.2h0M416.5 381.3h0M413.9 371.0h0M410.3 376.0h0M408.2 371.3h0M408.5 375.1h0M411.4 381.6h0M405.1 383.2h0M413.3 366.7h0M404.5 365.9h0M416.2 355.4h0M407.7 377.2h0M404.7 382.5h0M407.9 375.3h0M404.7 372.3h0M408.7 378.4h0M400.3 368.7h0M406.9 377.5h0M409.8 381.3h0M411.3 380.7h0M407.4 377.8h0M415.5 371.1h0M400.9 372.1h0M408.3 368.9h0M406.9 384.1h0M409.3 380.7h0M408.0 373.6h0M416.3 373.5h0M409.4 375.2h0M404.7 370.2h0M421.9 376.7h0M409.6 376.6h0M408.6 376.2h0M413.8 374.1h0M406.4 360.1h0M408.2 372.8h0M413.7 366.1h0M403.4 364.6h0M407.1 386.2h0M414.1 371.1h0M418.4 372.8h0M409.0 372.2h0M408.8 369.1h0M414.9 382.7h0M401.9 363.7h0M405.9 376.4h0M405.3 370.6h0M399.0 380.8h0M394.7 378.4h0M407.3 374.2h0M414.0 365.5h0M412.7 378.1h0M415.8 379.1h0M395.5 377.4h0M408.6 372.2h0M416.1 377.2h0M405.0 369.5h0M402.8 375.1h0M411.1 375.8h0M409.4 372.5h0M412.6 368.3h0M409.3 372.5h0M415.7 368.9h0M412.9 367.2h0M410.7 379.5h0M407.5 372.9h0M412.9 370.9h0M406.0 370.9h0M414.2 376.1h0M415.2 371.9h0M414.2 369.8h0M402.9 375.2h0M411.6 374.5h0M411.3 368.7h0M413.8 367.8h0M401.5 380.9h0M406.3 372.2h0M409.0 380.3h0M416.5 377.0h0M406.4 373.3h0M413.9 372.4h0M410.1 382.7h0M419.2 370.1h0M411.1 371.5h0M401.2 369.1h0M408.0 372.8h0M410.7 368.5h0M415.8 374.3h0M412.8 366.8h0M408.0 376.6h0M403.0 375.5h0M409.6 374.9h0M408.8 370.4h0M416.2 380.7h0M414.1 384.7h0M402.3 373.0h0M397.6 369.4h0M407.3 377.2h0M410.8 372.5h0M404.5 374.5h0M406.8 377.2h0M415.5 366.2h0M413.2 377.7h0M400.6 367.9h0M411.2 366.8h0M410.2 371.5h0M408.4 381.7h0M412.3 370.2h0M412.4 376.2h0M422.1 368.5h0M410.6 377.1h0M405.7 375.4h0M406.9 380.0h0M413.1 374.6h0M419.3 373.7h0M412.5 363.3h0M412.2 375.4h0M410.8 378.0h0M407.2 374.7h0M409.8 374.6h0M403.3 376.7h0M413.2 378.4h0M411.9 368.7h0M410.4 373.2h0M405.1 376.0h0M408.1 375.0h0M406.5 368.4h0M411.0 362.7h0M408.0 375.4h0M411.3 377.6h0M414.2 382.9h0M415.9 376.0h0M404.2 368.8h0M407.8 376.1h0M403.9 373.0h0M415.8 369.9h0M405.1 365.7h0M416.3 363.6h0M406.9 369.8h0M414.7 371.3h0M406.7 374.0h0M408.3 373.7h0M410.1 374.9h0M409.9 384.2h0M408.7 373.3h0M412.9 381.2h0M415.6 369.3h0M413.9 369.6h0M407.0 370.7h0M400.0 363.7h0M410.1 382.8h0M395.0 375.0h0M412.9 377.6h0M412.6 383.2h0M403.3 376.1h0M412.4 382.6h0M406.1 360.6h0M415.9 380.6h0M405.6 375.3h0M405.2 370.5h0M406.1 379.6h0M410.7 373.8h0M404.2 369.7h0M421.0 362.8h0M407.6 383.5h0M418.4 359.1h0M408.0 374.0h0M407.9 382.4h0M405.9 377.2h0M405.6 370.1h0M411.7 372.1h0M415.6 370.2h0M410.0 375.0h0M404.9 373.2h0M410.6 366.4h0M405.5 365.4h0M395.8 379.9h0M410.1 366.5h0M400.6 367.3h0M406.3 386.5h0M409.8 368.9h0M407.4 366.2h0M408.2 368.1h0M417.4 377.8h0M414.4 369.4h0M417.2 372.7h0M410.6 360.7h0M410.6 370.1h0M418.5 373.7h0M406.3 373.8h0M411.2 381.7h0M410.2 376.3h0M411.0 357.4h0M412.5 364.4h0M410.1 368.5h0M413.6 371.8h0M405.2 373.7h0M412.0 376.9h0M404.2 364.0h0M415.0 361.0h0M414.5 377.8h0M408.4 367.8h0M406.9 360.2h0M409.3 368.0h0M412.3 370.9h0M401.8 366.6h0M404.4 366.8h0M414.2 379.0h0M408.4 367.2h0M402.9 375.0h0M398.2 374.5h0M407.2 371.3h0M400.5 386.5h0M410.1 365.8h0M409.0 387.8h0M418.7 368.0h0M403.1 371.8h0M412.6 375.0h0M403.3 379.5h0M404.2 377.3h0M408.3 371.4h0M405.1 371.4h0M418.6 379.9h0M409.1 381.9h0M405.6 370.4h0M421.1 380.2h0M405.3 376.5h0M407.5 374.8h0M408.3 367.2h0M405.4 366.3h0M412.4 375.8h0M415.4 357.9h0M402.8 370.6h0M406.9 375.8h0M407.4 364.1h0M402.2 382.5h0M402.6 382.7h0M407.4 367.5h0M404.7 372.8h0M410.9 372.7h0M413.4 370.4h0M410.2 370.7h0M410.7 376.1h0M404.6 382.8h0M406.2 373.9h0M411.2 374.0h0M412.1 374.2h0M408.8 369.6h0M412.0 376.9h0M408.0 370.7h0M403.4 367.9h0M410.8 377.1h0M407.1 363.0h0M400.7 370.6h0M413.5 371.3h0M411.2 372.7h0M412.9 364.8h0M406.9 368.2h0M416.7 372.6h0M411.6 376.8h0M414.1 372.8h0M405.9 372.3h0M407.7 368.8h0M415.7 373.6h0M409.1 357.9h0M409.3 377.1h0M416.7 378.9h0M415.0 373.4h0M410.4 368.0h0M418.8 380.9h0M401.8 369.7h0M408.9 381.0h0M406.5 372.0h0M416.6 369.2h0M417.2 372.3h0M406.8 369.7h0M410.0 372.5h0M414.0 376.3h0M411.9 372.0h0M410.6 370.9h0M414.3 373.4h0M419.0 375.7h0M409.9 373.5h0M403.8 376.5h0M408.7 376.7h0M409.1 375.1h0M407.4 377.5h0M412.8 373.6h0M413.0 379.8h0M413.8 375.7h0M411.7 378.2h0M410.6 372.4h0M404.2 365.6h0M407.6 371.0h0M405.0 373.7h0M410.9 375.5h0M408.7 373.3h0M409.1 381.7h0M411.9 366.3h0M407.8 363.7h0M414.6 372.5h0M414.5 369.7h0M404.6 373.7h0M415.8 377.1h0M407.6 388.5h0M405.7 366.2h0M407.7 367.6h0M403.0 373.2h0M411.0 365.4h0M415.3 369.3h0M401.8 380.6h0M411.4 373.2h0M412.2 373.4h0M412.6 379.6h0M412.5 364.1h0M411.5 374.2h0M407.0 373.2h0M413.7 375.0h0M411.0 368.0h0M413.3 371.1h0M410.9 372.9h0M408.0 377.6h0M409.1 369.5h0M412.3 376.9h0M414.5 361.8h0M399.8 375.8h0M403.0 377.8h0M401.2 368.5h0M406.7 371.9h0M406.0 373.5h0M410.3 375.1h0M407.8 380.1h0M415.9 374.5h0M406.3 372.3h0M405.8 372.4h0M405.2 375.0h0M407.8 377.8h0M410.1 374.9h0M406.9 370.5h0M404.7 371.7h0M402.5 369.2h0M410.2 368.7h0M406.6 370.8h0M404.4 370.4h0M407.9 377.7h0M410.9 367.0h0M419.4 373.9h0M417.3 367.1h0M404.9 377.8h0M407.0 375.2h0M399.6 380.4h0M399.6 376.5h0M400.1 367.9h0M413.8 373.7h0M408.5 370.1h0M402.0 370.7h0M405.9 367.9h0M406.8 371.8h0M406.0 374.0h0M416.5 374.7h0M399.7 387.0h0M407.0 372.6h0M410.5 374.0h0M411.6 373.0h0M398.5 372.1h0M410.2 371.9h0M403.0 373.8h0M406.4 372.4h0M401.4 377.5h0M413.1 375.8h0M424.6 368.7h0M414.2 373.5h0M407.8 375.2h0M400.6 372.0h0M413.6 372.3h0M415.2 373.0h0M403.8 376.8h0M413.9 374.5h0M400.4 370.6h0M402.9 373.3h0M410.0 380.2h0M402.4 368.4h0M413.0 377.1h0M416.3 372.2h0M411.7 376.9h0M417.2 373.8h0M411.9 372.9h0M415.8 365.3h0M416.4 370.8h0M404.1 384.3h0M420.2 375.5h0M415.2 372.0h0M410.1 373.5h0M413.5 373.8h0M411.0 368.4h0M410.5 374.1h0M404.5 376.3h0M407.4 365.6h0M407.8 372.2h0M414.8 358.8h0M411.8 364.5h0M411.4 378.0h0M408.9 380.1h0M415.7 383.5h0M397.3 366.6h0M404.9 373.1h0M414.1 371.7h0M407.4 379.2h0M412.6 375.3h0M417.3 374.0h0M413.4 376.8h0M402.2 371.1h0M408.3 378.7h0M403.8 371.7h0M411.8 379.4h0M414.6 374.5h0M408.3 374.8h0M412.0 367.5h0M408.5 365.3h0M419.0 365.1h0M410.1 376.2h0M410.6 362.1h0M412.3 380.8h0M414.7 371.8h0M412.9 366.4h0M409.3 375.4h0M409.7 366.9h0M412.0 373.7h0M412.4 372.1h0M407.6 379.9h0M406.6 378.3h0M408.3 378.5h0M411.8 371.1h0M407.3 380.2h0M404.1 373.2h0M407.8 374.2h0M407.1 375.9h0M412.5 375.0h0M407.0 366.4h0M407.5 377.0h0M418.8 365.1h0M411.7 376.0h0M404.9 373.2h0M415.4 373.9h0M407.7 367.7h0M405.5 378.8h0M412.7 372.7h0M402.5 378.0h0M409.2 369.6h0M412.3 369.7h0M413.2 373.9h0M406.9 379.0h0M407.0 366.5h0M409.1 370.4h0M415.5 370.8h0M400.7 372.1h0M413.6 371.1h0M411.0 379.2h0M416.3 377.3h0M404.0 373.6h0M415.2 378.0h0M405.2 379.0h0M411.0 370.2h0M407.6 369.7h0M397.4 377.2h0M409.2 384.8h0M411.5 360.9h0M413.8 370.2h0M406.4 377.7h0M403.8 369.2h0M413.0 378.2h0M407.8 374.7h0M414.7 366.8h0M416.6 371.1h0M408.4 375.5h0M408.7 368.8h0M406.0 376.7h0M399.5 375.2h0M409.5 371.9h0M413.1 375.6h0M414.8 371.6h0M409.4 374.7h0M418.7 368.2h0M407.0 381.1h0M409.4 372.1h0M406.9 379.7h0M407.4 384.9h0M408.2 381.9h0M406.2 373.4h0M407.5 374.4h0M411.0 373.3h0M410.1 375.2h0M404.4 369.1h0M412.1 363.9h0M405.5 375.2h0M411.8 373.8h0M409.9 381.7h0M400.1 383.2h0M404.4 366.2h0M414.3 368.6h0M406.4 377.7h0M406.3 379.8h0M407.4 374.2h0M410.1 373.8h0M412.4 363.7h0M408.1 385.8h0M417.9 369.8h0M406.8 376.5h0M407.3 375.4h0M408.7 368.7h0M410.4 378.1h0M416.8 381.3h0M421.2 373.3h0M407.9 374.3h0M408.7 377.1h0M412.7 378.8h0M409.0 378.2h0M413.8 368.8h0M404.3 368.5h0M413.8 370.6h0M398.8 359.1h0M412.2 366.5h0M412.9 372.5h0M421.9 370.0h0M405.1 369.0h0M413.0 378.3h0M412.8 375.3h0M404.9 377.9h0M410.9 372.6h0M405.4 371.3h0M403.8 368.9h0M402.1 374.8h0M408.5 363.9h0M404.3 368.9h0M399.2 376.7h0M411.0 378.1h0M401.0 373.2h0M413.0 367.4h0M410.8 376.6h0M405.4 369.6h0M401.6 372.9h0M405.0 368.3h0M402.8 383.3h0M407.6 381.5h0M407.7 369.0h0M421.9 367.3h0M399.1 373.2h0M406.6 376.9h0M412.3 380.2h0M414.7 373.2h0M416.2 366.9h0M404.6 375.1h0M413.5 374.9h0M395.1 365.0h0M408.4 372.1h0M413.8 371.9h0M413.1 368.3h0M402.4 374.7h0M405.3 379.1h0M398.7 378.9h0M405.8 368.7h0M402.6 370.4h0M410.9 377.2h0M405.7 371.7h0M412.5 371.6h0M408.9 385.3h0M407.8 359.8h0M418.4 370.0h0M415.4 369.0h0M402.8 373.2h0M416.5 382.6h0M413.3 372.7h0M416.2 372.0h0M411.8 374.4h0M400.4 371.9h0M407.6 375.5h0M397.2 387.1h0M402.4 369.8h0M406.0 372.4h0M415.9 373.1h0M409.7 362.3h0M410.6 376.7h0M413.2 373.2h0M404.9 363.0h0M415.1 372.1h0M410.6 374.4h0M404.6 368.7h0M406.6 379.3h0M408.2 370.3h0M412.5 365.5h0M416.7 377.8h0M407.9 372.8h0M408.3 374.2h0M418.6 364.9h0M425.7 366.1h0M418.6 368.1h0M410.4 372.7h0M407.6 372.8h0M412.9 380.9h0M411.0 381.7h0M405.5 374.2h0M416.4 373.0h0M422.3 383.6h0M405.2 373.8h0M405.5 378.9h0M406.9 370.9h0M403.0 373.0h0M413.6 372.0h0M402.2 369.8h0M412.9 375.5h0M411.5 369.1h0M413.3 372.9h0M401.9 375.7h0M410.2 384.8h0M410.9 363.3h0M414.0 373.9h0M411.4 377.0h0M406.5 371.6h0M415.3 378.2h0M416.5 376.3h0M416.4 376.1h0M405.7 371.3h0M412.2 372.3h0M404.8 372.3h0M408.6 368.2h0M413.3 374.5h0M402.2 367.8h0M423.7 368.5h0M415.7 366.1h0M405.6 379.4h0M406.6 370.5h0M409.1 368.8h0M408.8 377.7h0M403.3 371.3h0M408.8 375.3h0M401.6 372.5h0M406.3 375.4h0M418.6 374.5h0M409.1 361.9h0M407.5 381.3h0M417.5 378.9h0M411.1 365.7h0M412.7 378.3h0M406.6 372.3h0M415.1 374.1h0M407.8 380.3h0M414.0 378.8h0M412.8 378.7h0M418.3 384.2h0M414.6 379.3h0M409.4 370.3h0M404.0 366.7h0M407.9 378.0h0M405.9 364.4h0M417.3 371.6h0M407.2 371.6h0M397.7 369.7h0M411.4 380.7h0M413.7 375.2h0M404.8 372.3h0M413.2 378.3h0M402.7 371.3h0M410.7 379.9h0M408.7 384.4h0M411.1 372.8h0M411.6 372.6h0M406.0 379.6h0M413.6 363.0h0M406.9 366.8h0M410.1 368.0h0M416.8 364.9h0M404.7 373.5h0M409.9 375.1h0M417.7 373.3h0M416.0 373.3h0M406.0 378.4h0M406.3 379.2h0M412.3 380.1h0M406.1 372.7h0M409.9 373.6h0M402.4 381.3h0M412.7 375.7h0M401.2 380.5h0M410.2 371.0h0M413.1 373.2h0M406.0 370.1h0M401.4 373.4h0M402.9 375.8h0M399.6 371.1h0M418.7 383.9h0M399.5 365.6h0M402.8 378.1h0M411.2 367.7h0M409.7 375.1h0M414.8 369.4h0M416.3 373.9h0M411.8 373.9h0M409.1 369.2h0M406.6 367.0h0M408.5 369.7h0M414.4 373.6h0M412.6 377.8h0M412.7 382.0h0M400.8 364.3h0M405.5 375.9h0M405.9 371.0h0M406.7 373.5h0M404.0 375.2h0M413.0 377.7h0M415.0 375.6h0M418.9 373.3h0M406.7 381.8h0M408.9 375.0h0M410.0 373.4h0M409.4 379.5h0M405.1 367.4h0M413.6 368.5h0M399.0 381.2h0M407.0 372.4h0M399.6 364.0h0M412.7 377.7h0M402.2 379.9h0M403.5 369.3h0M409.4 366.5h0M404.1 373.2h0M410.8 375.4h0M407.5 370.3h0M419.7 368.6h0M403.1 376.2h0M405.2 376.3h0M412.4 365.0h0M410.1 367.5h0M411.8 371.7h0M408.0 370.1h0M414.4 374.6h0M411.3 376.1h0M416.4 383.3h0M402.4 375.3h0M410.8 378.3h0M408.3 365.1h0M411.6 369.7h0M404.6 379.0h0M413.7 365.7h0M402.5 380.5h0M414.1 376.3h0M412.3 374.1h0M400.1 372.8h0M411.6 367.2h0M399.4 367.7h0M412.4 370.6h0M401.1 371.1h0M409.1 379.9h0M408.1 368.0h0M401.0 370.1h0M399.8 364.2h0M412.1 374.3h0M407.0 373.4h0M415.2 379.2h0M409.2 383.6h0M423.8 376.2h0M410.4 368.9h0M418.7 374.6h0M411.3 374.9h0M410.0 373.1h0M412.3 367.7h0M405.6 375.2h0M406.2 367.0h0M418.1 372.9h0M408.5 371.8h0M403.5 359.7h0M412.2 376.6h0M405.2 384.7h0M410.0 371.4h0M415.5 370.1h0M416.3 378.3h0M419.1 366.4h0M415.7 373.5h0M413.0 374.7h0M412.5 370.4h0M411.2 373.0h0M409.4 368.9h0M421.5 370.3h0M409.2 376.9h0M418.4 368.8h0M409.0 370.3h0M416.0 369.7h0M394.8 376.1h0M410.5 371.4h0M406.4 368.9h0M417.9 375.1h0M417.5 362.7h0M406.4 363.3h0M409.3 374.9h0M414.6 383.2h0M411.3 370.8h0M410.3 375.2h0M414.9 366.0h0M403.0 374.0h0M418.2 374.4h0M412.2 376.4h0M394.8 369.4h0M405.1 383.6h0M409.4 368.3h0M421.7 381.4h0M409.8 367.7h0M402.0 377.6h0M417.0 380.5h0M412.0 384.9h0M409.9 372.8h0M415.4 364.7h0M407.9 377.9h0M409.4 369.6h0M415.2 367.7h0M412.3 370.3h0M415.1 368.6h0M408.1 377.5h0M418.8 374.4h0M402.6 377.0h0M402.9 378.0h0M412.7 371.4h0M408.5 377.2h0M411.1 379.9h0M410.3 383.3h0M409.3 374.3h0M404.6 372.0h0M411.7 368.5h0M416.9 371.3h0M405.7 373.5h0M420.0 374.8h0M418.3 366.3h0M405.7 371.3h0M414.3 372.4h0M404.4 370.3h0M409.5 370.2h0M404.4 375.3h0M407.4 368.3h0M400.5 375.9h0M409.3 367.7h0M404.7 374.6h0M405.5 367.5h0M399.9 379.7h0M410.4 377.4h0M420.1 380.6h0M408.3 369.0h0M409.4 366.5h0M404.2 366.4h0M407.7 372.3h0M405.7 379.1h0M402.0 377.2h0M405.5 377.0h0M407.4 366.9h0M411.8 379.2h0M408.4 377.3h0M411.6 370.5h0M416.8 359.9h0M414.9 369.2h0M407.9 372.7h0M400.9 381.8h0M409.1 374.6h0M410.5 373.1h0M415.3 381.9h0M410.8 381.7h0M424.6 375.5h0M408.4 376.8h0M413.5 380.1h0M405.3 369.6h0M404.8 375.6h0M408.5 371.2h0M411.1 368.3h0M413.6 376.1h0M393.6 379.3h0M415.9 383.4h0M417.8 377.6h0M417.0 379.5h0M414.4 372.5h0M409.4 365.5h0M412.9 370.1h0M416.7 375.6h0M404.9 370.3h0M413.5 383.7h0M412.6 380.0h0M409.2 372.4h0M419.3 382.7h0M406.3 377.0h0M404.9 382.3h0M409.7 372.5h0M406.7 377.7h0M416.9 372.3h0M401.3 373.6h0M403.1 379.6h0M411.5 383.7h0M413.8 374.2h0M403.7 375.1h0M416.7 368.8h0M399.9 372.4h0M415.3 376.2h0M405.3 366.8h0M407.4 371.2h0M419.2 367.6h0M409.5 374.6h0M406.5 378.3h0M411.1 375.3h0M419.7 372.0h0M410.2 368.1h0M405.8 364.9h0M410.9 373.6h0M403.4 381.7h0M406.3 372.1h0M406.9 373.2h0M413.2 371.2h0M407.3 367.5h0M412.3 379.2h0M415.8 377.3h0M418.0 365.6h0M401.0 366.9h0M409.5 380.7h0M403.8 368.8h0M413.1 373.3h0M411.1 368.0h0M409.7 375.3h0M407.0 369.3h0M404.8 370.3h0M401.0 367.6h0M414.8 383.7h0M408.7 387.4h0M409.9 374.7h0M411.4 377.1h0M413.9 376.6h0M419.6 373.6h0M408.8 373.1h0M413.2 371.6h0M401.3 377.8h0M407.7 367.0h0M406.1 369.1h0M406.5 377.3h0M415.8 366.0h0M410.3 382.2h0M410.1 372.1h0M410.2 374.6h0M408.6 380.7h0M408.6 373.3h0M406.4 374.3h0M407.0 370.4h0M407.5 376.3h0M408.8 377.3h0M400.1 368.8h0M410.1 377.1h0M409.6 378.8h0M411.9 376.1h0M404.0 369.5h0M404.9 378.6h0M413.9 380.9h0M406.0 370.9h0M412.2 363.7h0M406.3 369.8h0M403.6 373.7h0M402.2 380.5h0M406.6 380.0h0M407.3 377.2h0M403.4 370.1h0M417.1 377.6h0M409.9 373.5h0M405.2 368.1h0M417.5 363.9h0M414.0 378.9h0M405.8 364.8h0M404.5 380.3h0M408.8 385.7h0M413.5 373.7h0M402.5 369.0h0M415.7 370.1h0M407.8 369.9h0M414.1 375.6h0M409.0 378.9h0M412.3 369.5h0M413.1 371.8h0M416.4 370.1h0M406.1 379.7h0M419.5 378.8h0M403.2 369.0h0M411.4 371.9h0M413.3 374.4h0M409.9 363.9h0M414.4 370.7h0M401.5 374.3h0M409.6 366.0h0M414.9 374.7h0M409.9 373.8h0M404.1 370.6h0M410.6 379.1h0M410.8 368.5h0M404.7 375.8h0M416.6 372.2h0M407.1 379.4h0M404.5 369.3h0M410.4 376.8h0M406.5 376.9h0M408.8 379.7h0M411.0 382.2h0M407.7 365.4h0M412.9 373.1h0M411.3 367.7h0M416.1 378.8h0M404.7 380.9h0M410.2 371.9h0M411.2 374.8h0M411.3 380.6h0M399.1 374.6h0M404.4 372.8h0M411.5 364.7h0M412.8 369.7h0M410.0 378.9h0M410.8 365.7h0M416.1 375.1h0M408.0 374.7h0M405.9 373.5h0M417.5 377.8h0M413.0 369.5h0M409.0 381.0h0M406.2 371.2h0M418.1 379.0h0M408.4 370.4h0M405.7 375.0h0M416.4 371.8h0M402.3 382.6h0M409.1 367.9h0M413.1 370.1h0M408.4 381.4h0M407.2 377.9h0M412.1 373.3h0M403.6 372.1h0M408.8 366.6h0M413.6 372.1h0M404.3 375.5h0M417.0 380.0h0M408.8 378.6h0M409.5 381.4h0M407.4 375.6h0M412.8 369.7h0M407.4 371.7h0M411.0 381.8h0M416.3 374.1h0M416.3 381.2h0M402.1 365.0h0M416.8 370.9h0M407.3 369.2h0M411.4 375.0h0M410.4 369.3h0M411.3 366.4h0M406.8 373.1h0M412.9 361.2h0M415.0 370.3h0M406.9 375.8h0M409.8 367.3h0M414.0 373.3h0M415.4 368.8h0M411.6 371.7h0M411.2 374.8h0M412.3 376.1h0M408.1 375.9h0M411.6 369.5h0M408.4 381.8h0M408.1 375.3h0M397.8 370.0h0M400.7 380.8h0M411.7 371.4h0M413.6 384.2h0M412.1 378.2h0M410.4 373.0h0M408.3 371.0h0M412.7 369.0h0M407.8 369.3h0M409.8 372.1h0M417.5 380.9h0M402.7 374.6h0M406.7 373.2h0M408.6 375.9h0M400.0 371.9h0M403.7 366.8h0M415.2 365.5h0M412.4 381.4h0M409.1 372.1h0M416.5 382.4h0M404.7 384.0h0M419.6 375.2h0M409.4 377.9h0M406.7 371.7h0M415.3 372.9h0M412.4 374.1h0M410.8 373.6h0M409.2 381.9h0M400.5 373.1h0M399.1 378.6h0M409.7 374.3h0M414.7 377.1h0M405.7 383.7h0M410.2 365.2h0M401.7 380.1h0M402.1 370.2h0M409.4 374.8h0M413.3 371.8h0M413.5 371.1h0M415.9 366.2h0M405.6 359.0h0M408.9 385.4h0M413.7 378.5h0M404.5 372.4h0M408.1 363.4h0M409.7 377.4h0M409.6 382.4h0M414.2 376.1h0M411.9 364.2h0M407.4 370.8h0M397.8 375.1h0M413.7 373.3h0M414.8 379.8h0M412.3 368.3h0M411.5 370.1h0M411.9 359.9h0M415.9 379.9h0M407.1 377.2h0M409.3 371.2h0M404.6 363.7h0M408.5 378.5h0M405.4 365.8h0M405.5 366.5h0M399.5 362.9h0M409.1 365.7h0M414.8 368.3h0M394.2 367.5h0M416.1 379.7h0M409.4 377.6h0M406.1 374.0h0M411.2 370.4h0M408.3 373.3h0M409.2 366.2h0M416.9 375.8h0M410.5 368.3h0M411.5 370.7h0M408.2 375.4h0M408.7 368.6h0M404.9 365.7h0M408.9 379.3h0M405.6 363.9h0M415.4 366.3h0M408.4 367.0h0M413.3 369.4h0M416.2 372.7h0M414.8 355.4h0M406.1 370.7h0M418.1 381.4h0M399.8 380.2h0M416.8 378.5h0M396.6 373.0h0M404.9 374.7h0M409.2 370.4h0M405.9 364.1h0M398.7 375.5h0M401.9 379.6h0M410.8 375.2h0M400.8 373.3h0M412.8 378.4h0M415.4 375.3h0M416.4 379.8h0M410.8 371.1h0M409.3 363.4h0M407.5 376.3h0M423.6 378.5h0M415.7 369.1h0M412.8 374.8h0M411.2 377.6h0M415.1 358.1h0M399.7 387.4h0M413.9 377.9h0M406.6 372.4h0M397.7 366.9h0M415.2 364.6h0M405.6 392.4h0M411.8 371.6h0M405.7 377.5h0M407.5 369.8h0M417.8 371.7h0M411.2 377.2h0M411.5 368.2h0M401.5 373.0h0M414.1 372.3h0M406.2 376.2h0M411.9 378.4h0M404.3 372.5h0M411.4 381.4h0M412.3 370.8h0M402.0 371.3h0M411.2 374.0h0M405.0 372.0h0M415.9 377.9h0M411.4 357.3h0M409.8 363.4h0M425.1 361.1h0M413.8 381.5h0M407.6 378.2h0M414.0 369.5h0M411.0 375.7h0M416.5 363.4h0M404.4 371.7h0M419.6 381.9h0M406.9 377.2h0M407.6 385.7h0M405.8 370.7h0M408.0 380.1h0M419.4 374.1h0M410.5 375.3h0M404.1 375.0h0M408.8 377.9h0M410.8 381.1h0M414.5 373.9h0M407.9 375.7h0M410.6 373.0h0M424.7 375.2h0M408.9 368.9h0M410.2 379.3h0M403.4 377.6h0M414.5 375.4h0M407.2 373.5h0M419.1 369.8h0M415.8 368.2h0M413.7 367.2h0M407.0 369.1h0M407.8 378.8h0M407.6 376.0h0M410.0 365.5h0M407.8 368.1h0M406.8 381.2h0M410.1 383.1h0M409.4 378.4h0M407.6 385.7h0M414.3 369.7h0M414.9 376.1h0M406.7 370.0h0M420.6 386.3h0M411.5 376.2h0M415.9 376.1h0M419.2 375.8h0M402.3 369.8h0M412.2 373.4h0M414.3 360.8h0M415.8 371.2h0M413.7 368.1h0M414.8 378.3h0M401.9 381.4h0M404.7 375.4h0M412.5 368.0h0M399.1 367.6h0M406.8 378.1h0M408.6 372.3h0M411.5 372.4h0M414.2 367.7h0M410.8 375.3h0M405.3 375.0h0M404.7 378.4h0M411.7 368.6h0M412.6 373.7h0M411.5 365.8h0M410.3 375.2h0M410.2 373.9h0M402.4 371.8h0M409.5 379.0h0M413.5 366.7h0M403.8 382.8h0M411.8 376.3h0M413.2 377.2h0M421.6 375.5h0M409.3 369.9h0M408.3 370.7h0M403.4 379.4h0M404.0 373.9h0M401.3 375.8h0M400.4 372.0h0M413.2 378.8h0M409.6 377.7h0M411.2 366.6h0M401.4 385.1h0M399.2 379.9h0M400.5 378.7h0M417.9 375.8h0M415.4 373.7h0M402.7 378.9h0M435.8 386.0h0M410.0 381.1h0M400.2 387.6h0M410.5 360.8h0M420.1 366.0h0M399.0 376.5h0M406.6 388.2h0M407.7 378.6h0M420.2 384.9h0M421.5 362.8h0M412.7 363.8h0M421.1 369.9h0M411.8 368.8h0M411.7 375.0h0M402.1 363.4h0M399.9 376.0h0M415.0 361.2h0M411.4 367.6h0M400.2 376.8h0M411.0 365.8h0M409.4 373.8h0M414.3 379.9h0M405.2 387.5h0M403.6 384.9h0M422.2 382.0h0M407.9 378.5h0M420.2 362.5h0M402.0 366.2h0M408.3 366.0h0M407.3 369.0h0M401.1 372.7h0M417.3 365.3h0M397.5 370.0h0M412.7 384.1h0M417.0 356.3h0M410.8 371.3h0M421.2 372.6h0M429.7 370.6h0M410.5 382.4h0M398.0 389.3h0M405.9 368.3h0M410.9 380.8h0M410.7 376.1h0M417.8 373.1h0M415.1 366.3h0M419.7 375.8h0M403.8 356.2h0M411.7 382.6h0M408.6 387.4h0M409.3 375.6h0M410.7 367.0h0M405.8 368.2h0M406.4 371.4h0M393.9 384.5h0M404.0 380.4h0M404.5 366.2h0M412.3 378.9h0M414.6 375.2h0M406.0 392.3h0M408.8 360.5h0M413.6 372.7h0M401.7 365.2h0M419.8 373.5h0M429.6 355.4h0M413.8 365.3h0M405.6 372.8h0M412.3 368.3h0M421.3 365.7h0M422.3 372.6h0M397.4 368.6h0M413.3 365.3h0M403.3 371.5h0M406.0 374.0h0M412.8 376.7h0M415.3 358.0h0M407.5 370.0h0M402.1 384.4h0M408.3 360.7h0M400.4 374.9h0M426.7 369.3h0M395.4 383.5h0M415.8 384.8h0M411.2 376.1h0M410.2 369.2h0M400.2 359.4h0M405.5 368.9h0M406.9 366.1h0M405.0 374.0h0M407.8 387.7h0M411.1 390.9h0M405.9 376.5h0M414.3 374.8h0M417.0 372.5h0M405.0 376.4h0M417.0 371.9h0M410.6 389.6h0M404.8 367.0h0M414.5 374.8h0M420.6 368.2h0M407.0 382.3h0M392.7 390.0h0M417.4 379.7h0M419.5 375.6h0M399.5 374.3h0M408.7 379.0h0M414.4 369.6h0M417.4 389.7h0M416.8 382.9h0M417.7 381.2h0M424.1 370.3h0M400.0 390.3h0M418.9 361.5h0M431.5 367.4h0M406.4 370.3h0M416.6 366.7h0M403.1 359.2h0M392.5 383.3h0M412.8 384.7h0M411.5 375.9h0M403.0 359.5h0M412.2 373.3h0M418.5 367.1h0M419.4 382.2h0M413.8 387.2h0M398.1 378.1h0M406.9 377.9h0M399.7 389.4h0M411.3 363.5h0M415.0 378.2h0M409.5 363.7h0M409.6 367.4h0M397.5 364.3h0M398.8 372.7h0M404.1 385.4h0M404.0 378.3h0M430.4 359.6h0M419.2 373.4h0M399.9 372.2h0M403.3 366.2h0M404.1 374.8h0M404.7 374.8h0M420.7 375.8h0M416.1 362.6h0M415.7 374.4h0M410.6 378.2h0M414.0 375.9h0M406.1 383.9h0M410.7 379.1h0M409.8 373.0h0M397.0 374.9h0M420.4 359.8h0M399.8 384.6h0M407.6 378.5h0M402.9 368.4h0M425.6 374.5h0M395.3 380.0h0M419.6 362.1h0M418.3 379.8h0M404.8 366.7h0M410.0 387.1h0M408.8 376.4h0M394.1 367.0h0M412.9 360.5h0M409.2 358.9h0M414.0 383.4h0M396.1 372.9h0M402.3 373.8h0M400.2 372.8h0M410.6 368.1h0M404.4 390.2h0M399.9 380.8h0M422.6 387.9h0M404.4 364.0h0M419.9 380.0h0M417.4 380.5h0M402.6 364.6h0M411.4 367.4h0M415.9 383.7h0M420.7 376.7h0M413.2 368.3h0M413.6 380.9h0M403.4 368.8h0M402.6 375.8h0M440.2 374.0h0M420.4 367.1h0M396.8 383.1h0M412.4 375.1h0M413.9 354.4h0M392.4 373.0h0M406.8 388.0h0M414.9 354.8h0M425.4 382.7h0M425.0 376.7h0M406.1 363.8h0M406.5 374.5h0M405.1 364.6h0M411.7 361.1h0M417.8 378.1h0M399.6 377.1h0M407.9 358.7h0M403.9 369.9h0M402.2 374.9h0M404.7 360.7h0M427.1 384.2h0M426.3 368.1h0M423.6 378.2h0M393.7 380.4h0M412.5 366.3h0M432.6 377.7h0M413.6 375.7h0M402.8 378.2h0M415.3 370.8h0M407.1 383.2h0M405.7 381.0h0M412.1 388.3h0M414.2 384.1h0M408.0 362.6h0M409.4 369.6h0M399.8 378.5h0M409.2 383.5h0M416.4 368.5h0M410.5 374.8h0M407.9 377.4h0M395.8 373.7h0M420.4 383.5h0M398.5 365.9h0M416.1 379.1h0M406.1 367.6h0M417.3 378.4h0M419.6 366.5h0M406.6 372.1h0M400.3 375.3h0M400.8 380.3h0M412.4 373.7h0M428.6 372.3h0M416.0 374.7h0M408.3 366.8h0M422.6 381.3h0M407.8 381.0h0M417.9 390.0h0M413.2 377.1h0M419.0 370.2h0M426.6 378.9h0M406.4 366.6h0M417.0 376.8h0M414.6 371.9h0M407.1 383.1h0M406.1 356.7h0M419.3 373.2h0M403.6 372.0h0M404.5 380.5h0M417.8 368.4h0M418.6 370.9h0M424.7 385.7h0M404.1 369.1h0M396.9 371.2h0M420.2 384.7h0M395.0 356.2h0M405.8 378.2h0M407.6 377.7h0M426.2 376.9h0M410.0 359.0h0M398.2 362.2h0M409.5 367.4h0M422.5 367.1h0M392.5 380.5h0M397.1 370.8h0M419.6 387.1h0M410.9 374.4h0M400.0 380.0h0M407.8 368.8h0M410.4 369.4h0M398.7 378.4h0M404.3 382.3h0M423.7 368.9h0M412.8 385.9h0M420.5 372.5h0M409.4 388.4h0M404.4 363.9h0M412.7 371.6h0M401.0 380.4h0M413.3 374.0h0M406.8 369.6h0M407.0 380.3h0M407.2 383.0h0M400.7 371.1h0M422.9 381.4h0M395.3 370.9h0M411.9 367.7h0M397.7 385.9h0M418.4 369.7h0M407.6 370.4h0M411.5 381.4h0M414.3 366.1h0M413.2 366.4h0M411.5 372.4h0M413.3 375.4h0M413.1 382.8h0M405.4 373.0h0M407.0 368.9h0M407.5 363.4h0M402.9 371.8h0M404.6 370.6h0M422.4 384.3h0M396.1 360.5h0M425.9 359.1h0M404.8 358.3h0M415.7 372.5h0M409.8 378.4h0M408.1 388.8h0M415.1 360.4h0M426.0 375.9h0M408.7 369.2h0M409.5 388.8h0M404.7 377.6h0M429.1 387.9h0M421.0 374.3h0M420.5 383.9h0M410.1 377.7h0M414.4 382.8h0M392.8 371.8h0M403.8 354.8h0M419.0 373.6h0M404.3 363.7h0M403.3 379.2h0M416.6 377.2h0M413.7 379.4h0M405.2 363.7h0M413.3 367.6h0M394.5 369.3h0M400.9 391.8h0M411.6 370.8h0M418.2 376.9h0M409.5 358.3h0M398.1 370.1h0M405.1 375.6h0M420.4 373.3h0M404.1 371.9h0M412.2 378.3h0M413.9 378.8h0M404.6 363.8h0M410.0 362.7h0M392.7 379.4h0M404.3 381.6h0M410.1 362.5h0M415.8 380.4h0M422.1 362.1h0M405.2 373.0h0M414.2 385.7h0M408.6 360.0h0M402.3 374.4h0M402.3 372.5h0M409.2 364.4h0M409.8 381.1h0M402.6 366.1h0M435.8 368.5h0M409.5 364.6h0M416.0 378.2h0M407.2 379.3h0M436.2 386.4h0M406.4 367.0h0M411.5 387.6h0M421.0 368.9h0M409.2 380.4h0M400.3 388.6h0M424.6 381.3h0M416.0 358.2h0M407.2 365.0h0M407.3 367.3h0M407.3 381.7h0M411.2 367.4h0M393.5 381.1h0M411.0 376.2h0M403.9 375.7h0M414.3 374.1h0M412.8 367.6h0M399.7 386.4h0M422.5 375.3h0M416.8 387.6h0M401.1 366.1h0M399.7 359.2h0M403.2 386.6h0M412.9 363.8h0M421.6 375.2h0M401.1 370.8h0M402.3 372.8h0M414.5 371.2h0M409.2 364.4h0M409.1 363.4h0M408.5 376.0h0M406.6 367.7h0M426.2 389.4h0M418.9 374.8h0M406.5 386.5h0M421.5 369.8h0M427.5 381.1h0M414.1 368.7h0M412.5 365.6h0M405.0 371.8h0M410.8 372.2h0M422.0 362.1h0M400.7 368.1h0M394.2 380.3h0M404.9 372.5h0M413.1 375.2h0M407.7 372.7h0M402.0 367.6h0M399.0 361.8h0M410.9 373.3h0M420.6 378.8h0M396.7 375.8h0M411.7 384.3h0M408.0 370.2h0M415.7 376.4h0M409.6 366.4h0M403.6 356.7h0M418.0 379.1h0M413.6 369.7h0M399.9 379.6h0M402.8 360.1h0M411.4 365.8h0M416.8 371.2h0M404.1 367.7h0M405.9 371.3h0M392.4 378.7h0M405.2 373.7h0M410.6 378.0h0M403.9 372.4h0M408.5 367.7h0M400.2 365.0h0M400.9 354.2h0M412.1 379.0h0M394.8 383.6h0M409.6 364.9h0M420.7 365.3h0M404.1 366.1h0M404.8 376.8h0M401.6 374.6h0M397.1 371.7h0M403.9 373.3h0M397.4 358.9h0M407.2 372.6h0M404.1 372.0h0M398.6 378.0h0M409.6 367.4h0M418.7 369.0h0M416.7 375.6h0M409.0 368.4h0M399.4 391.9h0M406.9 365.5h0M415.4 374.2h0M416.3 365.4h0M421.8 385.9h0M394.9 375.0h0M423.9 375.6h0M412.7 383.0h0M423.7 385.4h0M409.2 367.9h0M420.7 376.0h0M408.9 369.4h0M399.1 384.2h0M412.1 355.1h0M408.7 371.8h0M414.0 355.4h0M416.4 376.4h0M415.2 366.4h0M418.2 374.1h0M394.5 375.0h0M420.0 383.4h0M401.3 357.6h0M409.9 377.4h0M405.2 384.2h0M398.2 362.3h0M417.4 380.5h0M399.5 381.1h0M403.9 369.1h0M422.8 356.8h0M393.2 369.6h0M418.0 387.8h0M405.2 371.8h0M416.5 380.2h0M409.0 377.0h0M404.5 375.6h0M415.7 362.8h0M402.5 367.4h0M403.9 374.8h0M411.3 373.2h0M398.8 372.9h0M395.5 380.8h0M393.5 374.3h0M417.9 380.3h0M427.2 374.7h0M420.2 377.3h0M403.1 369.2h0M404.2 360.5h0M399.8 381.5h0M409.1 381.6h0M418.9 379.7h0M408.4 366.7h0M408.9 383.7h0M412.0 375.4h0M397.8 367.9h0M406.8 369.5h0M412.5 368.3h0M410.3 377.2h0M416.2 367.8h0M423.7 373.7h0M394.5 362.5h0M424.8 374.4h0M413.8 375.0h0M402.5 374.6h0M406.8 347.6h0M409.4 383.1h0M419.2 373.8h0M406.2 365.4h0M409.3 390.9h0M396.7 374.1h0M423.2 380.5h0M413.6 375.0h0M404.9 353.3h0M396.7 384.6h0M409.2 363.7h0M417.7 383.5h0M431.2 372.7h0M427.6 366.2h0M405.9 352.1h0M405.5 369.7h0M400.2 364.9h0M413.8 374.2h0M402.3 364.1h0M415.0 380.3h0M412.6 369.1h0M413.5 369.9h0M400.3 391.6h0M420.5 380.9h0M407.7 368.1h0M398.0 377.1h0M409.2 359.5h0M411.2 367.2h0M410.1 372.3h0M418.6 367.2h0M421.0 364.9h0M431.3 379.6h0M408.7 368.5h0M421.2 366.6h0M427.5 368.0h0M409.4 380.8h0M421.7 376.4h0M407.4 360.5h0M414.8 385.7h0M415.6 383.4h0M403.9 371.3h0M404.2 365.0h0M415.0 368.7h0M408.2 378.4h0M407.6 373.5h0M421.3 385.1h0M413.0 359.4h0M411.9 368.4h0M411.2 369.4h0M406.9 370.1h0M419.1 363.6h0M405.0 390.7h0M398.1 372.2h0M407.5 379.9h0M427.3 366.9h0M401.4 369.7h0M422.0 373.1h0M408.1 388.3h0M415.7 392.2h0M432.2 387.2h0M414.1 386.9h0M399.6 371.9h0M407.7 367.7h0M401.3 385.4h0M437.1 367.5h0M415.0 378.5h0M417.6 364.5h0M414.0 374.3h0M400.0 365.9h0M403.9 371.1h0M409.1 381.5h0M426.2 372.1h0M404.7 382.6h0M402.5 369.8h0M418.9 376.8h0M403.7 364.9h0M399.8 385.4h0M408.4 355.8h0M417.6 376.3h0M411.2 378.7h0M406.2 350.8h0M423.5 359.3h0M423.0 360.4h0M394.4 373.0h0M398.7 371.5h0M400.9 370.8h0M407.7 379.2h0M409.0 364.8h0M410.4 376.9h0M414.0 374.2h0M397.5 383.3h0M412.6 359.5h0M421.6 364.3h0M411.6 364.2h0M405.8 375.9h0M415.1 369.5h0M406.7 356.0h0M397.3 367.2h0M406.1 359.5h0M417.1 367.0h0M412.9 372.0h0M416.3 366.8h0M405.0 384.5h0M423.4 378.1h0M406.7 360.1h0M405.1 386.3h0M421.6 392.1h0M410.8 372.1h0M398.7 377.0h0M405.9 383.4h0M422.4 375.5h0M413.3 384.8h0M427.6 378.6h0M415.9 368.3h0M412.3 369.4h0M419.9 371.5h0M404.1 367.7h0M420.1 385.2h0M409.1 376.5h0M407.5 372.0h0M413.7 380.8h0M405.5 374.4h0M399.2 382.9h0M401.4 387.9h0M414.9 375.2h0M412.8 368.5h0M410.7 363.3h0M416.8 389.3h0M401.5 377.1h0M406.1 368.4h0M425.4 372.8h0M400.9 363.7h0M422.1 385.5h0M407.4 376.4h0M415.0 370.5h0M412.2 360.7h0M407.6 392.3h0M411.1 374.7h0M419.1 354.1h0M403.4 368.6h0M401.0 373.4h0M418.2 375.0h0M406.2 364.1h0M408.4 383.8h0M408.2 378.8h0M406.0 374.1h0M392.9 367.9h0M409.1 358.0h0M405.6 369.6h0M397.2 371.8h0M404.7 363.2h0M412.3 376.2h0M426.4 380.7h0M404.9 369.5h0M422.7 370.1h0M405.7 373.5h0M414.4 388.3h0M407.6 386.2h0M417.1 359.0h0M411.3 369.3h0M395.4 370.7h0M419.4 389.1h0M395.8 378.1h0M404.3 384.8h0M426.8 370.5h0M412.3 374.4h0M410.8 378.5h0M411.2 373.5h0M412.4 373.2h0M406.8 386.3h0M413.3 372.3h0M408.5 385.3h0M406.9 368.4h0M414.5 370.9h0M416.1 380.1h0M413.4 378.2h0M419.1 382.2h0M427.7 374.1h0M426.3 373.5h0M411.1 369.6h0M399.8 359.8h0M420.9 370.1h0M411.2 382.8h0M417.4 373.1h0M406.8 375.5h0M418.2 384.7h0M399.7 365.7h0M411.8 376.8h0M397.5 368.8h0M429.2 383.7h0M407.8 360.9h0M422.3 369.3h0M419.4 370.8h0M423.2 368.8h0M399.7 390.2h0M413.8 371.8h0M422.7 372.4h0M408.6 361.1h0M414.0 362.1h0M408.3 367.1h0M407.5 363.1h0M423.3 378.2h0M403.1 368.6h0M410.7 369.8h0M415.8 372.5h0M410.8 365.8h0M418.3 362.7h0M421.1 375.5h0M399.3 372.8h0M408.4 366.3h0M407.2 387.7h0M414.8 377.0h0M408.7 379.6h0M406.4 387.2h0M416.9 365.7h0M429.7 382.1h0M404.7 376.0h0M404.2 376.3h0M404.9 360.5h0M399.0 366.7h0M399.0 373.8h0M405.9 373.4h0M417.0 387.2h0M405.6 370.5h0M402.6 375.9h0M409.3 371.1h0M402.9 362.4h0M435.7 370.7h0M424.7 374.6h0M410.6 388.9h0M394.5 384.6h0M405.1 369.1h0M401.8 366.0h0M402.1 373.6h0M404.7 381.2h0M404.0 373.4h0M398.2 369.1h0M413.6 364.5h0M402.2 373.0h0M400.6 370.5h0M417.7 369.9h0M421.3 387.1h0M399.6 358.6h0M408.6 381.7h0M415.3 370.9h0M418.7 380.6h0M405.8 367.4h0M412.8 377.4h0M406.1 381.2h0M418.6 366.9h0M409.5 372.8h0M414.0 373.0h0M408.1 368.8h0M401.9 373.1h0M405.5 374.1h0M413.2 370.9h0M398.2 358.9h0M424.4 376.2h0M431.3 361.3h0M418.6 382.7h0M406.0 362.8h0M415.8 372.8h0M411.8 375.6h0M408.3 373.5h0M418.5 369.8h0M411.0 374.1h0M423.9 379.8h0M413.1 365.1h0M396.7 372.5h0M408.6 380.1h0M410.2 368.7h0M404.8 363.5h0M398.7 380.6h0M428.4 380.0h0M409.5 382.2h0M409.9 373.8h0M395.0 368.3h0M415.4 387.1h0M409.1 384.7h0M420.4 380.9h0M425.9 369.6h0M404.2 375.0h0M403.5 366.3h0M421.0 364.9h0M420.2 374.8h0M413.1 376.7h0M417.0 378.8h0M407.3 374.9h0M410.0 391.7h0M410.2 365.5h0M417.1 370.5h0M417.5 382.1h0M401.7 366.0h0M413.0 386.5h0M416.9 360.1h0M410.4 385.4h0M406.0 375.6h0M414.1 381.9h0M411.4 374.1h0M401.0 372.9h0M407.2 362.1h0M406.8 370.0h0M416.4 373.9h0M398.0 359.6h0M402.7 365.6h0M406.6 374.2h0M410.5 378.0h0M432.2 370.2h0M408.6 386.3h0M420.0 369.7h0M417.4 379.6h0M422.2 385.6h0M426.3 367.4h0M415.6 384.2h0M401.3 373.0h0M406.9 366.9h0M424.1 388.2h0M430.2 388.5h0M422.1 371.6h0M432.5 383.6h0M416.6 382.9h0M402.5 374.1h0M413.0 373.3h0M418.8 368.6h0M418.2 374.6h0M402.1 373.4h0M421.2 370.6h0M405.0 371.9h0M412.8 362.8h0M416.3 379.7h0M416.8 362.6h0M415.1 384.0h0M405.2 380.5h0M409.0 371.0h0M418.9 371.1h0M406.0 368.7h0M399.3 374.5h0M410.4 377.3h0M401.8 370.8h0M410.2 389.7h0M400.3 371.0h0M406.1 371.4h0M419.0 380.3h0M402.0 384.9h0M399.1 379.9h0M411.2 379.2h0M417.8 380.5h0M401.6 381.2h0M410.3 364.3h0M414.8 353.8h0M392.8 372.1h0M411.0 361.6h0M407.7 375.9h0M412.0 364.1h0M403.8 374.8h0M409.0 384.1h0M409.9 368.1h0M422.8 381.4h0M411.9 367.9h0M410.7 373.8h0M413.3 373.3h0M423.3 363.3h0M403.7 382.7h0M396.3 365.0h0M399.7 382.4h0M403.8 377.8h0M410.9 365.2h0M417.7 371.4h0M403.2 382.0h0M400.6 372.0h0M420.1 365.8h0M402.8 384.9h0M417.1 360.0h0M408.3 372.2h0M405.4 383.2h0M408.8 357.8h0M402.0 376.8h0M394.1 364.8h0M396.7 362.8h0M402.9 368.0h0M412.8 369.6h0M413.7 370.1h0M418.0 369.2h0M402.5 366.9h0M409.7 351.5h0M396.4 386.2h0M419.6 378.4h0M408.6 371.9h0M427.6 365.7h0M416.3 376.8h0M405.5 376.8h0M403.4 366.4h0M422.2 380.9h0M419.2 376.9h0M443.7 373.9h0M429.4 375.4h0M413.0 367.9h0M400.1 373.8h0M393.3 375.0h0M406.3 367.8h0M409.6 373.3h0M396.1 382.3h0M416.5 383.4h0M419.1 355.1h0M400.7 361.7h0M407.5 383.1h0M396.6 378.0h0M419.5 378.2h0M401.5 362.1h0M399.2 374.9h0M400.2 378.1h0M393.5 367.9h0M419.9 369.3h0M415.9 377.0h0M398.2 375.9h0M401.4 385.7h0M409.1 354.4h0M410.9 369.1h0M399.8 385.2h0M422.6 364.2h0M415.9 375.2h0M429.0 386.9h0M394.8 377.2h0M416.7 391.2h0M412.0 363.1h0M407.2 356.8h0M398.9 383.6h0M414.6 370.0h0M405.0 373.8h0M422.8 374.9h0M420.4 385.1h0M418.6 371.7h0M392.3 383.0h0M412.9 381.0h0M426.6 374.2h0M427.4 383.5h0M421.8 376.9h0M420.8 373.4h0M423.9 356.7h0M427.8 364.1h0M414.0 365.3h0M414.8 370.5h0M408.6 375.8h0M411.7 372.3h0M414.5 369.7h0M408.3 364.7h0M395.4 374.4h0M404.0 370.4h0M413.8 369.9h0M411.9 382.3h0M423.8 377.0h0M419.1 384.1h0M422.3 364.8h0M409.5 379.6h0M420.2 374.3h0M403.2 368.7h0M403.5 360.3h0M418.5 373.5h0M412.2 363.9h0M402.4 380.5h0M419.0 378.2h0M423.9 378.4h0M422.5 385.4h0M418.8 356.3h0M418.8 379.4h0M402.3 376.0h0M392.1 376.0h0M406.7 369.7h0M404.6 349.2h0M399.2 362.3h0M411.0 379.6h0M403.1 375.8h0M409.9 382.2h0M401.3 370.8h0M407.4 369.4h0M424.2 381.0h0M400.0 375.6h0M393.2 358.8h0M423.4 382.5h0M417.3 364.5h0M409.5 381.9h0M406.0 375.8h0M412.8 379.2h0M406.4 383.1h0M419.1 365.1h0M407.0 379.9h0M403.8 373.6h0M415.1 371.8h0M402.2 374.1h0M415.1 369.6h0M398.6 374.5h0M404.7 376.3h0M411.6 368.4h0M403.1 383.8h0M419.3 374.9h0M409.0 364.3h0M411.9 378.1h0M415.2 361.4h0M410.7 376.7h0M412.2 376.4h0M413.0 372.6h0M403.0 377.5h0M399.4 375.7h0M396.4 353.9h0M410.1 374.8h0M410.1 379.0h0M407.8 380.5h0M429.1 385.1h0M409.6 377.1h0M411.3 385.7h0M394.7 381.7h0M412.7 369.9h0M418.7 367.9h0M401.3 385.4h0M429.8 380.3h0M404.4 358.6h0M411.2 364.7h0M406.2 384.4h0M406.1 375.5h0M418.0 378.0h0M421.7 379.9h0M399.2 373.7h0M404.7 372.3h0M433.7 369.4h0M400.5 369.5h0M407.7 376.5h0M413.7 372.6h0M424.7 360.9h0M409.1 371.6h0M415.5 371.9h0M418.3 359.3h0M402.4 373.4h0M410.6 368.3h0M427.6 374.5h0M413.3 360.3h0M430.0 374.4h0M398.3 363.3h0M403.0 366.7h0M410.1 368.3h0M400.0 369.2h0M416.0 369.2h0M399.1 369.1h0M413.0 368.6h0M395.4 367.8h0M401.7 368.9h0M412.2 371.0h0M415.5 390.8h0M400.6 382.2h0M395.4 368.7h0M415.1 361.9h0M400.2 384.2h0M413.6 373.9h0M422.2 377.2h0M416.0 384.4h0M395.3 357.1h0M421.7 368.7h0M420.5 375.7h0M404.2 386.5h0M405.8 373.3h0M423.5 374.8h0M412.9 373.7h0M414.0 373.7h0M420.3 375.4h0M415.0 369.0h0M436.8 367.7h0M423.2 370.7h0M411.4 379.6h0M411.1 384.5h0M407.1 375.2h0M421.6 371.6h0M398.6 385.0h0M418.5 379.0h0M404.4 380.6h0M392.4 373.0h0M419.4 370.4h0M414.2 378.4h0M412.8 372.7h0M407.1 384.5h0M409.8 366.2h0M404.0 377.0h0M422.9 374.2h0M423.2 365.1h0M409.7 370.9h0M410.2 364.8h0M412.9 371.0h0M418.8 371.7h0M405.8 364.9h0M407.9 379.8h0M412.9 370.0h0M408.8 377.3h0M406.5 371.1h0M422.0 367.0h0M414.2 386.8h0M419.0 384.0h0M401.8 358.6h0M418.2 372.8h0M410.5 370.9h0M407.8 360.0h0M403.7 375.6h0M404.2 378.6h0M405.8 374.5h0M411.4 378.2h0M409.5 389.8h0M429.5 370.1h0M414.9 385.2h0M409.4 348.4h0M402.7 372.1h0M402.6 386.1h0M413.7 377.1h0M395.8 368.7h0M425.8 386.8h0M425.3 382.0h0M396.2 359.9h0M421.9 381.5h0M420.9 372.5h0M421.1 376.0h0M416.8 363.7h0M426.0 379.0h0M402.6 375.6h0M406.0 365.8h0M416.2 371.2h0M410.8 386.8h0M396.7 387.8h0M418.2 360.9h0M420.2 378.7h0M408.3 371.5h0M414.0 369.7h0M419.5 376.4h0M405.0 379.1h0M402.0 365.7h0M409.0 374.7h0M398.5 378.2h0M398.2 384.1h0M412.4 373.6h0M427.8 375.5h0M398.6 376.3h0M425.7 380.0h0M419.5 357.6h0M420.0 386.6h0M423.0 377.1h0M406.4 374.4h0M421.1 364.6h0M396.0 376.6h0M402.8 391.8h0M413.6 369.0h0M417.8 359.8h0M397.3 378.2h0M392.2 374.5h0M414.3 373.8h0M413.2 360.7h0M417.0 378.0h0M409.7 380.0h0M397.9 335.9h0M421.2 375.7h0M417.8 381.1h0M412.0 366.3h0M431.2 355.3h0M412.7 375.1h0M409.1 377.5h0M399.4 377.3h0M408.2 367.4h0M421.7 386.9h0M394.1 362.4h0M417.3 368.8h0M407.8 370.6h0M419.1 376.9h0M414.0 374.7h0M400.9 361.1h0M416.0 363.8h0M410.1 389.6h0M419.0 375.1h0M429.0 374.3h0M408.6 371.2h0M426.1 376.8h0M409.6 367.6h0M416.3 384.2h0M412.3 381.9h0M404.1 374.2h0M411.7 382.5h0M406.2 372.9h0M415.9 370.6h0M400.4 383.1h0M401.3 373.5h0M418.8 367.1h0M415.6 388.5h0M415.9 372.7h0M415.9 378.4h0M420.5 387.8h0M415.1 363.0h0M419.3 371.6h0M403.1 383.0h0M415.5 371.7h0M403.5 370.4h0M398.7 373.0h0M408.4 371.7h0M416.7 371.6h0M410.8 378.0h0M427.6 375.2h0M417.0 389.7h0M414.6 377.3h0M411.7 389.3h0M397.8 375.6h0M411.1 389.9h0M410.8 373.2h0M427.3 385.3h0M403.1 375.9h0M409.4 388.8h0M403.7 367.4h0M412.0 370.3h0M394.1 377.9h0M413.4 365.9h0M410.7 387.5h0M412.3 372.9h0M435.7 379.2h0M409.8 383.6h0M415.2 379.8h0M410.4 367.9h0M421.0 362.6h0M432.0 359.6h0M426.8 366.4h0M413.8 367.8h0M398.5 367.4h0M414.7 378.5h0M394.8 362.3h0M402.2 360.0h0M404.9 376.0h0M400.0 390.3h0M410.6 366.2h0M407.1 373.3h0M403.5 373.9h0M414.1 384.1h0M403.5 382.1h0M422.9 370.4h0M416.6 382.6h0M406.4 375.0h0M414.8 381.6h0M404.0 390.5h0M404.5 354.9h0M420.3 361.7h0M395.2 362.3h0M414.9 363.3h0M428.9 375.3h0M433.5 389.8h0M399.3 380.2h0M404.7 378.1h0M392.1 370.1h0M408.5 380.4h0M418.2 369.8h0M402.9 373.4h0M411.5 372.9h0M416.3 369.0h0M427.1 368.5h0M409.5 374.8h0M417.3 373.2h0M415.3 363.3h0M410.9 389.0h0M407.1 389.3h0M413.9 388.8h0M417.1 384.7h0M397.6 373.4h0M406.8 365.8h0M413.6 365.2h0M413.2 358.8h0M413.6 371.3h0M426.2 358.9h0M420.5 375.1h0M398.2 376.5h0M425.7 369.4h0M403.5 369.4h0M402.3 373.6h0M420.8 379.2h0M407.2 371.1h0M394.0 389.1h0M416.3 366.2h0M414.7 368.7h0M415.5 369.8h0M396.7 372.3h0M418.1 376.0h0M404.3 378.9h0M419.0 371.2h0M398.2 388.1h0M401.0 357.7h0M402.7 374.4h0M420.6 362.0h0M412.6 361.4h0M404.8 374.9h0M423.6 384.1h0M412.3 377.5h0M417.7 373.2h0M413.5 371.1h0M409.3 369.6h0M411.6 370.4h0M414.5 379.5h0M421.2 383.3h0M416.1 378.7h0M418.8 367.8h0M399.4 378.9h0M413.3 357.8h0M411.7 376.6h0M414.5 369.1h0M400.5 374.8h0M411.6 362.7h0M399.9 364.5h0M411.0 372.8h0M409.5 369.0h0M408.5 369.5h0M413.2 366.1h0M405.3 377.6h0M410.0 383.2h0M417.0 365.3h0M424.8 376.0h0M414.1 369.9h0M418.1 376.0h0M415.8 383.5h0M426.4 376.0h0M430.5 372.7h0M404.0 364.6h0M416.9 383.6h0M413.1 388.1h0M425.6 357.0h0M403.9 372.2h0M393.3 362.6h0M423.6 388.8h0M412.9 378.3h0M416.7 392.0h0M414.2 366.8h0M412.9 369.7h0M414.2 360.6h0M406.2 374.3h0M413.4 370.9h0M409.6 383.7h0M404.7 378.4h0M404.3 382.1h0M422.9 374.8h0M403.0 380.4h0M399.9 372.7h0M416.6 362.7h0M424.4 377.9h0M397.6 373.2h0M400.6 366.7h0M400.0 364.0h0M413.9 384.3h0M415.6 359.3h0M423.9 366.4h0M409.6 376.8h0M407.7 379.0h0M404.3 375.7h0M421.1 360.5h0M404.4 383.2h0M402.1 372.7h0M407.9 360.8h0M409.9 383.1h0M414.0 372.8h0M404.0 357.6h0M427.1 350.5h0M428.7 372.3h0M399.2 368.1h0M411.5 376.0h0M400.3 375.0h0M407.4 366.8h0M398.2 377.4h0M407.4 375.6h0M412.7 364.4h0M411.7 380.5h0M397.1 375.4h0M392.1 376.7h0M421.9 366.6h0M408.3 366.7h0M410.8 372.7h0M424.2 365.4h0M400.4 386.9h0M414.1 375.8h0M403.5 380.0h0M411.9 389.4h0M406.2 392.1h0M409.4 366.3h0M411.1 388.2h0M396.2 370.2h0M407.7 372.0h0M418.7 375.7h0M409.2 374.6h0M418.4 373.7h0M416.5 376.6h0M412.4 387.2h0M406.5 354.7h0M410.8 361.2h0M401.0 362.6h0M416.5 376.5h0M413.2 374.9h0M421.6 377.3h0M431.9 390.5h0M418.3 374.2h0M415.6 361.5h0M411.9 377.8h0M418.3 389.9h0M423.5 391.3h0M407.3 373.4h0M397.8 375.3h0M396.8 376.9h0M419.8 379.2h0M414.6 372.8h0M415.3 369.9h0M393.8 387.6h0M404.6 387.4h0M394.9 374.2h0M399.0 368.9h0M404.5 368.6h0M403.4 364.0h0M425.5 363.2h0M397.7 371.6h0M404.0 367.7h0M402.8 376.4h0M410.8 369.5h0M417.2 365.9h0M402.3 370.6h0M393.8 352.1h0M405.9 377.2h0M413.9 371.9h0M399.5 386.0h0M419.5 370.1h0M400.1 372.7h0M403.8 366.0h0M405.7 392.2h0M428.6 376.4h0M417.7 384.7h0M413.5 371.0h0M400.2 379.1h0M399.2 365.7h0M403.2 368.6h0M425.6 371.3h0M422.7 366.2h0M411.5 380.3h0M403.2 381.3h0M392.9 384.3h0M405.6 365.9h0M415.1 368.8h0M415.5 373.5h0M413.8 379.6h0M403.2 362.9h0M415.0 371.5h0M408.5 382.9h0M418.6 374.7h0M412.5 372.9h0M417.5 364.0h0M413.3 370.9h0M405.4 379.9h0M421.5 382.7h0M400.0 359.1h0M416.6 377.3h0M405.8 370.6h0M406.5 365.6h0M412.7 389.8h0M405.0 379.5h0M400.1 364.3h0M401.1 364.8h0M399.1 375.2h0M410.3 360.8h0M413.1 371.9h0M409.2 378.0h0M395.0 362.1h0M411.3 375.1h0M419.2 377.4h0M399.0 367.9h0M401.3 376.8h0M418.9 379.3h0M408.4 377.3h0M420.5 367.7h0M406.8 381.0h0M396.2 370.7h0M409.7 375.4h0M409.5 374.1h0M412.9 373.5h0M401.8 356.0h0M405.6 382.6h0M429.8 377.7h0M404.7 374.6h0M425.4 378.9h0M399.2 369.9h0M412.3 372.2h0M413.7 377.9h0M418.5 354.7h0M410.0 367.0h0M403.8 368.3h0M411.1 370.9h0M395.7 368.8h0M395.1 375.6h0M425.2 380.3h0M418.1 377.4h0M427.9 382.4h0M414.8 377.9h0M395.9 386.4h0M400.5 387.3h0M413.1 369.5h0M402.0 366.4h0M400.9 368.3h0M399.6 370.5h0M402.7 379.8h0M414.1 375.4h0M403.1 367.7h0M422.2 369.9h0M426.0 371.8h0M409.4 375.4h0M420.1 347.2h0M420.7 375.7h0M412.1 377.8h0M408.3 367.2h0M422.4 385.9h0M416.4 380.2h0M408.3 379.6h0M405.2 359.7h0M410.1 380.4h0M419.1 374.9h0M416.7 375.2h0M404.4 353.5h0M408.6 360.0h0M411.6 370.8h0M406.1 361.8h0M409.2 384.9h0M400.7 363.7h0M402.3 380.0h0M412.8 376.7h0M407.1 374.0h0M430.9 386.5h0M408.4 369.7h0M416.8 363.6h0M412.8 376.7h0M405.5 384.8h0M416.6 368.9h0M420.6 382.7h0M410.2 378.7h0M414.9 373.7h0M437.3 375.4h0M401.6 374.8h0M408.2 368.3h0M415.6 374.9h0M410.1 377.3h0M402.3 367.2h0M405.5 350.8h0M407.9 379.3h0M407.5 367.7h0M410.6 378.5h0M425.3 366.2h0M412.3 377.0h0M406.6 371.7h0M416.8 370.8h0M416.3 373.2h0M400.0 376.8h0M404.3 358.3h0M399.7 384.6h0M413.3 382.6h0M418.4 376.5h0M408.1 359.3h0M421.9 381.1h0M404.7 373.7h0M407.1 388.1h0M409.5 369.6h0M411.9 372.0h0M426.0 382.3h0M399.6 354.9h0M415.5 370.2h0M410.9 372.1h0M421.4 353.3h0M397.5 365.4h0M399.2 375.7h0M426.4 376.6h0M422.2 388.2h0M420.5 382.0h0M409.0 361.9h0M420.3 380.6h0M410.3 377.1h0M399.9 374.6h0M408.9 363.7h0M407.7 390.1h0M400.3 389.2h0M404.7 376.4h0M403.6 366.5h0M415.2 363.7h0M419.4 363.9h0M420.8 381.5h0M420.6 358.7h0M400.1 383.8h0M415.6 372.2h0M417.9 376.8h0M414.1 380.4h0M411.7 372.3h0M402.3 377.1h0M418.7 375.0h0M396.2 374.1h0M415.4 374.7h0M406.0 365.0h0M397.6 376.6h0M405.9 361.8h0M408.7 383.7h0M418.1 370.5h0M417.8 363.5h0M421.9 379.6h0M417.3 379.8h0M405.8 374.7h0M406.0 360.5h0M411.7 362.3h0M406.9 378.6h0M417.4 376.4h0M411.2 379.0h0M428.9 366.2h0M405.3 383.6h0M420.0 368.3h0M411.5 374.2h0M414.8 366.7h0M410.8 363.2h0M420.6 367.1h0M415.0 365.7h0M405.6 370.3h0M409.1 387.4h0M407.9 376.5h0M410.9 368.9h0M412.3 377.5h0M406.0 368.8h0M404.6 383.8h0M410.0 380.9h0M393.2 370.7h0M414.0 373.5h0M413.7 374.6h0M399.7 363.8h0M409.9 372.7h0M414.3 373.7h0M419.5 381.4h0M414.6 372.0h0M419.1 379.1h0M409.1 389.4h0M418.2 370.1h0M416.7 386.6h0M408.9 366.7h0M410.9 363.9h0M394.2 375.6h0M397.2 372.6h0M419.7 361.1h0M419.9 385.4h0M402.3 381.5h0M395.5 365.4h0M421.0 373.3h0M413.3 363.1h0M428.2 376.9h0M422.1 362.1h0M429.4 358.8h0M418.0 386.7h0M404.7 368.4h0M406.8 367.3h0M420.6 372.0h0M396.5 367.7h0M406.1 378.0h0M422.3 381.4h0M404.7 381.8h0M419.1 354.3h0M420.2 375.6h0M412.8 374.7h0M404.3 384.3h0M416.3 379.5h0M405.4 358.8h0M416.0 376.2h0M410.9 372.5h0M417.2 383.8h0M400.9 355.6h0M403.6 379.6h0M427.6 375.3h0M412.9 379.8h0M408.3 377.5h0M401.4 355.6h0M405.0 380.1h0M412.2 373.7h0M398.4 367.0h0M409.6 382.3h0M407.5 373.6h0M410.1 383.5h0M421.6 364.2h0M405.8 380.9h0M407.9 374.0h0M412.4 373.8h0M404.2 372.7h0M393.3 383.0h0M410.2 366.9h0M405.7 377.8h0M403.8 360.4h0M423.2 376.9h0M411.0 362.8h0M402.8 362.8h0M403.4 373.6h0M425.1 364.1h0M417.7 383.7h0M393.0 364.3h0M415.7 388.1h0M405.2 381.2h0M404.4 374.9h0M420.6 379.6h0M416.8 375.8h0M409.8 378.4h0M416.0 368.8h0M408.8 377.4h0M413.9 371.0h0M403.3 373.4h0M422.3 368.8h0M423.8 369.3h0M403.7 381.5h0M396.4 373.7h0M405.5 380.8h0M418.2 371.3h0M411.9 373.2h0M409.4 369.9h0M411.7 385.4h0M395.9 388.5h0M409.5 373.3h0M409.0 382.0h0M403.9 361.3h0M417.5 362.8h0M403.7 380.6h0M403.9 358.7h0M416.0 383.0h0M410.7 389.4h0M412.2 373.3h0M413.7 362.1h0M413.2 366.3h0M400.6 366.4h0M417.9 381.6h0M429.2 364.9h0M413.7 366.9h0M407.5 388.0h0M421.2 363.3h0M416.0 368.5h0M402.8 386.3h0M404.5 359.5h0M419.8 352.6h0M397.5 367.9h0M422.0 376.0h0M403.5 373.8h0M412.8 369.2h0M405.8 362.7h0M413.6 381.7h0M421.1 369.6h0M416.0 368.3h0M398.4 374.5h0M407.5 387.1h0M411.3 375.8h0M405.1 371.3h0M406.2 379.7h0M402.6 355.0h0M409.5 368.4h0M416.3 374.0h0M400.5 367.9h0M423.4 367.2h0M422.0 369.2h0M417.7 365.5h0M416.0 369.4h0M433.3 374.9h0M399.9 377.6h0M404.7 364.6h0M430.6 372.4h0M398.3 367.0h0M413.0 382.4h0M408.4 389.8h0M401.1 376.0h0M400.9 378.0h0M408.0 371.9h0M412.6 378.7h0M414.7 372.4h0M415.7 362.9h0M410.7 385.5h0M415.8 380.0h0M403.9 374.3h0M397.3 378.6h0M418.0 389.4h0M415.3 381.0h0M422.2 376.0h0M398.1 354.8h0M401.8 379.5h0M412.9 377.6h0M400.7 373.4h0M419.9 363.2h0M416.1 376.7h0M400.5 376.0h0M417.3 379.3h0M396.2 390.6h0M405.6 374.8h0M412.2 384.3h0M418.5 366.3h0M433.3 330.2h0M418.7 335.5h0M432.6 331.8h0M408.9 337.3h0M407.5 335.3h0M418.5 322.7h0M414.5 362.4h0M423.9 352.5h0M420.7 334.7h0M420.8 318.5h0M410.4 360.6h0M415.3 315.6h0M421.0 330.9h0M411.8 328.8h0M415.6 335.7h0M423.5 351.3h0M415.3 356.5h0M417.1 349.4h0M423.5 330.0h0M418.5 362.3h0M406.1 360.8h0M416.4 355.5h0M415.8 376.3h0M417.8 331.3h0M430.5 335.2h0M423.1 335.0h0M416.6 337.1h0M411.3 353.7h0M421.2 347.9h0M416.9 339.9h0M424.2 360.3h0M417.7 344.1h0M422.2 337.8h0M410.4 336.9h0M414.5 328.1h0M416.0 342.1h0M410.3 333.8h0M418.2 343.6h0M413.2 350.0h0M413.2 351.1h0M411.1 339.1h0M415.0 369.9h0M404.9 330.0h0M421.4 354.3h0M418.3 345.4h0M419.3 348.7h0M423.8 336.1h0M417.4 334.8h0M413.6 353.3h0M424.2 322.4h0M413.1 346.7h0M416.6 325.8h0M401.5 321.0h0M412.0 345.9h0M415.4 337.5h0M419.8 370.3h0M418.9 321.9h0M421.8 346.9h0M411.8 346.3h0M411.8 347.1h0M416.8 338.8h0M410.2 323.8h0M412.8 354.5h0M415.8 354.7h0M402.4 350.0h0M405.0 348.5h0M418.0 360.6h0M410.6 357.8h0M420.2 354.0h0M412.1 336.7h0M408.5 358.2h0M419.3 333.6h0M413.6 350.0h0M417.6 331.9h0M410.8 342.9h0M410.0 355.3h0M413.1 340.9h0M410.1 357.4h0M414.0 338.8h0M408.6 366.8h0M417.4 342.9h0M420.2 379.0h0M418.2 354.4h0M406.9 344.5h0M423.1 330.3h0M403.8 339.5h0M416.5 370.7h0M415.8 328.7h0M420.1 324.5h0M410.7 348.9h0M411.8 361.4h0M422.6 340.1h0M422.5 333.8h0M408.5 342.1h0M413.3 342.2h0M410.0 359.7h0M398.3 369.5h0M422.5 343.1h0M410.8 334.2h0M415.5 329.3h0M416.7 322.3h0M406.7 344.0h0M421.0 324.6h0M410.8 354.3h0M405.6 341.9h0M417.3 335.7h0M416.2 363.7h0M411.6 322.2h0M414.7 356.7h0M426.1 346.3h0M419.6 348.3h0M415.2 344.8h0M412.7 330.1h0M427.0 352.8h0M412.3 360.5h0M402.4 318.5h0M423.0 346.2h0M411.9 343.3h0M401.0 341.0h0M406.0 350.2h0M406.3 342.3h0M400.8 339.6h0M410.2 360.4h0M411.2 332.2h0M425.7 339.5h0M414.5 339.3h0M411.3 334.3h0M414.0 337.9h0M416.3 363.1h0M421.5 333.8h0M423.6 377.5h0M402.4 324.0h0M405.5 313.0h0M414.9 335.5h0M427.5 328.0h0M411.9 361.0h0M422.1 350.6h0M411.4 330.6h0M411.4 342.0h0M413.4 340.5h0M424.1 379.0h0M412.0 346.5h0M415.6 348.1h0M417.2 351.6h0M421.1 347.6h0M415.5 344.6h0M420.9 333.3h0M426.1 345.8h0M420.3 347.3h0M412.7 327.0h0M414.2 345.6h0M416.9 328.1h0M413.4 322.6h0M407.9 343.6h0M409.1 351.4h0M411.5 356.8h0M402.4 337.2h0M434.1 325.3h0M420.7 332.8h0M411.5 341.1h0M410.3 343.0h0M423.1 350.7h0M406.0 342.1h0M408.5 358.4h0M421.9 336.1h0M414.6 350.7h0M420.2 352.9h0M415.9 349.6h0M415.2 351.5h0M411.0 330.2h0M418.3 356.1h0M416.7 337.8h0M416.7 342.2h0M412.4 331.3h0M423.0 349.4h0M415.6 338.8h0M419.1 335.6h0M407.6 353.6h0M404.4 334.6h0M419.9 349.4h0M410.9 347.0h0M409.7 351.6h0M417.5 345.3h0M423.8 328.7h0M413.4 346.6h0M413.3 349.5h0M418.1 369.2h0M418.7 369.1h0M415.6 356.2h0M403.4 357.6h0M420.2 311.1h0M410.1 337.8h0M428.8 330.4h0M410.7 352.7h0M416.6 351.8h0M414.8 352.0h0M416.5 352.5h0M431.5 349.6h0M413.5 343.4h0M421.9 337.1h0M415.2 354.2h0M412.9 344.9h0M420.2 358.8h0M417.4 339.0h0M414.0 341.3h0M408.9 334.5h0M418.0 353.5h0M437.4 334.1h0M414.3 313.8h0M419.3 334.2h0M411.4 335.7h0M437.8 344.7h0M405.9 340.2h0M411.4 361.5h0M403.0 349.1h0M419.7 357.6h0M416.2 363.2h0M418.0 358.7h0M415.2 357.1h0M425.4 338.7h0M424.2 350.8h0M422.9 343.7h0M397.7 355.2h0M409.3 337.4h0M415.9 353.7h0M421.0 338.5h0M397.3 354.8h0M425.6 361.1h0M417.5 361.2h0M451.4 327.7h0M456.0 322.5h0M448.0 334.8h0M453.0 329.0h0M448.8 335.0h0M452.6 325.5h0M449.4 334.5h0M452.4 331.2h0M450.7 332.3h0M455.9 337.5h0M458.2 324.6h0M454.8 329.1h0M455.2 338.7h0M453.8 339.6h0M452.3 335.8h0M452.0 322.0h0M449.5 331.9h0M450.5 327.3h0M454.7 327.9h0M451.5 318.7h0M453.6 314.6h0M450.2 337.7h0M458.6 336.4h0M456.1 319.4h0M452.3 327.6h0M457.5 330.7h0M453.9 325.9h0M455.5 334.1h0M452.2 327.3h0M451.4 319.8h0M456.3 327.1h0M454.5 333.6h0M454.8 323.3h0M455.2 335.9h0M453.0 338.1h0M451.4 334.8h0M453.6 334.5h0M448.0 329.5h0M452.9 334.3h0M455.6 324.7h0M452.0 312.6h0M457.5 324.9h0M459.4 354.4h0M457.3 352.2h0M446.8 351.3h0M451.0 345.5h0M448.5 358.6h0M446.2 348.5h0M450.4 352.1h0" stroke="#000" stroke-width="1.12" stroke-linecap="round" fill="none"/>
<path d="M498.3 287.5V393.1" fill="none" stroke="#555" stroke-width="0.9"/>
<path d="M498.3 287.5H388.8M498.3 393.1H388.8M391.2 287.5V395.70000000000005" fill="none" stroke="#5a5a5a" stroke-width="0.95"/>
<path d="M391.2 393.1v2.6M391.2 393.1h-2.6M399.3 393.1v1.5M391.2 385.2h-1.5M404.0 393.1v1.5M391.2 380.5h-1.5M407.3 393.1v1.5M391.2 377.2h-1.5M409.9 393.1v1.5M391.2 374.6h-1.5M412.0 393.1v1.5M391.2 372.6h-1.5M413.8 393.1v1.5M391.2 370.8h-1.5M415.4 393.1v1.5M391.2 369.3h-1.5M416.7 393.1v1.5M391.2 367.9h-1.5M418.0 393.1v2.6M391.2 366.7h-2.6M426.0 393.1v1.5M391.2 358.8h-1.5M430.7 393.1v1.5M391.2 354.1h-1.5M434.1 393.1v1.5M391.2 350.8h-1.5M436.7 393.1v1.5M391.2 348.2h-1.5M438.8 393.1v1.5M391.2 346.2h-1.5M440.6 393.1v1.5M391.2 344.4h-1.5M442.2 393.1v1.5M391.2 342.9h-1.5M443.5 393.1v1.5M391.2 341.5h-1.5M444.8 393.1v2.6M391.2 340.3h-2.6M452.8 393.1v1.5M391.2 332.4h-1.5M457.5 393.1v1.5M391.2 327.7h-1.5M460.9 393.1v1.5M391.2 324.4h-1.5M463.5 393.1v1.5M391.2 321.8h-1.5M465.6 393.1v1.5M391.2 319.8h-1.5M467.4 393.1v1.5M391.2 318.0h-1.5M468.9 393.1v1.5M391.2 316.5h-1.5M470.3 393.1v1.5M391.2 315.1h-1.5M471.5 393.1v2.6M391.2 313.9h-2.6M479.6 393.1v1.5M391.2 306.0h-1.5M484.3 393.1v1.5M391.2 301.3h-1.5M487.6 393.1v1.5M391.2 298.0h-1.5M490.2 393.1v1.5M391.2 295.4h-1.5M492.4 393.1v1.5M391.2 293.4h-1.5M494.2 393.1v1.5M391.2 291.6h-1.5M495.7 393.1v1.5M391.2 290.1h-1.5M497.1 393.1v1.5M391.2 288.7h-1.5" stroke="#222" stroke-width="0.7" fill="none"/>
<rect x="435.8" y="306.8" width="39.5" height="71.5" fill="none" stroke="#111" stroke-width="1.1"/>
<text x="455.6" y="303.1" font-size="10.4" text-anchor="middle" textLength="26.5" lengthAdjust="spacingAndGlyphs">1.6 %</text>
<path d="M6.2 291.2V317.4M6.2 366.6V387.8" stroke="#333" stroke-width="1"/>
<text transform="translate(8.8 341.6) rotate(-90)" font-size="10.7" text-anchor="middle" textLength="26.5" lengthAdjust="spacingAndGlyphs">B220</text>
<path d="M268.3 291.2V317.4M268.3 366.6V387.8" stroke="#333" stroke-width="1"/>
<text transform="translate(270.9 341.6) rotate(-90)" font-size="10.7" text-anchor="middle" textLength="26.5" lengthAdjust="spacingAndGlyphs">B220</text>
<path d="M18.7 404.3H96.3M149.2 404.3H232M281.3 404.3H359.2M411.5 404.3H494.6" stroke="#333" stroke-width="1"/>
<text x="122.8" y="407.7" font-size="11.1" text-anchor="middle" textLength="30.6" lengthAdjust="spacingAndGlyphs">CFSE</text>
<text x="385.2" y="407.7" font-size="11.1" text-anchor="middle" textLength="30.6" lengthAdjust="spacingAndGlyphs">CFSE</text>
</svg></body></html>
